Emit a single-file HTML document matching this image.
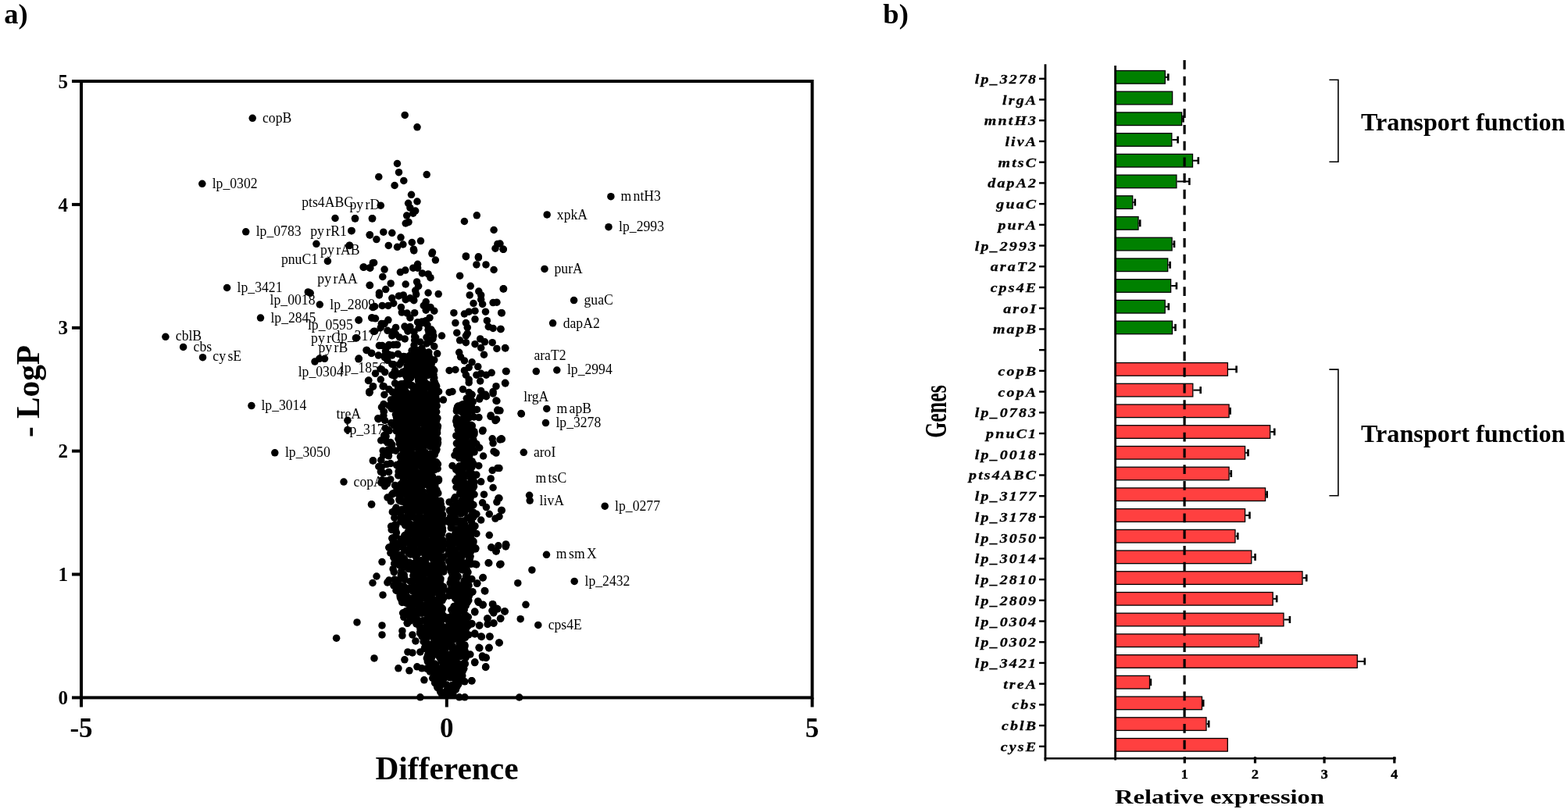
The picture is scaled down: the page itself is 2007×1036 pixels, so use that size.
<!DOCTYPE html>
<html><head><meta charset="utf-8"><title>Volcano plot and relative expression</title>
<style>html,body{margin:0;padding:0;background:#fff;width:2007px;height:1036px;overflow:hidden}svg{display:block}</style>
</head><body>
<svg width="2007" height="1036" viewBox="0 0 2007 1036">
<rect width="2007" height="1036" fill="#fff"/>
<text x="5.3" y="29.6" font-family="'Liberation Serif','Times New Roman',serif" font-weight="bold" font-size="36.6">a)</text>
<text x="1130.3" y="29.6" font-family="'Liberation Serif','Times New Roman',serif" font-weight="bold" font-size="36.6">b)</text>
<rect x="104" y="104" width="935.5999999999999" height="789.4" fill="none" stroke="#000" stroke-width="4"/>
<line x1="92" y1="893.4" x2="104" y2="893.4" stroke="#000" stroke-width="4"/>
<text x="87" y="902.0" text-anchor="end" font-family="'Liberation Serif','Times New Roman',serif" font-weight="bold" font-size="25">0</text>
<line x1="92" y1="735.5" x2="104" y2="735.5" stroke="#000" stroke-width="4"/>
<text x="87" y="744.1" text-anchor="end" font-family="'Liberation Serif','Times New Roman',serif" font-weight="bold" font-size="25">1</text>
<line x1="92" y1="577.6" x2="104" y2="577.6" stroke="#000" stroke-width="4"/>
<text x="87" y="586.2" text-anchor="end" font-family="'Liberation Serif','Times New Roman',serif" font-weight="bold" font-size="25">2</text>
<line x1="92" y1="419.8" x2="104" y2="419.8" stroke="#000" stroke-width="4"/>
<text x="87" y="428.4" text-anchor="end" font-family="'Liberation Serif','Times New Roman',serif" font-weight="bold" font-size="25">3</text>
<line x1="92" y1="261.9" x2="104" y2="261.9" stroke="#000" stroke-width="4"/>
<text x="87" y="270.5" text-anchor="end" font-family="'Liberation Serif','Times New Roman',serif" font-weight="bold" font-size="25">4</text>
<line x1="92" y1="104.0" x2="104" y2="104.0" stroke="#000" stroke-width="4"/>
<text x="87" y="112.6" text-anchor="end" font-family="'Liberation Serif','Times New Roman',serif" font-weight="bold" font-size="25">5</text>
<line x1="104.0" y1="893.4" x2="104.0" y2="905.5" stroke="#000" stroke-width="4"/>
<text x="104.0" y="944" text-anchor="middle" font-family="'Liberation Serif','Times New Roman',serif" font-weight="bold" font-size="35">-5</text>
<line x1="571.8" y1="893.4" x2="571.8" y2="905.5" stroke="#000" stroke-width="4"/>
<text x="571.8" y="944" text-anchor="middle" font-family="'Liberation Serif','Times New Roman',serif" font-weight="bold" font-size="35">0</text>
<line x1="1039.6" y1="893.4" x2="1039.6" y2="905.5" stroke="#000" stroke-width="4"/>
<text x="1039.6" y="944" text-anchor="middle" font-family="'Liberation Serif','Times New Roman',serif" font-weight="bold" font-size="35">5</text>
<text x="572" y="998" text-anchor="middle" font-family="'Liberation Serif','Times New Roman',serif" font-weight="bold" font-size="41.4">Difference</text>
<text transform="translate(50,501) rotate(-90)" text-anchor="middle" font-family="'Liberation Serif','Times New Roman',serif" font-weight="bold" font-size="41.3">- LogP</text>
<rect x="1427.6" y="90.50" width="63.70" height="16.6" fill="#008000" stroke="#000" stroke-width="1.3"/>
<line x1="1491.9" y1="98.8" x2="1495.3" y2="98.8" stroke="#000" stroke-width="2"/>
<line x1="1495.3" y1="94.3" x2="1495.3" y2="103.3" stroke="#000" stroke-width="2.6"/>
<rect x="1427.6" y="117.22" width="73.00" height="16.6" fill="#008000" stroke="#000" stroke-width="1.3"/>
<rect x="1427.6" y="143.94" width="85.00" height="16.6" fill="#008000" stroke="#000" stroke-width="1.3"/>
<line x1="1513.2" y1="152.2" x2="1514.5" y2="152.2" stroke="#000" stroke-width="2"/>
<line x1="1514.5" y1="147.7" x2="1514.5" y2="156.7" stroke="#000" stroke-width="2.6"/>
<rect x="1427.6" y="170.66" width="72.20" height="16.6" fill="#008000" stroke="#000" stroke-width="1.3"/>
<line x1="1500.4" y1="179.0" x2="1507.6" y2="179.0" stroke="#000" stroke-width="2"/>
<line x1="1507.6" y1="174.5" x2="1507.6" y2="183.5" stroke="#000" stroke-width="2.6"/>
<rect x="1427.6" y="197.38" width="98.90" height="16.6" fill="#008000" stroke="#000" stroke-width="1.3"/>
<line x1="1527.1" y1="205.7" x2="1533.8" y2="205.7" stroke="#000" stroke-width="2"/>
<line x1="1533.8" y1="201.2" x2="1533.8" y2="210.2" stroke="#000" stroke-width="2.6"/>
<rect x="1427.6" y="224.10" width="78.30" height="16.6" fill="#008000" stroke="#000" stroke-width="1.3"/>
<line x1="1506.5" y1="232.4" x2="1522.4" y2="232.4" stroke="#000" stroke-width="2"/>
<line x1="1522.4" y1="227.9" x2="1522.4" y2="236.9" stroke="#000" stroke-width="2.6"/>
<rect x="1427.6" y="250.82" width="22.10" height="16.6" fill="#008000" stroke="#000" stroke-width="1.3"/>
<line x1="1450.3" y1="259.1" x2="1452.8" y2="259.1" stroke="#000" stroke-width="2"/>
<line x1="1452.8" y1="254.6" x2="1452.8" y2="263.6" stroke="#000" stroke-width="2.6"/>
<rect x="1427.6" y="277.54" width="29.40" height="16.6" fill="#008000" stroke="#000" stroke-width="1.3"/>
<line x1="1457.6" y1="285.8" x2="1459.2" y2="285.8" stroke="#000" stroke-width="2"/>
<line x1="1459.2" y1="281.3" x2="1459.2" y2="290.3" stroke="#000" stroke-width="2.6"/>
<rect x="1427.6" y="304.26" width="72.50" height="16.6" fill="#008000" stroke="#000" stroke-width="1.3"/>
<line x1="1500.7" y1="312.6" x2="1503.0" y2="312.6" stroke="#000" stroke-width="2"/>
<line x1="1503.0" y1="308.1" x2="1503.0" y2="317.1" stroke="#000" stroke-width="2.6"/>
<rect x="1427.6" y="330.98" width="67.10" height="16.6" fill="#008000" stroke="#000" stroke-width="1.3"/>
<line x1="1495.3" y1="339.3" x2="1497.6" y2="339.3" stroke="#000" stroke-width="2"/>
<line x1="1497.6" y1="334.8" x2="1497.6" y2="343.8" stroke="#000" stroke-width="2.6"/>
<rect x="1427.6" y="357.70" width="71.00" height="16.6" fill="#008000" stroke="#000" stroke-width="1.3"/>
<line x1="1499.2" y1="366.0" x2="1505.9" y2="366.0" stroke="#000" stroke-width="2"/>
<line x1="1505.9" y1="361.5" x2="1505.9" y2="370.5" stroke="#000" stroke-width="2.6"/>
<rect x="1427.6" y="384.42" width="63.60" height="16.6" fill="#008000" stroke="#000" stroke-width="1.3"/>
<line x1="1491.8" y1="392.7" x2="1495.8" y2="392.7" stroke="#000" stroke-width="2"/>
<line x1="1495.8" y1="388.2" x2="1495.8" y2="397.2" stroke="#000" stroke-width="2.6"/>
<rect x="1427.6" y="411.14" width="72.90" height="16.6" fill="#008000" stroke="#000" stroke-width="1.3"/>
<line x1="1501.1" y1="419.4" x2="1504.5" y2="419.4" stroke="#000" stroke-width="2"/>
<line x1="1504.5" y1="414.9" x2="1504.5" y2="423.9" stroke="#000" stroke-width="2.6"/>
<rect x="1427.6" y="464.58" width="143.80" height="16.6" fill="#FF4040" stroke="#000" stroke-width="1.3"/>
<line x1="1572.0" y1="472.9" x2="1582.6" y2="472.9" stroke="#000" stroke-width="2"/>
<line x1="1582.6" y1="468.4" x2="1582.6" y2="477.4" stroke="#000" stroke-width="2.6"/>
<rect x="1427.6" y="491.30" width="99.20" height="16.6" fill="#FF4040" stroke="#000" stroke-width="1.3"/>
<line x1="1527.4" y1="499.6" x2="1536.7" y2="499.6" stroke="#000" stroke-width="2"/>
<line x1="1536.7" y1="495.1" x2="1536.7" y2="504.1" stroke="#000" stroke-width="2.6"/>
<rect x="1427.6" y="518.02" width="145.50" height="16.6" fill="#FF4040" stroke="#000" stroke-width="1.3"/>
<line x1="1573.7" y1="526.3" x2="1574.6" y2="526.3" stroke="#000" stroke-width="2"/>
<line x1="1574.6" y1="521.8" x2="1574.6" y2="530.8" stroke="#000" stroke-width="2.6"/>
<rect x="1427.6" y="544.74" width="198.10" height="16.6" fill="#FF4040" stroke="#000" stroke-width="1.3"/>
<line x1="1626.3" y1="553.0" x2="1631.3" y2="553.0" stroke="#000" stroke-width="2"/>
<line x1="1631.3" y1="548.5" x2="1631.3" y2="557.5" stroke="#000" stroke-width="2.6"/>
<rect x="1427.6" y="571.46" width="166.00" height="16.6" fill="#FF4040" stroke="#000" stroke-width="1.3"/>
<line x1="1594.2" y1="579.8" x2="1597.5" y2="579.8" stroke="#000" stroke-width="2"/>
<line x1="1597.5" y1="575.3" x2="1597.5" y2="584.3" stroke="#000" stroke-width="2.6"/>
<rect x="1427.6" y="598.18" width="145.50" height="16.6" fill="#FF4040" stroke="#000" stroke-width="1.3"/>
<line x1="1573.7" y1="606.5" x2="1575.8" y2="606.5" stroke="#000" stroke-width="2"/>
<line x1="1575.8" y1="602.0" x2="1575.8" y2="611.0" stroke="#000" stroke-width="2.6"/>
<rect x="1427.6" y="624.90" width="192.00" height="16.6" fill="#FF4040" stroke="#000" stroke-width="1.3"/>
<line x1="1620.2" y1="633.2" x2="1621.7" y2="633.2" stroke="#000" stroke-width="2"/>
<line x1="1621.7" y1="628.7" x2="1621.7" y2="637.7" stroke="#000" stroke-width="2.6"/>
<rect x="1427.6" y="651.62" width="166.00" height="16.6" fill="#FF4040" stroke="#000" stroke-width="1.3"/>
<line x1="1594.2" y1="659.9" x2="1599.5" y2="659.9" stroke="#000" stroke-width="2"/>
<line x1="1599.5" y1="655.4" x2="1599.5" y2="664.4" stroke="#000" stroke-width="2.6"/>
<rect x="1427.6" y="678.34" width="153.40" height="16.6" fill="#FF4040" stroke="#000" stroke-width="1.3"/>
<line x1="1581.6" y1="686.6" x2="1584.3" y2="686.6" stroke="#000" stroke-width="2"/>
<line x1="1584.3" y1="682.1" x2="1584.3" y2="691.1" stroke="#000" stroke-width="2.6"/>
<rect x="1427.6" y="705.06" width="174.20" height="16.6" fill="#FF4040" stroke="#000" stroke-width="1.3"/>
<line x1="1602.4" y1="713.4" x2="1606.6" y2="713.4" stroke="#000" stroke-width="2"/>
<line x1="1606.6" y1="708.9" x2="1606.6" y2="717.9" stroke="#000" stroke-width="2.6"/>
<rect x="1427.6" y="731.78" width="239.40" height="16.6" fill="#FF4040" stroke="#000" stroke-width="1.3"/>
<line x1="1667.6" y1="740.1" x2="1672.3" y2="740.1" stroke="#000" stroke-width="2"/>
<line x1="1672.3" y1="735.6" x2="1672.3" y2="744.6" stroke="#000" stroke-width="2.6"/>
<rect x="1427.6" y="758.50" width="201.60" height="16.6" fill="#FF4040" stroke="#000" stroke-width="1.3"/>
<line x1="1629.8" y1="766.8" x2="1634.2" y2="766.8" stroke="#000" stroke-width="2"/>
<line x1="1634.2" y1="762.3" x2="1634.2" y2="771.3" stroke="#000" stroke-width="2.6"/>
<rect x="1427.6" y="785.22" width="215.40" height="16.6" fill="#FF4040" stroke="#000" stroke-width="1.3"/>
<line x1="1643.6" y1="793.5" x2="1650.9" y2="793.5" stroke="#000" stroke-width="2"/>
<line x1="1650.9" y1="789.0" x2="1650.9" y2="798.0" stroke="#000" stroke-width="2.6"/>
<rect x="1427.6" y="811.94" width="184.10" height="16.6" fill="#FF4040" stroke="#000" stroke-width="1.3"/>
<line x1="1612.3" y1="820.2" x2="1614.4" y2="820.2" stroke="#000" stroke-width="2"/>
<line x1="1614.4" y1="815.7" x2="1614.4" y2="824.7" stroke="#000" stroke-width="2.6"/>
<rect x="1427.6" y="838.66" width="309.70" height="16.6" fill="#FF4040" stroke="#000" stroke-width="1.3"/>
<line x1="1737.9" y1="847.0" x2="1746.8" y2="847.0" stroke="#000" stroke-width="2"/>
<line x1="1746.8" y1="842.5" x2="1746.8" y2="851.5" stroke="#000" stroke-width="2.6"/>
<rect x="1427.6" y="865.38" width="43.90" height="16.6" fill="#FF4040" stroke="#000" stroke-width="1.3"/>
<line x1="1472.1" y1="873.7" x2="1472.9" y2="873.7" stroke="#000" stroke-width="2"/>
<line x1="1472.9" y1="869.2" x2="1472.9" y2="878.2" stroke="#000" stroke-width="2.6"/>
<rect x="1427.6" y="892.10" width="110.90" height="16.6" fill="#FF4040" stroke="#000" stroke-width="1.3"/>
<line x1="1539.1" y1="900.4" x2="1540.2" y2="900.4" stroke="#000" stroke-width="2"/>
<line x1="1540.2" y1="895.9" x2="1540.2" y2="904.9" stroke="#000" stroke-width="2.6"/>
<rect x="1427.6" y="918.82" width="116.40" height="16.6" fill="#FF4040" stroke="#000" stroke-width="1.3"/>
<line x1="1544.6" y1="927.1" x2="1547.2" y2="927.1" stroke="#000" stroke-width="2"/>
<line x1="1547.2" y1="922.6" x2="1547.2" y2="931.6" stroke="#000" stroke-width="2.6"/>
<rect x="1427.6" y="945.54" width="143.70" height="16.6" fill="#FF4040" stroke="#000" stroke-width="1.3"/>
<line x1="1516.1" y1="77" x2="1516.1" y2="968" stroke="#000" stroke-width="3.2" stroke-dasharray="11.8 8.93"/>
<line x1="1427.6" y1="84" x2="1427.6" y2="973.6" stroke="#000" stroke-width="2.8"/>
<line x1="1338.0" y1="82.3" x2="1338.0" y2="974.4" stroke="#000" stroke-width="2.8"/>
<line x1="1336.6" y1="971.2" x2="1786.6" y2="971.2" stroke="#000" stroke-width="2.6"/>
<line x1="1516.3" y1="969" x2="1516.3" y2="977.4" stroke="#000" stroke-width="3.2"/>
<text transform="translate(1516.3,996.8) scale(1.12,1)" text-anchor="middle" font-family="'Liberation Serif','Times New Roman',serif" font-weight="bold" font-size="16" stroke="#000" stroke-width="0.45">1</text>
<line x1="1606.5" y1="969" x2="1606.5" y2="977.4" stroke="#000" stroke-width="3.2"/>
<text transform="translate(1606.5,996.8) scale(1.12,1)" text-anchor="middle" font-family="'Liberation Serif','Times New Roman',serif" font-weight="bold" font-size="16" stroke="#000" stroke-width="0.45">2</text>
<line x1="1695.1" y1="969" x2="1695.1" y2="977.4" stroke="#000" stroke-width="3.2"/>
<text transform="translate(1695.1,996.8) scale(1.12,1)" text-anchor="middle" font-family="'Liberation Serif','Times New Roman',serif" font-weight="bold" font-size="16" stroke="#000" stroke-width="0.45">3</text>
<line x1="1784.8" y1="969" x2="1784.8" y2="977.4" stroke="#000" stroke-width="3.2"/>
<text transform="translate(1784.8,996.8) scale(1.12,1)" text-anchor="middle" font-family="'Liberation Serif','Times New Roman',serif" font-weight="bold" font-size="16" stroke="#000" stroke-width="0.45">4</text>
<line x1="1330" y1="100.80" x2="1338.0" y2="100.80" stroke="#000" stroke-width="2.4"/>
<text transform="translate(1328.2,106.80) scale(1.16,1)" text-anchor="end" font-family="'Liberation Serif','Times New Roman',serif" font-weight="bold" font-style="italic" font-size="17.2" letter-spacing="1.85" stroke="#000" stroke-width="0.28">lp_3278</text>
<line x1="1330" y1="127.52" x2="1338.0" y2="127.52" stroke="#000" stroke-width="2.4"/>
<text transform="translate(1328.2,133.52) scale(1.16,1)" text-anchor="end" font-family="'Liberation Serif','Times New Roman',serif" font-weight="bold" font-style="italic" font-size="17.2" letter-spacing="1.85" stroke="#000" stroke-width="0.28">lrgA</text>
<line x1="1330" y1="154.24" x2="1338.0" y2="154.24" stroke="#000" stroke-width="2.4"/>
<text transform="translate(1328.2,160.24) scale(1.16,1)" text-anchor="end" font-family="'Liberation Serif','Times New Roman',serif" font-weight="bold" font-style="italic" font-size="17.2" letter-spacing="1.85" stroke="#000" stroke-width="0.28">mntH3</text>
<line x1="1330" y1="180.96" x2="1338.0" y2="180.96" stroke="#000" stroke-width="2.4"/>
<text transform="translate(1328.2,186.96) scale(1.16,1)" text-anchor="end" font-family="'Liberation Serif','Times New Roman',serif" font-weight="bold" font-style="italic" font-size="17.2" letter-spacing="1.85" stroke="#000" stroke-width="0.28">livA</text>
<line x1="1330" y1="207.68" x2="1338.0" y2="207.68" stroke="#000" stroke-width="2.4"/>
<text transform="translate(1328.2,213.68) scale(1.16,1)" text-anchor="end" font-family="'Liberation Serif','Times New Roman',serif" font-weight="bold" font-style="italic" font-size="17.2" letter-spacing="1.85" stroke="#000" stroke-width="0.28">mtsC</text>
<line x1="1330" y1="234.40" x2="1338.0" y2="234.40" stroke="#000" stroke-width="2.4"/>
<text transform="translate(1328.2,240.40) scale(1.16,1)" text-anchor="end" font-family="'Liberation Serif','Times New Roman',serif" font-weight="bold" font-style="italic" font-size="17.2" letter-spacing="1.85" stroke="#000" stroke-width="0.28">dapA2</text>
<line x1="1330" y1="261.12" x2="1338.0" y2="261.12" stroke="#000" stroke-width="2.4"/>
<text transform="translate(1328.2,267.12) scale(1.16,1)" text-anchor="end" font-family="'Liberation Serif','Times New Roman',serif" font-weight="bold" font-style="italic" font-size="17.2" letter-spacing="1.85" stroke="#000" stroke-width="0.28">guaC</text>
<line x1="1330" y1="287.84" x2="1338.0" y2="287.84" stroke="#000" stroke-width="2.4"/>
<text transform="translate(1328.2,293.84) scale(1.16,1)" text-anchor="end" font-family="'Liberation Serif','Times New Roman',serif" font-weight="bold" font-style="italic" font-size="17.2" letter-spacing="1.85" stroke="#000" stroke-width="0.28">purA</text>
<line x1="1330" y1="314.56" x2="1338.0" y2="314.56" stroke="#000" stroke-width="2.4"/>
<text transform="translate(1328.2,320.56) scale(1.16,1)" text-anchor="end" font-family="'Liberation Serif','Times New Roman',serif" font-weight="bold" font-style="italic" font-size="17.2" letter-spacing="1.85" stroke="#000" stroke-width="0.28">lp_2993</text>
<line x1="1330" y1="341.28" x2="1338.0" y2="341.28" stroke="#000" stroke-width="2.4"/>
<text transform="translate(1328.2,347.28) scale(1.16,1)" text-anchor="end" font-family="'Liberation Serif','Times New Roman',serif" font-weight="bold" font-style="italic" font-size="17.2" letter-spacing="1.85" stroke="#000" stroke-width="0.28">araT2</text>
<line x1="1330" y1="368.00" x2="1338.0" y2="368.00" stroke="#000" stroke-width="2.4"/>
<text transform="translate(1328.2,374.00) scale(1.16,1)" text-anchor="end" font-family="'Liberation Serif','Times New Roman',serif" font-weight="bold" font-style="italic" font-size="17.2" letter-spacing="1.85" stroke="#000" stroke-width="0.28">cps4E</text>
<line x1="1330" y1="394.72" x2="1338.0" y2="394.72" stroke="#000" stroke-width="2.4"/>
<text transform="translate(1328.2,400.72) scale(1.16,1)" text-anchor="end" font-family="'Liberation Serif','Times New Roman',serif" font-weight="bold" font-style="italic" font-size="17.2" letter-spacing="1.85" stroke="#000" stroke-width="0.28">aroI</text>
<line x1="1330" y1="421.44" x2="1338.0" y2="421.44" stroke="#000" stroke-width="2.4"/>
<text transform="translate(1328.2,427.44) scale(1.16,1)" text-anchor="end" font-family="'Liberation Serif','Times New Roman',serif" font-weight="bold" font-style="italic" font-size="17.2" letter-spacing="1.85" stroke="#000" stroke-width="0.28">mapB</text>
<line x1="1330" y1="448.16" x2="1338.0" y2="448.16" stroke="#000" stroke-width="2.4"/>
<line x1="1330" y1="474.88" x2="1338.0" y2="474.88" stroke="#000" stroke-width="2.4"/>
<text transform="translate(1328.2,480.88) scale(1.16,1)" text-anchor="end" font-family="'Liberation Serif','Times New Roman',serif" font-weight="bold" font-style="italic" font-size="17.2" letter-spacing="1.85" stroke="#000" stroke-width="0.28">copB</text>
<line x1="1330" y1="501.60" x2="1338.0" y2="501.60" stroke="#000" stroke-width="2.4"/>
<text transform="translate(1328.2,507.60) scale(1.16,1)" text-anchor="end" font-family="'Liberation Serif','Times New Roman',serif" font-weight="bold" font-style="italic" font-size="17.2" letter-spacing="1.85" stroke="#000" stroke-width="0.28">copA</text>
<line x1="1330" y1="528.32" x2="1338.0" y2="528.32" stroke="#000" stroke-width="2.4"/>
<text transform="translate(1328.2,534.32) scale(1.16,1)" text-anchor="end" font-family="'Liberation Serif','Times New Roman',serif" font-weight="bold" font-style="italic" font-size="17.2" letter-spacing="1.85" stroke="#000" stroke-width="0.28">lp_0783</text>
<line x1="1330" y1="555.04" x2="1338.0" y2="555.04" stroke="#000" stroke-width="2.4"/>
<text transform="translate(1328.2,561.04) scale(1.16,1)" text-anchor="end" font-family="'Liberation Serif','Times New Roman',serif" font-weight="bold" font-style="italic" font-size="17.2" letter-spacing="1.85" stroke="#000" stroke-width="0.28">pnuC1</text>
<line x1="1330" y1="581.76" x2="1338.0" y2="581.76" stroke="#000" stroke-width="2.4"/>
<text transform="translate(1328.2,587.76) scale(1.16,1)" text-anchor="end" font-family="'Liberation Serif','Times New Roman',serif" font-weight="bold" font-style="italic" font-size="17.2" letter-spacing="1.85" stroke="#000" stroke-width="0.28">lp_0018</text>
<line x1="1330" y1="608.48" x2="1338.0" y2="608.48" stroke="#000" stroke-width="2.4"/>
<text transform="translate(1328.2,614.48) scale(1.16,1)" text-anchor="end" font-family="'Liberation Serif','Times New Roman',serif" font-weight="bold" font-style="italic" font-size="17.2" letter-spacing="1.85" stroke="#000" stroke-width="0.28">pts4ABC</text>
<line x1="1330" y1="635.20" x2="1338.0" y2="635.20" stroke="#000" stroke-width="2.4"/>
<text transform="translate(1328.2,641.20) scale(1.16,1)" text-anchor="end" font-family="'Liberation Serif','Times New Roman',serif" font-weight="bold" font-style="italic" font-size="17.2" letter-spacing="1.85" stroke="#000" stroke-width="0.28">lp_3177</text>
<line x1="1330" y1="661.92" x2="1338.0" y2="661.92" stroke="#000" stroke-width="2.4"/>
<text transform="translate(1328.2,667.92) scale(1.16,1)" text-anchor="end" font-family="'Liberation Serif','Times New Roman',serif" font-weight="bold" font-style="italic" font-size="17.2" letter-spacing="1.85" stroke="#000" stroke-width="0.28">lp_3178</text>
<line x1="1330" y1="688.64" x2="1338.0" y2="688.64" stroke="#000" stroke-width="2.4"/>
<text transform="translate(1328.2,694.64) scale(1.16,1)" text-anchor="end" font-family="'Liberation Serif','Times New Roman',serif" font-weight="bold" font-style="italic" font-size="17.2" letter-spacing="1.85" stroke="#000" stroke-width="0.28">lp_3050</text>
<line x1="1330" y1="715.36" x2="1338.0" y2="715.36" stroke="#000" stroke-width="2.4"/>
<text transform="translate(1328.2,721.36) scale(1.16,1)" text-anchor="end" font-family="'Liberation Serif','Times New Roman',serif" font-weight="bold" font-style="italic" font-size="17.2" letter-spacing="1.85" stroke="#000" stroke-width="0.28">lp_3014</text>
<line x1="1330" y1="742.08" x2="1338.0" y2="742.08" stroke="#000" stroke-width="2.4"/>
<text transform="translate(1328.2,748.08) scale(1.16,1)" text-anchor="end" font-family="'Liberation Serif','Times New Roman',serif" font-weight="bold" font-style="italic" font-size="17.2" letter-spacing="1.85" stroke="#000" stroke-width="0.28">lp_2810</text>
<line x1="1330" y1="768.80" x2="1338.0" y2="768.80" stroke="#000" stroke-width="2.4"/>
<text transform="translate(1328.2,774.80) scale(1.16,1)" text-anchor="end" font-family="'Liberation Serif','Times New Roman',serif" font-weight="bold" font-style="italic" font-size="17.2" letter-spacing="1.85" stroke="#000" stroke-width="0.28">lp_2809</text>
<line x1="1330" y1="795.52" x2="1338.0" y2="795.52" stroke="#000" stroke-width="2.4"/>
<text transform="translate(1328.2,801.52) scale(1.16,1)" text-anchor="end" font-family="'Liberation Serif','Times New Roman',serif" font-weight="bold" font-style="italic" font-size="17.2" letter-spacing="1.85" stroke="#000" stroke-width="0.28">lp_0304</text>
<line x1="1330" y1="822.24" x2="1338.0" y2="822.24" stroke="#000" stroke-width="2.4"/>
<text transform="translate(1328.2,828.24) scale(1.16,1)" text-anchor="end" font-family="'Liberation Serif','Times New Roman',serif" font-weight="bold" font-style="italic" font-size="17.2" letter-spacing="1.85" stroke="#000" stroke-width="0.28">lp_0302</text>
<line x1="1330" y1="848.96" x2="1338.0" y2="848.96" stroke="#000" stroke-width="2.4"/>
<text transform="translate(1328.2,854.96) scale(1.16,1)" text-anchor="end" font-family="'Liberation Serif','Times New Roman',serif" font-weight="bold" font-style="italic" font-size="17.2" letter-spacing="1.85" stroke="#000" stroke-width="0.28">lp_3421</text>
<line x1="1330" y1="875.68" x2="1338.0" y2="875.68" stroke="#000" stroke-width="2.4"/>
<text transform="translate(1328.2,881.68) scale(1.16,1)" text-anchor="end" font-family="'Liberation Serif','Times New Roman',serif" font-weight="bold" font-style="italic" font-size="17.2" letter-spacing="1.85" stroke="#000" stroke-width="0.28">treA</text>
<line x1="1330" y1="902.40" x2="1338.0" y2="902.40" stroke="#000" stroke-width="2.4"/>
<text transform="translate(1328.2,908.40) scale(1.16,1)" text-anchor="end" font-family="'Liberation Serif','Times New Roman',serif" font-weight="bold" font-style="italic" font-size="17.2" letter-spacing="1.85" stroke="#000" stroke-width="0.28">cbs</text>
<line x1="1330" y1="929.12" x2="1338.0" y2="929.12" stroke="#000" stroke-width="2.4"/>
<text transform="translate(1328.2,935.12) scale(1.16,1)" text-anchor="end" font-family="'Liberation Serif','Times New Roman',serif" font-weight="bold" font-style="italic" font-size="17.2" letter-spacing="1.85" stroke="#000" stroke-width="0.28">cblB</text>
<line x1="1330" y1="955.84" x2="1338.0" y2="955.84" stroke="#000" stroke-width="2.4"/>
<text transform="translate(1328.2,961.84) scale(1.16,1)" text-anchor="end" font-family="'Liberation Serif','Times New Roman',serif" font-weight="bold" font-style="italic" font-size="17.2" letter-spacing="1.85" stroke="#000" stroke-width="0.28">cysE</text>
<text x="1427" y="1029.3" font-family="'Liberation Serif','Times New Roman',serif" font-weight="bold" font-size="25" textLength="268" lengthAdjust="spacingAndGlyphs">Relative expression</text>
<text transform="translate(1210.5,527) rotate(-90) scale(0.665,1)" text-anchor="middle" font-family="'Liberation Serif','Times New Roman',serif" font-weight="bold" font-size="39">Genes</text>
<path d="M1701.4 102.3 H1712.9 V207.2 H1701.4" fill="none" stroke="#000" stroke-width="1.6"/>
<path d="M1701.4 473.1 H1712.9 V634.7 H1701.4" fill="none" stroke="#000" stroke-width="1.6"/>
<text x="1742" y="167.1" font-family="'Liberation Serif','Times New Roman',serif" font-weight="bold" font-size="32.2">Transport function</text>
<text x="1742" y="566" font-family="'Liberation Serif','Times New Roman',serif" font-weight="bold" font-size="32.2">Transport function</text>
<g fill="#000">
<circle cx="323.2" cy="151.3" r="4.75"/>
<circle cx="258.8" cy="235.3" r="4.75"/>
<circle cx="314.7" cy="296.8" r="4.75"/>
<circle cx="290.6" cy="368.5" r="4.75"/>
<circle cx="394.3" cy="373.9" r="4.75"/>
<circle cx="397.2" cy="375.3" r="4.75"/>
<circle cx="409.3" cy="390.0" r="4.75"/>
<circle cx="333.5" cy="407.1" r="4.75"/>
<circle cx="211.9" cy="431.3" r="4.75"/>
<circle cx="234.6" cy="444.4" r="4.75"/>
<circle cx="259.5" cy="457.7" r="4.75"/>
<circle cx="321.9" cy="519.6" r="4.75"/>
<circle cx="444.9" cy="538.3" r="4.75"/>
<circle cx="444.9" cy="550.5" r="4.75"/>
<circle cx="351.8" cy="579.8" r="4.75"/>
<circle cx="440.0" cy="617.1" r="4.75"/>
<circle cx="781.9" cy="251.7" r="4.75"/>
<circle cx="700.2" cy="274.9" r="4.75"/>
<circle cx="779.0" cy="290.7" r="4.75"/>
<circle cx="697.0" cy="344.4" r="4.75"/>
<circle cx="734.6" cy="384.6" r="4.75"/>
<circle cx="707.6" cy="413.8" r="4.75"/>
<circle cx="686.3" cy="475.6" r="4.75"/>
<circle cx="712.8" cy="474.0" r="4.75"/>
<circle cx="667.4" cy="530.0" r="4.75"/>
<circle cx="699.8" cy="523.4" r="4.75"/>
<circle cx="698.5" cy="541.6" r="4.75"/>
<circle cx="670.3" cy="579.3" r="4.75"/>
<circle cx="677.6" cy="634.3" r="4.75"/>
<circle cx="678.2" cy="641.1" r="4.75"/>
<circle cx="774.2" cy="648.2" r="4.75"/>
<circle cx="699.5" cy="710.3" r="4.75"/>
<circle cx="735.2" cy="744.4" r="4.75"/>
<circle cx="688.8" cy="800.4" r="4.75"/>
<circle cx="404.9" cy="312.3" r="4.75"/>
<circle cx="447.4" cy="314.2" r="4.75"/>
<circle cx="419.4" cy="334.4" r="4.75"/>
<circle cx="465.7" cy="342.1" r="4.75"/>
<circle cx="473.4" cy="342.9" r="4.75"/>
<circle cx="477.3" cy="336.7" r="4.75"/>
<circle cx="473.4" cy="365.3" r="4.75"/>
<circle cx="459.0" cy="410.0" r="4.75"/>
<circle cx="476.3" cy="407.1" r="4.75"/>
<circle cx="478.3" cy="424.5" r="4.75"/>
<circle cx="477.3" cy="393.6" r="4.75"/>
<circle cx="456.1" cy="432.8" r="4.75"/>
<circle cx="469.6" cy="448.6" r="4.75"/>
<circle cx="475.4" cy="452.5" r="4.75"/>
<circle cx="403.0" cy="463.1" r="4.75"/>
<circle cx="408.8" cy="459.3" r="4.75"/>
<circle cx="415.5" cy="459.3" r="4.75"/>
<circle cx="459.0" cy="459.8" r="4.75"/>
<circle cx="471.5" cy="487.5" r="4.75"/>
<circle cx="477.3" cy="495.2" r="4.75"/>
<circle cx="473.1" cy="502.2" r="4.75"/>
<circle cx="477.3" cy="590.0" r="4.75"/>
<circle cx="475.4" cy="646.0" r="4.75"/>
<circle cx="429.0" cy="279.5" r="4.75"/>
<circle cx="454.5" cy="279.8" r="4.75"/>
<circle cx="476.3" cy="279.8" r="4.75"/>
<circle cx="449.9" cy="295.7" r="4.75"/>
<circle cx="473.4" cy="300.9" r="4.75"/>
<circle cx="644.2" cy="319.3" r="4.75"/>
<circle cx="640.0" cy="312.0" r="4.75"/>
<circle cx="644.2" cy="369.9" r="4.75"/>
<circle cx="642.3" cy="400.8" r="4.75"/>
<circle cx="641.0" cy="421.5" r="4.75"/>
<circle cx="646.8" cy="446.0" r="4.75"/>
<circle cx="648.1" cy="475.6" r="4.75"/>
<circle cx="646.8" cy="491.0" r="4.75"/>
<circle cx="640.0" cy="525.8" r="4.75"/>
<circle cx="642.3" cy="562.4" r="4.75"/>
<circle cx="640.0" cy="563.0" r="4.75"/>
<circle cx="639.0" cy="599.6" r="4.75"/>
<circle cx="639.0" cy="638.0" r="4.75"/>
<circle cx="642.3" cy="653.6" r="4.75"/>
<circle cx="639.0" cy="661.4" r="4.75"/>
<circle cx="647.7" cy="698.0" r="4.75"/>
<circle cx="641.0" cy="722.2" r="4.75"/>
<circle cx="680.9" cy="729.9" r="4.75"/>
<circle cx="662.8" cy="746.7" r="4.75"/>
<circle cx="673.0" cy="774.3" r="4.75"/>
<circle cx="666.2" cy="792.7" r="4.75"/>
<circle cx="664.7" cy="893.0" r="4.75"/>
<circle cx="430.6" cy="817.2" r="4.75"/>
<circle cx="498.0" cy="701.3" r="4.75"/>
<circle cx="506.2" cy="711.1" r="4.75"/>
<circle cx="532.0" cy="432.0" r="4.75"/>
<circle cx="538.0" cy="438.0" r="4.75"/>
<circle cx="530.0" cy="442.0" r="4.75"/>
<circle cx="540.0" cy="446.0" r="4.75"/>
<circle cx="546.0" cy="440.0" r="4.75"/>
<circle cx="540.0" cy="412.0" r="4.75"/>
<circle cx="547.0" cy="416.0" r="4.75"/>
<circle cx="552.0" cy="422.0" r="4.75"/>
<circle cx="536.0" cy="420.0" r="4.75"/>
<circle cx="549.0" cy="426.0" r="4.75"/>
<circle cx="554.0" cy="434.0" r="4.75"/>
<circle cx="546.0" cy="432.0" r="4.75"/>
<circle cx="518.0" cy="418.0" r="4.75"/>
<circle cx="524.0" cy="422.0" r="4.75"/>
<circle cx="530.0" cy="425.0" r="4.75"/>
<circle cx="465.1" cy="342.2" r="4.75"/>
<circle cx="473.8" cy="343.2" r="4.75"/>
<circle cx="478.6" cy="336.4" r="4.75"/>
<circle cx="492.1" cy="345.1" r="4.75"/>
<circle cx="489.8" cy="354.4" r="4.75"/>
<circle cx="512.4" cy="348.6" r="4.75"/>
<circle cx="518.8" cy="346.1" r="4.75"/>
<circle cx="528.8" cy="343.2" r="4.75"/>
<circle cx="534.6" cy="338.3" r="4.75"/>
<circle cx="534.6" cy="343.2" r="4.75"/>
<circle cx="540.4" cy="349.9" r="4.75"/>
<circle cx="548.1" cy="350.9" r="4.75"/>
<circle cx="551.0" cy="355.7" r="4.75"/>
<circle cx="529.8" cy="321.0" r="4.75"/>
<circle cx="552.9" cy="324.8" r="4.75"/>
<circle cx="557.4" cy="333.1" r="4.75"/>
<circle cx="596.4" cy="328.7" r="4.75"/>
<circle cx="612.4" cy="330.0" r="4.75"/>
<circle cx="609.9" cy="338.9" r="4.75"/>
<circle cx="622.0" cy="338.9" r="4.75"/>
<circle cx="632.1" cy="345.5" r="4.75"/>
<circle cx="588.6" cy="353.2" r="4.75"/>
<circle cx="644.6" cy="369.8" r="4.75"/>
<circle cx="473.2" cy="365.4" r="4.75"/>
<circle cx="493.7" cy="370.6" r="4.75"/>
<circle cx="500.2" cy="362.9" r="4.75"/>
<circle cx="519.2" cy="364.0" r="4.75"/>
<circle cx="533.6" cy="360.9" r="4.75"/>
<circle cx="535.6" cy="366.3" r="4.75"/>
<circle cx="531.7" cy="372.1" r="4.75"/>
<circle cx="532.7" cy="376.9" r="4.75"/>
<circle cx="485.4" cy="375.0" r="4.75"/>
<circle cx="485.4" cy="377.9" r="4.75"/>
<circle cx="501.8" cy="381.8" r="4.75"/>
<circle cx="510.5" cy="378.9" r="4.75"/>
<circle cx="516.3" cy="377.9" r="4.75"/>
<circle cx="519.2" cy="383.7" r="4.75"/>
<circle cx="524.9" cy="381.8" r="4.75"/>
<circle cx="529.8" cy="384.7" r="4.75"/>
<circle cx="548.1" cy="375.0" r="4.75"/>
<circle cx="561.2" cy="376.6" r="4.75"/>
<circle cx="545.2" cy="386.6" r="4.75"/>
<circle cx="542.3" cy="391.4" r="4.75"/>
<circle cx="547.1" cy="393.4" r="4.75"/>
<circle cx="551.0" cy="393.4" r="4.75"/>
<circle cx="555.8" cy="398.2" r="4.75"/>
<circle cx="545.2" cy="397.2" r="4.75"/>
<circle cx="479.6" cy="392.4" r="4.75"/>
<circle cx="489.2" cy="391.4" r="4.75"/>
<circle cx="496.9" cy="391.4" r="4.75"/>
<circle cx="503.7" cy="388.5" r="4.75"/>
<circle cx="513.4" cy="393.4" r="4.75"/>
<circle cx="514.3" cy="400.1" r="4.75"/>
<circle cx="521.1" cy="401.1" r="4.75"/>
<circle cx="524.9" cy="406.9" r="4.75"/>
<circle cx="530.7" cy="400.7" r="4.75"/>
<circle cx="602.2" cy="366.3" r="4.75"/>
<circle cx="612.8" cy="373.1" r="4.75"/>
<circle cx="615.7" cy="377.9" r="4.75"/>
<circle cx="615.7" cy="383.7" r="4.75"/>
<circle cx="617.6" cy="389.5" r="4.75"/>
<circle cx="606.0" cy="388.5" r="4.75"/>
<circle cx="601.2" cy="377.9" r="4.75"/>
<circle cx="631.1" cy="387.6" r="4.75"/>
<circle cx="635.9" cy="387.2" r="4.75"/>
<circle cx="641.7" cy="400.7" r="4.75"/>
<circle cx="621.5" cy="399.2" r="4.75"/>
<circle cx="608.0" cy="398.2" r="4.75"/>
<circle cx="600.2" cy="399.2" r="4.75"/>
<circle cx="594.4" cy="402.0" r="4.75"/>
<circle cx="580.9" cy="400.7" r="4.75"/>
<circle cx="459.3" cy="409.8" r="4.75"/>
<circle cx="475.7" cy="406.9" r="4.75"/>
<circle cx="480.5" cy="407.8" r="4.75"/>
<circle cx="488.3" cy="414.6" r="4.75"/>
<circle cx="496.9" cy="409.8" r="4.75"/>
<circle cx="492.1" cy="414.6" r="4.75"/>
<circle cx="487.3" cy="419.4" r="4.75"/>
<circle cx="479.6" cy="424.2" r="4.75"/>
<circle cx="496.0" cy="423.3" r="4.75"/>
<circle cx="503.7" cy="424.2" r="4.75"/>
<circle cx="506.6" cy="419.4" r="4.75"/>
<circle cx="519.2" cy="419.4" r="4.75"/>
<circle cx="524.9" cy="418.5" r="4.75"/>
<circle cx="522.0" cy="424.2" r="4.75"/>
<circle cx="534.6" cy="412.7" r="4.75"/>
<circle cx="540.4" cy="413.6" r="4.75"/>
<circle cx="545.2" cy="410.7" r="4.75"/>
<circle cx="550.0" cy="406.9" r="4.75"/>
<circle cx="548.1" cy="422.3" r="4.75"/>
<circle cx="553.9" cy="425.2" r="4.75"/>
<circle cx="554.9" cy="430.0" r="4.75"/>
<circle cx="565.5" cy="430.0" r="4.75"/>
<circle cx="582.9" cy="413.6" r="4.75"/>
<circle cx="596.4" cy="413.6" r="4.75"/>
<circle cx="598.3" cy="419.4" r="4.75"/>
<circle cx="608.0" cy="408.8" r="4.75"/>
<circle cx="623.4" cy="410.7" r="4.75"/>
<circle cx="625.3" cy="418.5" r="4.75"/>
<circle cx="631.1" cy="420.4" r="4.75"/>
<circle cx="640.8" cy="421.4" r="4.75"/>
<circle cx="584.8" cy="426.2" r="4.75"/>
<circle cx="596.4" cy="430.0" r="4.75"/>
<circle cx="598.3" cy="427.1" r="4.75"/>
<circle cx="588.6" cy="435.8" r="4.75"/>
<circle cx="596.4" cy="438.7" r="4.75"/>
<circle cx="608.0" cy="440.7" r="4.75"/>
<circle cx="614.7" cy="433.9" r="4.75"/>
<circle cx="620.5" cy="437.8" r="4.75"/>
<circle cx="615.7" cy="445.5" r="4.75"/>
<circle cx="619.5" cy="454.2" r="4.75"/>
<circle cx="630.2" cy="438.7" r="4.75"/>
<circle cx="635.9" cy="446.4" r="4.75"/>
<circle cx="646.6" cy="445.5" r="4.75"/>
<circle cx="455.4" cy="432.9" r="4.75"/>
<circle cx="501.8" cy="430.0" r="4.75"/>
<circle cx="506.6" cy="428.1" r="4.75"/>
<circle cx="511.4" cy="432.0" r="4.75"/>
<circle cx="518.2" cy="433.9" r="4.75"/>
<circle cx="530.7" cy="431.0" r="4.75"/>
<circle cx="530.7" cy="435.8" r="4.75"/>
<circle cx="550.0" cy="437.8" r="4.75"/>
<circle cx="555.8" cy="443.6" r="4.75"/>
<circle cx="485.4" cy="442.6" r="4.75"/>
<circle cx="489.2" cy="442.6" r="4.75"/>
<circle cx="497.9" cy="441.6" r="4.75"/>
<circle cx="503.7" cy="441.6" r="4.75"/>
<circle cx="508.5" cy="441.6" r="4.75"/>
<circle cx="469.0" cy="448.4" r="4.75"/>
<circle cx="475.7" cy="452.2" r="4.75"/>
<circle cx="484.4" cy="455.1" r="4.75"/>
<circle cx="494.1" cy="457.1" r="4.75"/>
<circle cx="501.8" cy="455.1" r="4.75"/>
<circle cx="509.5" cy="453.2" r="4.75"/>
<circle cx="515.3" cy="457.1" r="4.75"/>
<circle cx="513.4" cy="463.8" r="4.75"/>
<circle cx="559.7" cy="452.8" r="4.75"/>
<circle cx="555.8" cy="460.9" r="4.75"/>
<circle cx="459.3" cy="459.0" r="4.75"/>
<circle cx="487.3" cy="472.5" r="4.75"/>
<circle cx="480.5" cy="478.3" r="4.75"/>
<circle cx="503.7" cy="466.7" r="4.75"/>
<circle cx="505.6" cy="474.4" r="4.75"/>
<circle cx="501.8" cy="480.2" r="4.75"/>
<circle cx="471.9" cy="487.0" r="4.75"/>
<circle cx="487.3" cy="486.0" r="4.75"/>
<circle cx="477.6" cy="494.7" r="4.75"/>
<circle cx="472.8" cy="501.5" r="4.75"/>
<circle cx="491.2" cy="494.7" r="4.75"/>
<circle cx="497.9" cy="498.6" r="4.75"/>
<circle cx="505.6" cy="490.8" r="4.75"/>
<circle cx="555.8" cy="474.4" r="4.75"/>
<circle cx="555.8" cy="484.1" r="4.75"/>
<circle cx="558.7" cy="494.7" r="4.75"/>
<circle cx="561.6" cy="501.5" r="4.75"/>
<circle cx="567.4" cy="512.1" r="4.75"/>
<circle cx="575.1" cy="502.4" r="4.75"/>
<circle cx="579.0" cy="501.5" r="4.75"/>
<circle cx="587.7" cy="451.3" r="4.75"/>
<circle cx="589.6" cy="457.1" r="4.75"/>
<circle cx="594.4" cy="461.9" r="4.75"/>
<circle cx="604.1" cy="463.8" r="4.75"/>
<circle cx="611.8" cy="469.6" r="4.75"/>
<circle cx="575.1" cy="474.4" r="4.75"/>
<circle cx="582.9" cy="473.5" r="4.75"/>
<circle cx="594.4" cy="474.4" r="4.75"/>
<circle cx="596.4" cy="480.2" r="4.75"/>
<circle cx="600.2" cy="470.6" r="4.75"/>
<circle cx="609.9" cy="480.2" r="4.75"/>
<circle cx="615.7" cy="478.3" r="4.75"/>
<circle cx="622.4" cy="480.2" r="4.75"/>
<circle cx="629.2" cy="477.3" r="4.75"/>
<circle cx="647.5" cy="475.4" r="4.75"/>
<circle cx="600.2" cy="486.0" r="4.75"/>
<circle cx="600.2" cy="489.9" r="4.75"/>
<circle cx="614.7" cy="488.0" r="4.75"/>
<circle cx="635.0" cy="494.7" r="4.75"/>
<circle cx="646.6" cy="490.3" r="4.75"/>
<circle cx="592.5" cy="498.6" r="4.75"/>
<circle cx="600.2" cy="502.4" r="4.75"/>
<circle cx="604.1" cy="505.3" r="4.75"/>
<circle cx="615.7" cy="500.5" r="4.75"/>
<circle cx="621.5" cy="505.3" r="4.75"/>
<circle cx="631.1" cy="501.5" r="4.75"/>
<circle cx="635.0" cy="513.1" r="4.75"/>
<circle cx="613.7" cy="511.1" r="4.75"/>
<circle cx="597.3" cy="510.2" r="4.75"/>
<circle cx="590.6" cy="518.8" r="4.75"/>
<circle cx="518.2" cy="147.4" r="4.75"/>
<circle cx="534.0" cy="162.8" r="4.75"/>
<circle cx="508.5" cy="209.5" r="4.75"/>
<circle cx="510.5" cy="220.7" r="4.75"/>
<circle cx="484.8" cy="226.5" r="4.75"/>
<circle cx="546.2" cy="223.6" r="4.75"/>
<circle cx="516.8" cy="231.4" r="4.75"/>
<circle cx="505.1" cy="237.5" r="4.75"/>
<circle cx="526.5" cy="249.3" r="4.75"/>
<circle cx="534.0" cy="258.0" r="4.75"/>
<circle cx="522.6" cy="260.3" r="4.75"/>
<circle cx="524.9" cy="266.1" r="4.75"/>
<circle cx="531.7" cy="270.0" r="4.75"/>
<circle cx="528.8" cy="273.2" r="4.75"/>
<circle cx="520.7" cy="276.1" r="4.75"/>
<circle cx="523.0" cy="284.4" r="4.75"/>
<circle cx="519.2" cy="286.0" r="4.75"/>
<circle cx="487.3" cy="263.2" r="4.75"/>
<circle cx="454.5" cy="279.8" r="4.75"/>
<circle cx="476.7" cy="279.8" r="4.75"/>
<circle cx="450.0" cy="295.4" r="4.75"/>
<circle cx="473.2" cy="300.8" r="4.75"/>
<circle cx="481.9" cy="306.6" r="4.75"/>
<circle cx="490.8" cy="297.2" r="4.75"/>
<circle cx="501.8" cy="298.3" r="4.75"/>
<circle cx="513.0" cy="304.1" r="4.75"/>
<circle cx="497.3" cy="314.4" r="4.75"/>
<circle cx="508.5" cy="316.3" r="4.75"/>
<circle cx="515.9" cy="313.0" r="4.75"/>
<circle cx="527.3" cy="310.5" r="4.75"/>
<circle cx="538.5" cy="308.6" r="4.75"/>
<circle cx="529.4" cy="319.2" r="4.75"/>
<circle cx="553.5" cy="323.1" r="4.75"/>
<circle cx="594.4" cy="283.5" r="4.75"/>
<circle cx="610.3" cy="275.8" r="4.75"/>
<circle cx="632.1" cy="294.5" r="4.75"/>
<circle cx="636.9" cy="312.4" r="4.75"/>
<circle cx="634.0" cy="318.2" r="4.75"/>
<circle cx="644.2" cy="319.2" r="4.75"/>
<circle cx="596.4" cy="327.9" r="4.75"/>
<circle cx="612.4" cy="328.8" r="4.75"/>
<circle cx="447.3" cy="314.4" r="4.75"/>
<circle cx="472.8" cy="502.9" r="4.75"/>
<circle cx="491.2" cy="527.0" r="4.75"/>
<circle cx="484.4" cy="536.7" r="4.75"/>
<circle cx="491.7" cy="557.9" r="4.75"/>
<circle cx="499.8" cy="566.6" r="4.75"/>
<circle cx="490.2" cy="577.2" r="4.75"/>
<circle cx="477.6" cy="589.8" r="4.75"/>
<circle cx="484.8" cy="597.5" r="4.75"/>
<circle cx="495.0" cy="594.6" r="4.75"/>
<circle cx="499.8" cy="593.6" r="4.75"/>
<circle cx="507.6" cy="595.6" r="4.75"/>
<circle cx="496.0" cy="637.1" r="4.75"/>
<circle cx="475.7" cy="645.8" r="4.75"/>
<circle cx="505.6" cy="671.8" r="4.75"/>
<circle cx="505.6" cy="621.6" r="4.75"/>
<circle cx="501.8" cy="633.2" r="4.75"/>
<circle cx="497.9" cy="519.3" r="4.75"/>
<circle cx="501.8" cy="512.5" r="4.75"/>
<circle cx="507.6" cy="530.9" r="4.75"/>
<circle cx="500.8" cy="541.5" r="4.75"/>
<circle cx="503.7" cy="544.4" r="4.75"/>
<circle cx="501.8" cy="569.5" r="4.75"/>
<circle cx="506.6" cy="577.2" r="4.75"/>
<circle cx="512.4" cy="584.9" r="4.75"/>
<circle cx="499.8" cy="613.9" r="4.75"/>
<circle cx="494.1" cy="615.8" r="4.75"/>
<circle cx="635.9" cy="513.5" r="4.75"/>
<circle cx="636.9" cy="525.1" r="4.75"/>
<circle cx="628.2" cy="531.9" r="4.75"/>
<circle cx="634.0" cy="538.6" r="4.75"/>
<circle cx="617.6" cy="552.1" r="4.75"/>
<circle cx="630.2" cy="561.8" r="4.75"/>
<circle cx="641.7" cy="561.8" r="4.75"/>
<circle cx="631.1" cy="567.6" r="4.75"/>
<circle cx="632.1" cy="578.2" r="4.75"/>
<circle cx="635.0" cy="580.1" r="4.75"/>
<circle cx="618.6" cy="584.0" r="4.75"/>
<circle cx="612.8" cy="596.5" r="4.75"/>
<circle cx="630.2" cy="602.3" r="4.75"/>
<circle cx="636.9" cy="599.4" r="4.75"/>
<circle cx="615.7" cy="616.8" r="4.75"/>
<circle cx="628.2" cy="612.9" r="4.75"/>
<circle cx="631.1" cy="624.5" r="4.75"/>
<circle cx="619.5" cy="633.2" r="4.75"/>
<circle cx="637.9" cy="638.0" r="4.75"/>
<circle cx="635.9" cy="642.9" r="4.75"/>
<circle cx="617.6" cy="643.8" r="4.75"/>
<circle cx="622.4" cy="649.6" r="4.75"/>
<circle cx="641.7" cy="653.5" r="4.75"/>
<circle cx="626.3" cy="658.3" r="4.75"/>
<circle cx="634.0" cy="664.1" r="4.75"/>
<circle cx="626.3" cy="685.3" r="4.75"/>
<circle cx="647.5" cy="696.9" r="4.75"/>
<circle cx="637.9" cy="698.8" r="4.75"/>
<circle cx="608.0" cy="673.7" r="4.75"/>
<circle cx="609.9" cy="683.4" r="4.75"/>
<circle cx="606.0" cy="693.1" r="4.75"/>
<circle cx="614.7" cy="508.7" r="4.75"/>
<circle cx="622.4" cy="507.7" r="4.75"/>
<circle cx="631.1" cy="503.9" r="4.75"/>
<circle cx="602.2" cy="508.7" r="4.75"/>
<circle cx="598.3" cy="514.5" r="4.75"/>
<circle cx="584.8" cy="524.1" r="4.75"/>
<circle cx="592.5" cy="519.3" r="4.75"/>
<circle cx="583.8" cy="539.6" r="4.75"/>
<circle cx="583.8" cy="557.9" r="4.75"/>
<circle cx="581.9" cy="583.0" r="4.75"/>
<circle cx="579.0" cy="596.5" r="4.75"/>
<circle cx="582.9" cy="615.8" r="4.75"/>
<circle cx="575.1" cy="642.9" r="4.75"/>
<circle cx="573.2" cy="668.0" r="4.75"/>
<circle cx="579.0" cy="669.9" r="4.75"/>
<circle cx="609.9" cy="568.5" r="4.75"/>
<circle cx="606.0" cy="577.2" r="4.75"/>
<circle cx="613.7" cy="573.4" r="4.75"/>
<circle cx="604.1" cy="590.7" r="4.75"/>
<circle cx="609.9" cy="608.1" r="4.75"/>
<circle cx="605.1" cy="625.5" r="4.75"/>
<circle cx="602.2" cy="642.9" r="4.75"/>
<circle cx="609.9" cy="658.3" r="4.75"/>
<circle cx="615.7" cy="666.0" r="4.75"/>
<circle cx="497.9" cy="701.0" r="4.75"/>
<circle cx="505.9" cy="707.0" r="4.75"/>
<circle cx="507.9" cy="713.0" r="4.75"/>
<circle cx="504.9" cy="722.0" r="4.75"/>
<circle cx="489.0" cy="719.6" r="4.75"/>
<circle cx="482.0" cy="738.0" r="4.75"/>
<circle cx="477.0" cy="746.5" r="4.75"/>
<circle cx="490.0" cy="761.9" r="4.75"/>
<circle cx="497.9" cy="743.0" r="4.75"/>
<circle cx="495.9" cy="745.9" r="4.75"/>
<circle cx="503.9" cy="749.9" r="4.75"/>
<circle cx="513.9" cy="750.9" r="4.75"/>
<circle cx="513.9" cy="734.0" r="4.75"/>
<circle cx="519.9" cy="758.9" r="4.75"/>
<circle cx="518.9" cy="766.9" r="4.75"/>
<circle cx="526.9" cy="774.9" r="4.75"/>
<circle cx="533.9" cy="784.9" r="4.75"/>
<circle cx="532.9" cy="798.9" r="4.75"/>
<circle cx="514.9" cy="807.9" r="4.75"/>
<circle cx="514.9" cy="813.9" r="4.75"/>
<circle cx="527.9" cy="812.9" r="4.75"/>
<circle cx="531.9" cy="820.9" r="4.75"/>
<circle cx="521.9" cy="834.9" r="4.75"/>
<circle cx="527.9" cy="835.9" r="4.75"/>
<circle cx="537.9" cy="834.9" r="4.75"/>
<circle cx="517.9" cy="844.8" r="4.75"/>
<circle cx="509.9" cy="855.8" r="4.75"/>
<circle cx="523.9" cy="858.8" r="4.75"/>
<circle cx="533.9" cy="853.8" r="4.75"/>
<circle cx="539.9" cy="855.8" r="4.75"/>
<circle cx="542.9" cy="870.8" r="4.75"/>
<circle cx="537.9" cy="892.8" r="4.75"/>
<circle cx="489.0" cy="800.9" r="4.75"/>
<circle cx="489.0" cy="812.9" r="4.75"/>
<circle cx="457.0" cy="796.9" r="4.75"/>
<circle cx="479.0" cy="842.9" r="4.75"/>
<circle cx="605.8" cy="695.0" r="4.75"/>
<circle cx="608.8" cy="702.0" r="4.75"/>
<circle cx="628.8" cy="701.0" r="4.75"/>
<circle cx="634.8" cy="706.0" r="4.75"/>
<circle cx="647.8" cy="698.0" r="4.75"/>
<circle cx="625.8" cy="721.0" r="4.75"/>
<circle cx="639.8" cy="723.0" r="4.75"/>
<circle cx="601.8" cy="720.0" r="4.75"/>
<circle cx="609.8" cy="723.0" r="4.75"/>
<circle cx="617.8" cy="740.0" r="4.75"/>
<circle cx="610.8" cy="746.9" r="4.75"/>
<circle cx="604.8" cy="757.9" r="4.75"/>
<circle cx="620.8" cy="756.9" r="4.75"/>
<circle cx="599.8" cy="768.9" r="4.75"/>
<circle cx="611.8" cy="769.9" r="4.75"/>
<circle cx="617.8" cy="774.9" r="4.75"/>
<circle cx="630.8" cy="773.9" r="4.75"/>
<circle cx="636.8" cy="779.9" r="4.75"/>
<circle cx="645.8" cy="782.9" r="4.75"/>
<circle cx="631.8" cy="784.9" r="4.75"/>
<circle cx="640.8" cy="791.9" r="4.75"/>
<circle cx="623.8" cy="791.9" r="4.75"/>
<circle cx="631.8" cy="797.9" r="4.75"/>
<circle cx="613.8" cy="800.9" r="4.75"/>
<circle cx="603.8" cy="798.9" r="4.75"/>
<circle cx="607.8" cy="783.9" r="4.75"/>
<circle cx="599.8" cy="812.9" r="4.75"/>
<circle cx="607.8" cy="811.9" r="4.75"/>
<circle cx="615.8" cy="814.9" r="4.75"/>
<circle cx="626.8" cy="814.9" r="4.75"/>
<circle cx="638.8" cy="822.9" r="4.75"/>
<circle cx="613.8" cy="829.9" r="4.75"/>
<circle cx="625.8" cy="829.9" r="4.75"/>
<circle cx="617.8" cy="841.9" r="4.75"/>
<circle cx="621.8" cy="841.9" r="4.75"/>
<circle cx="607.8" cy="847.8" r="4.75"/>
<circle cx="621.8" cy="853.8" r="4.75"/>
<circle cx="603.8" cy="871.8" r="4.75"/>
<circle cx="594.8" cy="872.8" r="4.75"/>
<circle cx="587.9" cy="892.8" r="4.75"/>
<circle cx="594.8" cy="892.8" r="4.75"/>
<circle cx="491.4" cy="527.0" r="4.75"/>
<circle cx="483.8" cy="535.8" r="4.75"/>
<circle cx="492.6" cy="538.3" r="4.75"/>
<circle cx="501.4" cy="542.1" r="4.75"/>
<circle cx="506.4" cy="530.8" r="4.75"/>
<circle cx="636.9" cy="525.8" r="4.75"/>
<circle cx="628.1" cy="533.3" r="4.75"/>
<circle cx="635.6" cy="537.1" r="4.75"/>
<circle cx="585.4" cy="522.0" r="4.75"/>
<circle cx="610.5" cy="524.5" r="4.75"/>
<circle cx="613.0" cy="534.6" r="4.75"/>
<circle cx="618.1" cy="550.9" r="4.75"/>
<circle cx="585.4" cy="538.3" r="4.75"/>
<circle cx="590.5" cy="545.9" r="4.75"/>
<circle cx="600.5" cy="550.9" r="4.75"/>
<circle cx="667.0" cy="529.6" r="4.75"/>
<circle cx="608.7" cy="702.9" r="4.75"/>
<circle cx="629.0" cy="701.0" r="4.75"/>
<circle cx="635.3" cy="705.8" r="4.75"/>
<circle cx="647.3" cy="700.0" r="4.75"/>
<circle cx="607.7" cy="722.2" r="4.75"/>
<circle cx="625.1" cy="720.8" r="4.75"/>
<circle cx="640.0" cy="722.8" r="4.75"/>
<circle cx="618.3" cy="739.6" r="4.75"/>
<circle cx="603.9" cy="741.5" r="4.75"/>
<circle cx="610.6" cy="747.3" r="4.75"/>
<circle cx="620.3" cy="756.6" r="4.75"/>
<circle cx="604.8" cy="757.9" r="4.75"/>
<circle cx="612.5" cy="771.4" r="4.75"/>
<circle cx="618.3" cy="774.3" r="4.75"/>
<circle cx="630.5" cy="773.7" r="4.75"/>
<circle cx="635.7" cy="779.2" r="4.75"/>
<circle cx="646.3" cy="783.0" r="4.75"/>
<circle cx="629.9" cy="782.0" r="4.75"/>
<circle cx="607.7" cy="783.0" r="4.75"/>
<circle cx="640.5" cy="792.3" r="4.75"/>
<circle cx="624.1" cy="792.3" r="4.75"/>
<circle cx="631.9" cy="798.1" r="4.75"/>
<circle cx="624.1" cy="799.4" r="4.75"/>
<circle cx="613.5" cy="801.0" r="4.75"/>
<circle cx="603.9" cy="798.5" r="4.75"/>
<circle cx="607.7" cy="811.0" r="4.75"/>
<circle cx="616.4" cy="815.4" r="4.75"/>
<circle cx="627.0" cy="815.4" r="4.75"/>
<circle cx="639.2" cy="823.2" r="4.75"/>
<circle cx="613.1" cy="829.3" r="4.75"/>
<circle cx="626.1" cy="829.3" r="4.75"/>
<circle cx="601.9" cy="838.0" r="4.75"/>
<circle cx="617.4" cy="840.0" r="4.75"/>
<circle cx="622.2" cy="842.5" r="4.75"/>
<circle cx="607.7" cy="848.6" r="4.75"/>
<circle cx="621.6" cy="854.4" r="4.75"/>
<circle cx="603.9" cy="871.8" r="4.75"/>
<circle cx="533.8" cy="448.6" r="4.75"/>
<circle cx="559.2" cy="551.0" r="4.75"/>
<circle cx="530.8" cy="513.7" r="4.75"/>
<circle cx="543.1" cy="502.4" r="4.75"/>
<circle cx="515.7" cy="598.7" r="4.75"/>
<circle cx="542.8" cy="506.9" r="4.75"/>
<circle cx="542.3" cy="571.0" r="4.75"/>
<circle cx="539.2" cy="497.6" r="4.75"/>
<circle cx="552.6" cy="512.4" r="4.75"/>
<circle cx="529.2" cy="453.4" r="4.75"/>
<circle cx="562.0" cy="718.6" r="4.75"/>
<circle cx="519.1" cy="480.3" r="4.75"/>
<circle cx="533.7" cy="759.4" r="4.75"/>
<circle cx="543.8" cy="706.5" r="4.75"/>
<circle cx="522.4" cy="630.9" r="4.75"/>
<circle cx="552.0" cy="737.8" r="4.75"/>
<circle cx="558.0" cy="527.5" r="4.75"/>
<circle cx="557.7" cy="642.1" r="4.75"/>
<circle cx="540.1" cy="785.3" r="4.75"/>
<circle cx="510.6" cy="503.3" r="4.75"/>
<circle cx="517.3" cy="526.3" r="4.75"/>
<circle cx="541.4" cy="500.7" r="4.75"/>
<circle cx="528.1" cy="462.5" r="4.75"/>
<circle cx="552.1" cy="472.9" r="4.75"/>
<circle cx="556.9" cy="719.2" r="4.75"/>
<circle cx="530.8" cy="685.9" r="4.75"/>
<circle cx="555.2" cy="615.7" r="4.75"/>
<circle cx="528.2" cy="661.6" r="4.75"/>
<circle cx="534.1" cy="783.1" r="4.75"/>
<circle cx="551.3" cy="642.6" r="4.75"/>
<circle cx="513.0" cy="503.6" r="4.75"/>
<circle cx="518.1" cy="547.3" r="4.75"/>
<circle cx="541.3" cy="629.5" r="4.75"/>
<circle cx="538.8" cy="510.6" r="4.75"/>
<circle cx="545.7" cy="728.5" r="4.75"/>
<circle cx="533.2" cy="725.6" r="4.75"/>
<circle cx="532.5" cy="508.2" r="4.75"/>
<circle cx="550.2" cy="629.0" r="4.75"/>
<circle cx="523.4" cy="591.7" r="4.75"/>
<circle cx="550.9" cy="560.4" r="4.75"/>
<circle cx="520.5" cy="492.9" r="4.75"/>
<circle cx="526.1" cy="636.1" r="4.75"/>
<circle cx="551.0" cy="683.2" r="4.75"/>
<circle cx="557.5" cy="537.3" r="4.75"/>
<circle cx="534.5" cy="574.2" r="4.75"/>
<circle cx="540.0" cy="648.8" r="4.75"/>
<circle cx="547.0" cy="469.1" r="4.75"/>
<circle cx="531.0" cy="696.5" r="4.75"/>
<circle cx="550.5" cy="587.6" r="4.75"/>
<circle cx="535.8" cy="538.8" r="4.75"/>
<circle cx="553.7" cy="615.5" r="4.75"/>
<circle cx="524.4" cy="455.4" r="4.75"/>
<circle cx="549.9" cy="667.1" r="4.75"/>
<circle cx="545.4" cy="511.7" r="4.75"/>
<circle cx="532.6" cy="509.6" r="4.75"/>
<circle cx="553.0" cy="745.4" r="4.75"/>
<circle cx="512.7" cy="551.8" r="4.75"/>
<circle cx="519.8" cy="474.1" r="4.75"/>
<circle cx="558.7" cy="527.4" r="4.75"/>
<circle cx="534.3" cy="449.9" r="4.75"/>
<circle cx="557.1" cy="566.1" r="4.75"/>
<circle cx="527.8" cy="459.5" r="4.75"/>
<circle cx="514.2" cy="497.7" r="4.75"/>
<circle cx="542.1" cy="678.3" r="4.75"/>
<circle cx="533.4" cy="631.0" r="4.75"/>
<circle cx="556.2" cy="498.8" r="4.75"/>
<circle cx="541.0" cy="653.8" r="4.75"/>
<circle cx="556.5" cy="503.1" r="4.75"/>
<circle cx="533.7" cy="453.7" r="4.75"/>
<circle cx="549.1" cy="753.2" r="4.75"/>
<circle cx="529.9" cy="734.8" r="4.75"/>
<circle cx="548.8" cy="451.0" r="4.75"/>
<circle cx="537.2" cy="461.2" r="4.75"/>
<circle cx="527.1" cy="521.9" r="4.75"/>
<circle cx="511.7" cy="523.1" r="4.75"/>
<circle cx="563.8" cy="641.6" r="4.75"/>
<circle cx="565.7" cy="672.2" r="4.75"/>
<circle cx="555.6" cy="644.0" r="4.75"/>
<circle cx="515.6" cy="539.2" r="4.75"/>
<circle cx="522.0" cy="576.4" r="4.75"/>
<circle cx="550.7" cy="680.4" r="4.75"/>
<circle cx="542.9" cy="676.0" r="4.75"/>
<circle cx="561.6" cy="769.5" r="4.75"/>
<circle cx="564.6" cy="768.1" r="4.75"/>
<circle cx="530.8" cy="586.9" r="4.75"/>
<circle cx="550.5" cy="594.6" r="4.75"/>
<circle cx="514.9" cy="533.5" r="4.75"/>
<circle cx="526.8" cy="646.0" r="4.75"/>
<circle cx="543.4" cy="670.9" r="4.75"/>
<circle cx="557.5" cy="668.3" r="4.75"/>
<circle cx="540.0" cy="700.8" r="4.75"/>
<circle cx="563.7" cy="691.3" r="4.75"/>
<circle cx="523.5" cy="477.8" r="4.75"/>
<circle cx="557.2" cy="534.2" r="4.75"/>
<circle cx="542.7" cy="450.9" r="4.75"/>
<circle cx="542.9" cy="725.2" r="4.75"/>
<circle cx="556.7" cy="561.6" r="4.75"/>
<circle cx="527.0" cy="546.5" r="4.75"/>
<circle cx="521.0" cy="584.6" r="4.75"/>
<circle cx="550.3" cy="587.5" r="4.75"/>
<circle cx="548.1" cy="703.4" r="4.75"/>
<circle cx="558.2" cy="647.6" r="4.75"/>
<circle cx="541.3" cy="678.7" r="4.75"/>
<circle cx="534.2" cy="694.7" r="4.75"/>
<circle cx="553.4" cy="739.7" r="4.75"/>
<circle cx="524.5" cy="556.7" r="4.75"/>
<circle cx="533.6" cy="584.3" r="4.75"/>
<circle cx="513.7" cy="583.4" r="4.75"/>
<circle cx="547.8" cy="707.5" r="4.75"/>
<circle cx="554.6" cy="500.2" r="4.75"/>
<circle cx="508.9" cy="501.8" r="4.75"/>
<circle cx="550.1" cy="769.2" r="4.75"/>
<circle cx="532.0" cy="555.8" r="4.75"/>
<circle cx="546.9" cy="557.2" r="4.75"/>
<circle cx="510.4" cy="532.1" r="4.75"/>
<circle cx="545.2" cy="607.5" r="4.75"/>
<circle cx="529.5" cy="584.2" r="4.75"/>
<circle cx="531.2" cy="689.9" r="4.75"/>
<circle cx="543.2" cy="764.5" r="4.75"/>
<circle cx="557.4" cy="492.0" r="4.75"/>
<circle cx="536.0" cy="449.0" r="4.75"/>
<circle cx="554.8" cy="526.9" r="4.75"/>
<circle cx="539.5" cy="619.5" r="4.75"/>
<circle cx="559.3" cy="656.3" r="4.75"/>
<circle cx="514.0" cy="510.9" r="4.75"/>
<circle cx="550.5" cy="712.9" r="4.75"/>
<circle cx="556.4" cy="489.4" r="4.75"/>
<circle cx="544.4" cy="676.6" r="4.75"/>
<circle cx="546.2" cy="782.0" r="4.75"/>
<circle cx="527.5" cy="452.6" r="4.75"/>
<circle cx="515.5" cy="600.6" r="4.75"/>
<circle cx="547.8" cy="528.7" r="4.75"/>
<circle cx="549.7" cy="622.6" r="4.75"/>
<circle cx="516.7" cy="514.9" r="4.75"/>
<circle cx="566.1" cy="769.0" r="4.75"/>
<circle cx="557.2" cy="527.8" r="4.75"/>
<circle cx="568.0" cy="732.1" r="4.75"/>
<circle cx="531.4" cy="650.7" r="4.75"/>
<circle cx="549.7" cy="628.4" r="4.75"/>
<circle cx="538.5" cy="482.2" r="4.75"/>
<circle cx="554.4" cy="708.2" r="4.75"/>
<circle cx="529.2" cy="520.2" r="4.75"/>
<circle cx="520.1" cy="562.7" r="4.75"/>
<circle cx="512.4" cy="502.7" r="4.75"/>
<circle cx="537.3" cy="641.0" r="4.75"/>
<circle cx="542.6" cy="491.9" r="4.75"/>
<circle cx="509.5" cy="497.1" r="4.75"/>
<circle cx="550.4" cy="642.2" r="4.75"/>
<circle cx="545.2" cy="777.6" r="4.75"/>
<circle cx="540.1" cy="575.8" r="4.75"/>
<circle cx="532.9" cy="516.8" r="4.75"/>
<circle cx="547.7" cy="505.3" r="4.75"/>
<circle cx="557.8" cy="510.6" r="4.75"/>
<circle cx="549.1" cy="653.3" r="4.75"/>
<circle cx="557.4" cy="591.4" r="4.75"/>
<circle cx="567.2" cy="700.3" r="4.75"/>
<circle cx="535.8" cy="488.0" r="4.75"/>
<circle cx="524.0" cy="492.0" r="4.75"/>
<circle cx="540.3" cy="731.1" r="4.75"/>
<circle cx="554.0" cy="671.2" r="4.75"/>
<circle cx="534.5" cy="543.9" r="4.75"/>
<circle cx="557.8" cy="683.3" r="4.75"/>
<circle cx="549.1" cy="643.2" r="4.75"/>
<circle cx="557.0" cy="654.1" r="4.75"/>
<circle cx="524.3" cy="577.6" r="4.75"/>
<circle cx="527.2" cy="548.5" r="4.75"/>
<circle cx="563.7" cy="697.6" r="4.75"/>
<circle cx="546.0" cy="605.1" r="4.75"/>
<circle cx="538.1" cy="482.3" r="4.75"/>
<circle cx="537.4" cy="653.7" r="4.75"/>
<circle cx="529.7" cy="625.1" r="4.75"/>
<circle cx="557.3" cy="733.4" r="4.75"/>
<circle cx="557.9" cy="519.1" r="4.75"/>
<circle cx="559.4" cy="551.0" r="4.75"/>
<circle cx="545.7" cy="524.8" r="4.75"/>
<circle cx="547.4" cy="453.9" r="4.75"/>
<circle cx="548.1" cy="480.4" r="4.75"/>
<circle cx="535.5" cy="469.8" r="4.75"/>
<circle cx="531.8" cy="500.4" r="4.75"/>
<circle cx="528.3" cy="611.7" r="4.75"/>
<circle cx="548.9" cy="669.9" r="4.75"/>
<circle cx="540.5" cy="747.7" r="4.75"/>
<circle cx="533.5" cy="496.2" r="4.75"/>
<circle cx="550.5" cy="571.8" r="4.75"/>
<circle cx="559.0" cy="575.6" r="4.75"/>
<circle cx="545.7" cy="472.0" r="4.75"/>
<circle cx="520.6" cy="481.9" r="4.75"/>
<circle cx="533.0" cy="559.8" r="4.75"/>
<circle cx="542.6" cy="675.3" r="4.75"/>
<circle cx="522.9" cy="540.2" r="4.75"/>
<circle cx="531.6" cy="764.2" r="4.75"/>
<circle cx="519.7" cy="589.8" r="4.75"/>
<circle cx="534.1" cy="562.6" r="4.75"/>
<circle cx="532.2" cy="541.8" r="4.75"/>
<circle cx="533.3" cy="510.6" r="4.75"/>
<circle cx="552.2" cy="776.3" r="4.75"/>
<circle cx="536.6" cy="638.6" r="4.75"/>
<circle cx="548.7" cy="733.1" r="4.75"/>
<circle cx="540.1" cy="599.2" r="4.75"/>
<circle cx="518.3" cy="499.9" r="4.75"/>
<circle cx="533.5" cy="741.2" r="4.75"/>
<circle cx="533.6" cy="639.1" r="4.75"/>
<circle cx="524.4" cy="559.7" r="4.75"/>
<circle cx="538.3" cy="704.6" r="4.75"/>
<circle cx="543.5" cy="476.6" r="4.75"/>
<circle cx="524.7" cy="558.7" r="4.75"/>
<circle cx="556.6" cy="568.0" r="4.75"/>
<circle cx="567.9" cy="727.8" r="4.75"/>
<circle cx="550.8" cy="633.7" r="4.75"/>
<circle cx="550.9" cy="565.2" r="4.75"/>
<circle cx="536.5" cy="785.2" r="4.75"/>
<circle cx="553.4" cy="648.9" r="4.75"/>
<circle cx="534.5" cy="688.6" r="4.75"/>
<circle cx="523.0" cy="570.4" r="4.75"/>
<circle cx="550.3" cy="600.4" r="4.75"/>
<circle cx="555.1" cy="788.7" r="4.75"/>
<circle cx="549.3" cy="681.5" r="4.75"/>
<circle cx="546.9" cy="514.3" r="4.75"/>
<circle cx="527.7" cy="566.2" r="4.75"/>
<circle cx="558.4" cy="726.9" r="4.75"/>
<circle cx="565.7" cy="759.1" r="4.75"/>
<circle cx="544.1" cy="527.3" r="4.75"/>
<circle cx="560.8" cy="706.4" r="4.75"/>
<circle cx="554.9" cy="780.1" r="4.75"/>
<circle cx="551.9" cy="787.0" r="4.75"/>
<circle cx="536.9" cy="493.2" r="4.75"/>
<circle cx="540.0" cy="781.8" r="4.75"/>
<circle cx="546.1" cy="559.4" r="4.75"/>
<circle cx="514.1" cy="492.6" r="4.75"/>
<circle cx="528.4" cy="599.3" r="4.75"/>
<circle cx="548.5" cy="568.9" r="4.75"/>
<circle cx="531.9" cy="596.4" r="4.75"/>
<circle cx="535.6" cy="486.5" r="4.75"/>
<circle cx="547.8" cy="642.5" r="4.75"/>
<circle cx="529.1" cy="722.1" r="4.75"/>
<circle cx="539.4" cy="646.1" r="4.75"/>
<circle cx="555.4" cy="711.8" r="4.75"/>
<circle cx="524.5" cy="617.9" r="4.75"/>
<circle cx="558.2" cy="758.4" r="4.75"/>
<circle cx="561.7" cy="728.9" r="4.75"/>
<circle cx="548.8" cy="454.3" r="4.75"/>
<circle cx="530.7" cy="696.7" r="4.75"/>
<circle cx="523.1" cy="467.4" r="4.75"/>
<circle cx="544.8" cy="717.8" r="4.75"/>
<circle cx="535.8" cy="456.4" r="4.75"/>
<circle cx="550.2" cy="761.8" r="4.75"/>
<circle cx="540.1" cy="644.7" r="4.75"/>
<circle cx="513.7" cy="558.9" r="4.75"/>
<circle cx="544.7" cy="730.0" r="4.75"/>
<circle cx="544.5" cy="642.0" r="4.75"/>
<circle cx="516.5" cy="594.3" r="4.75"/>
<circle cx="563.0" cy="753.1" r="4.75"/>
<circle cx="566.9" cy="790.5" r="4.75"/>
<circle cx="530.2" cy="524.8" r="4.75"/>
<circle cx="565.3" cy="698.0" r="4.75"/>
<circle cx="565.4" cy="703.9" r="4.75"/>
<circle cx="558.8" cy="772.6" r="4.75"/>
<circle cx="534.6" cy="771.5" r="4.75"/>
<circle cx="533.7" cy="786.2" r="4.75"/>
<circle cx="541.6" cy="672.5" r="4.75"/>
<circle cx="527.4" cy="536.3" r="4.75"/>
<circle cx="514.7" cy="535.7" r="4.75"/>
<circle cx="551.4" cy="797.1" r="4.75"/>
<circle cx="516.3" cy="510.6" r="4.75"/>
<circle cx="543.2" cy="594.3" r="4.75"/>
<circle cx="549.9" cy="749.8" r="4.75"/>
<circle cx="542.6" cy="775.9" r="4.75"/>
<circle cx="511.5" cy="515.3" r="4.75"/>
<circle cx="539.5" cy="691.7" r="4.75"/>
<circle cx="561.0" cy="704.5" r="4.75"/>
<circle cx="548.6" cy="658.3" r="4.75"/>
<circle cx="548.6" cy="587.0" r="4.75"/>
<circle cx="549.1" cy="741.9" r="4.75"/>
<circle cx="561.1" cy="700.1" r="4.75"/>
<circle cx="549.9" cy="470.7" r="4.75"/>
<circle cx="528.3" cy="606.7" r="4.75"/>
<circle cx="527.0" cy="515.4" r="4.75"/>
<circle cx="531.2" cy="740.9" r="4.75"/>
<circle cx="552.7" cy="713.0" r="4.75"/>
<circle cx="513.9" cy="585.7" r="4.75"/>
<circle cx="525.5" cy="481.4" r="4.75"/>
<circle cx="531.2" cy="599.6" r="4.75"/>
<circle cx="543.9" cy="567.6" r="4.75"/>
<circle cx="512.3" cy="561.8" r="4.75"/>
<circle cx="540.4" cy="451.9" r="4.75"/>
<circle cx="541.1" cy="477.4" r="4.75"/>
<circle cx="541.9" cy="726.5" r="4.75"/>
<circle cx="564.7" cy="725.3" r="4.75"/>
<circle cx="562.0" cy="798.7" r="4.75"/>
<circle cx="552.5" cy="660.2" r="4.75"/>
<circle cx="553.5" cy="475.8" r="4.75"/>
<circle cx="522.8" cy="540.9" r="4.75"/>
<circle cx="550.6" cy="584.7" r="4.75"/>
<circle cx="531.9" cy="623.2" r="4.75"/>
<circle cx="554.7" cy="743.1" r="4.75"/>
<circle cx="560.4" cy="545.6" r="4.75"/>
<circle cx="555.1" cy="677.4" r="4.75"/>
<circle cx="531.7" cy="767.0" r="4.75"/>
<circle cx="536.8" cy="538.3" r="4.75"/>
<circle cx="537.2" cy="736.3" r="4.75"/>
<circle cx="520.8" cy="488.8" r="4.75"/>
<circle cx="535.5" cy="555.4" r="4.75"/>
<circle cx="557.8" cy="535.2" r="4.75"/>
<circle cx="552.9" cy="771.3" r="4.75"/>
<circle cx="533.9" cy="793.2" r="4.75"/>
<circle cx="525.2" cy="541.5" r="4.75"/>
<circle cx="551.3" cy="724.7" r="4.75"/>
<circle cx="547.8" cy="537.8" r="4.75"/>
<circle cx="513.4" cy="536.8" r="4.75"/>
<circle cx="541.1" cy="559.1" r="4.75"/>
<circle cx="525.9" cy="563.8" r="4.75"/>
<circle cx="544.7" cy="505.0" r="4.75"/>
<circle cx="554.8" cy="572.7" r="4.75"/>
<circle cx="523.4" cy="652.5" r="4.75"/>
<circle cx="565.8" cy="724.8" r="4.75"/>
<circle cx="535.5" cy="670.3" r="4.75"/>
<circle cx="530.3" cy="696.8" r="4.75"/>
<circle cx="540.1" cy="454.7" r="4.75"/>
<circle cx="549.8" cy="754.4" r="4.75"/>
<circle cx="538.1" cy="501.8" r="4.75"/>
<circle cx="526.8" cy="513.3" r="4.75"/>
<circle cx="560.1" cy="706.1" r="4.75"/>
<circle cx="526.4" cy="552.4" r="4.75"/>
<circle cx="515.8" cy="601.3" r="4.75"/>
<circle cx="565.4" cy="769.1" r="4.75"/>
<circle cx="561.9" cy="792.2" r="4.75"/>
<circle cx="553.9" cy="627.7" r="4.75"/>
<circle cx="545.1" cy="559.7" r="4.75"/>
<circle cx="551.5" cy="549.9" r="4.75"/>
<circle cx="516.2" cy="554.0" r="4.75"/>
<circle cx="536.6" cy="745.7" r="4.75"/>
<circle cx="537.4" cy="490.7" r="4.75"/>
<circle cx="559.4" cy="684.4" r="4.75"/>
<circle cx="541.9" cy="763.9" r="4.75"/>
<circle cx="533.1" cy="582.4" r="4.75"/>
<circle cx="546.5" cy="781.4" r="4.75"/>
<circle cx="535.1" cy="592.4" r="4.75"/>
<circle cx="527.4" cy="595.7" r="4.75"/>
<circle cx="539.7" cy="539.7" r="4.75"/>
<circle cx="545.8" cy="638.2" r="4.75"/>
<circle cx="549.4" cy="478.9" r="4.75"/>
<circle cx="547.2" cy="680.1" r="4.75"/>
<circle cx="560.7" cy="726.6" r="4.75"/>
<circle cx="556.8" cy="622.5" r="4.75"/>
<circle cx="554.1" cy="791.7" r="4.75"/>
<circle cx="542.7" cy="763.7" r="4.75"/>
<circle cx="524.4" cy="519.6" r="4.75"/>
<circle cx="552.5" cy="727.0" r="4.75"/>
<circle cx="566.4" cy="676.7" r="4.75"/>
<circle cx="525.7" cy="645.0" r="4.75"/>
<circle cx="552.7" cy="792.2" r="4.75"/>
<circle cx="542.2" cy="496.4" r="4.75"/>
<circle cx="539.7" cy="642.0" r="4.75"/>
<circle cx="554.6" cy="512.8" r="4.75"/>
<circle cx="542.2" cy="462.6" r="4.75"/>
<circle cx="541.5" cy="507.0" r="4.75"/>
<circle cx="525.0" cy="587.8" r="4.75"/>
<circle cx="523.7" cy="537.7" r="4.75"/>
<circle cx="527.1" cy="622.2" r="4.75"/>
<circle cx="518.7" cy="460.2" r="4.75"/>
<circle cx="564.8" cy="723.0" r="4.75"/>
<circle cx="535.4" cy="683.4" r="4.75"/>
<circle cx="540.9" cy="705.0" r="4.75"/>
<circle cx="544.7" cy="662.2" r="4.75"/>
<circle cx="544.3" cy="602.2" r="4.75"/>
<circle cx="508.8" cy="503.1" r="4.75"/>
<circle cx="537.8" cy="474.1" r="4.75"/>
<circle cx="544.9" cy="512.5" r="4.75"/>
<circle cx="550.4" cy="588.8" r="4.75"/>
<circle cx="548.8" cy="538.0" r="4.75"/>
<circle cx="559.2" cy="519.9" r="4.75"/>
<circle cx="554.7" cy="717.2" r="4.75"/>
<circle cx="557.0" cy="593.1" r="4.75"/>
<circle cx="567.0" cy="731.7" r="4.75"/>
<circle cx="554.9" cy="778.9" r="4.75"/>
<circle cx="564.3" cy="645.6" r="4.75"/>
<circle cx="538.7" cy="451.0" r="4.75"/>
<circle cx="546.7" cy="775.2" r="4.75"/>
<circle cx="554.9" cy="510.9" r="4.75"/>
<circle cx="552.2" cy="461.7" r="4.75"/>
<circle cx="554.0" cy="481.0" r="4.75"/>
<circle cx="561.5" cy="735.2" r="4.75"/>
<circle cx="539.8" cy="644.9" r="4.75"/>
<circle cx="521.6" cy="574.4" r="4.75"/>
<circle cx="517.2" cy="584.7" r="4.75"/>
<circle cx="538.6" cy="571.2" r="4.75"/>
<circle cx="566.8" cy="792.6" r="4.75"/>
<circle cx="530.5" cy="474.1" r="4.75"/>
<circle cx="529.8" cy="497.2" r="4.75"/>
<circle cx="542.7" cy="591.8" r="4.75"/>
<circle cx="516.6" cy="577.1" r="4.75"/>
<circle cx="556.9" cy="637.8" r="4.75"/>
<circle cx="514.7" cy="598.4" r="4.75"/>
<circle cx="547.8" cy="591.1" r="4.75"/>
<circle cx="560.9" cy="675.5" r="4.75"/>
<circle cx="545.7" cy="705.9" r="4.75"/>
<circle cx="553.6" cy="645.0" r="4.75"/>
<circle cx="531.8" cy="742.3" r="4.75"/>
<circle cx="565.4" cy="782.7" r="4.75"/>
<circle cx="526.8" cy="520.1" r="4.75"/>
<circle cx="535.9" cy="638.5" r="4.75"/>
<circle cx="533.8" cy="639.8" r="4.75"/>
<circle cx="531.0" cy="653.3" r="4.75"/>
<circle cx="517.3" cy="516.8" r="4.75"/>
<circle cx="521.8" cy="644.2" r="4.75"/>
<circle cx="559.0" cy="790.9" r="4.75"/>
<circle cx="526.4" cy="572.2" r="4.75"/>
<circle cx="519.9" cy="522.0" r="4.75"/>
<circle cx="555.7" cy="601.8" r="4.75"/>
<circle cx="527.2" cy="574.4" r="4.75"/>
<circle cx="564.3" cy="798.9" r="4.75"/>
<circle cx="527.8" cy="539.9" r="4.75"/>
<circle cx="514.5" cy="563.1" r="4.75"/>
<circle cx="559.5" cy="745.8" r="4.75"/>
<circle cx="558.0" cy="578.0" r="4.75"/>
<circle cx="518.6" cy="545.0" r="4.75"/>
<circle cx="534.7" cy="624.2" r="4.75"/>
<circle cx="520.4" cy="630.5" r="4.75"/>
<circle cx="561.6" cy="700.1" r="4.75"/>
<circle cx="543.0" cy="704.3" r="4.75"/>
<circle cx="513.3" cy="573.4" r="4.75"/>
<circle cx="562.6" cy="725.9" r="4.75"/>
<circle cx="527.6" cy="581.4" r="4.75"/>
<circle cx="557.7" cy="508.4" r="4.75"/>
<circle cx="536.2" cy="638.2" r="4.75"/>
<circle cx="519.5" cy="544.8" r="4.75"/>
<circle cx="530.8" cy="743.0" r="4.75"/>
<circle cx="521.6" cy="598.6" r="4.75"/>
<circle cx="532.4" cy="627.8" r="4.75"/>
<circle cx="521.3" cy="461.8" r="4.75"/>
<circle cx="544.0" cy="605.5" r="4.75"/>
<circle cx="539.0" cy="469.3" r="4.75"/>
<circle cx="539.1" cy="565.2" r="4.75"/>
<circle cx="520.6" cy="482.9" r="4.75"/>
<circle cx="550.6" cy="641.5" r="4.75"/>
<circle cx="532.2" cy="695.1" r="4.75"/>
<circle cx="540.6" cy="761.3" r="4.75"/>
<circle cx="524.5" cy="605.3" r="4.75"/>
<circle cx="538.2" cy="573.0" r="4.75"/>
<circle cx="542.7" cy="724.6" r="4.75"/>
<circle cx="551.6" cy="542.3" r="4.75"/>
<circle cx="535.5" cy="532.8" r="4.75"/>
<circle cx="540.5" cy="519.0" r="4.75"/>
<circle cx="512.4" cy="538.9" r="4.75"/>
<circle cx="513.4" cy="551.4" r="4.75"/>
<circle cx="528.4" cy="555.3" r="4.75"/>
<circle cx="565.6" cy="716.2" r="4.75"/>
<circle cx="537.9" cy="450.4" r="4.75"/>
<circle cx="537.1" cy="474.8" r="4.75"/>
<circle cx="541.0" cy="794.7" r="4.75"/>
<circle cx="535.4" cy="563.3" r="4.75"/>
<circle cx="522.2" cy="532.9" r="4.75"/>
<circle cx="555.8" cy="654.8" r="4.75"/>
<circle cx="561.4" cy="615.3" r="4.75"/>
<circle cx="562.0" cy="764.7" r="4.75"/>
<circle cx="512.6" cy="570.4" r="4.75"/>
<circle cx="515.7" cy="476.2" r="4.75"/>
<circle cx="553.6" cy="685.8" r="4.75"/>
<circle cx="560.5" cy="767.6" r="4.75"/>
<circle cx="552.2" cy="739.2" r="4.75"/>
<circle cx="525.9" cy="607.5" r="4.75"/>
<circle cx="541.8" cy="586.2" r="4.75"/>
<circle cx="536.7" cy="616.0" r="4.75"/>
<circle cx="540.1" cy="458.7" r="4.75"/>
<circle cx="515.0" cy="528.0" r="4.75"/>
<circle cx="558.5" cy="596.1" r="4.75"/>
<circle cx="511.9" cy="525.1" r="4.75"/>
<circle cx="561.3" cy="725.0" r="4.75"/>
<circle cx="543.6" cy="516.7" r="4.75"/>
<circle cx="537.6" cy="735.7" r="4.75"/>
<circle cx="527.5" cy="640.8" r="4.75"/>
<circle cx="512.0" cy="492.3" r="4.75"/>
<circle cx="527.6" cy="629.2" r="4.75"/>
<circle cx="522.9" cy="489.9" r="4.75"/>
<circle cx="514.9" cy="575.1" r="4.75"/>
<circle cx="527.6" cy="459.0" r="4.75"/>
<circle cx="552.1" cy="509.0" r="4.75"/>
<circle cx="543.4" cy="475.2" r="4.75"/>
<circle cx="536.9" cy="734.9" r="4.75"/>
<circle cx="519.7" cy="610.0" r="4.75"/>
<circle cx="533.5" cy="562.7" r="4.75"/>
<circle cx="519.9" cy="562.0" r="4.75"/>
<circle cx="560.0" cy="648.8" r="4.75"/>
<circle cx="560.3" cy="647.6" r="4.75"/>
<circle cx="550.0" cy="642.0" r="4.75"/>
<circle cx="521.2" cy="619.1" r="4.75"/>
<circle cx="529.4" cy="526.3" r="4.75"/>
<circle cx="567.7" cy="788.6" r="4.75"/>
<circle cx="541.8" cy="542.8" r="4.75"/>
<circle cx="530.6" cy="550.3" r="4.75"/>
<circle cx="567.7" cy="751.6" r="4.75"/>
<circle cx="556.8" cy="629.6" r="4.75"/>
<circle cx="538.1" cy="706.2" r="4.75"/>
<circle cx="563.2" cy="699.4" r="4.75"/>
<circle cx="566.7" cy="659.1" r="4.75"/>
<circle cx="560.0" cy="660.4" r="4.75"/>
<circle cx="542.1" cy="736.6" r="4.75"/>
<circle cx="535.7" cy="744.5" r="4.75"/>
<circle cx="553.4" cy="514.3" r="4.75"/>
<circle cx="550.4" cy="547.5" r="4.75"/>
<circle cx="514.0" cy="491.8" r="4.75"/>
<circle cx="534.9" cy="781.6" r="4.75"/>
<circle cx="522.7" cy="637.8" r="4.75"/>
<circle cx="535.3" cy="505.5" r="4.75"/>
<circle cx="551.1" cy="553.0" r="4.75"/>
<circle cx="536.0" cy="558.2" r="4.75"/>
<circle cx="548.7" cy="556.3" r="4.75"/>
<circle cx="551.4" cy="461.2" r="4.75"/>
<circle cx="564.3" cy="674.6" r="4.75"/>
<circle cx="532.7" cy="735.5" r="4.75"/>
<circle cx="553.9" cy="556.2" r="4.75"/>
<circle cx="534.3" cy="752.9" r="4.75"/>
<circle cx="523.8" cy="663.0" r="4.75"/>
<circle cx="525.6" cy="617.8" r="4.75"/>
<circle cx="541.0" cy="584.4" r="4.75"/>
<circle cx="515.7" cy="545.8" r="4.75"/>
<circle cx="558.3" cy="728.7" r="4.75"/>
<circle cx="562.5" cy="661.8" r="4.75"/>
<circle cx="537.0" cy="587.5" r="4.75"/>
<circle cx="544.2" cy="679.7" r="4.75"/>
<circle cx="550.5" cy="554.4" r="4.75"/>
<circle cx="542.9" cy="467.3" r="4.75"/>
<circle cx="531.1" cy="561.9" r="4.75"/>
<circle cx="551.2" cy="471.0" r="4.75"/>
<circle cx="508.6" cy="506.0" r="4.75"/>
<circle cx="543.2" cy="570.6" r="4.75"/>
<circle cx="512.7" cy="546.5" r="4.75"/>
<circle cx="532.8" cy="595.4" r="4.75"/>
<circle cx="554.0" cy="689.3" r="4.75"/>
<circle cx="556.9" cy="789.0" r="4.75"/>
<circle cx="548.7" cy="679.1" r="4.75"/>
<circle cx="564.4" cy="654.8" r="4.75"/>
<circle cx="556.5" cy="544.7" r="4.75"/>
<circle cx="560.4" cy="562.5" r="4.75"/>
<circle cx="526.9" cy="645.3" r="4.75"/>
<circle cx="545.9" cy="610.4" r="4.75"/>
<circle cx="559.6" cy="712.9" r="4.75"/>
<circle cx="540.6" cy="758.7" r="4.75"/>
<circle cx="532.9" cy="583.2" r="4.75"/>
<circle cx="550.7" cy="558.9" r="4.75"/>
<circle cx="558.0" cy="685.8" r="4.75"/>
<circle cx="536.1" cy="633.1" r="4.75"/>
<circle cx="514.4" cy="600.9" r="4.75"/>
<circle cx="535.1" cy="587.0" r="4.75"/>
<circle cx="555.5" cy="716.8" r="4.75"/>
<circle cx="565.9" cy="651.1" r="4.75"/>
<circle cx="532.9" cy="757.8" r="4.75"/>
<circle cx="525.9" cy="483.7" r="4.75"/>
<circle cx="560.4" cy="675.5" r="4.75"/>
<circle cx="529.8" cy="633.9" r="4.75"/>
<circle cx="535.7" cy="466.2" r="4.75"/>
<circle cx="528.4" cy="457.0" r="4.75"/>
<circle cx="556.4" cy="550.2" r="4.75"/>
<circle cx="512.2" cy="531.6" r="4.75"/>
<circle cx="560.6" cy="648.8" r="4.75"/>
<circle cx="535.2" cy="722.2" r="4.75"/>
<circle cx="564.9" cy="650.0" r="4.75"/>
<circle cx="540.2" cy="688.7" r="4.75"/>
<circle cx="560.5" cy="613.9" r="4.75"/>
<circle cx="547.0" cy="547.5" r="4.75"/>
<circle cx="553.3" cy="650.4" r="4.75"/>
<circle cx="536.0" cy="491.5" r="4.75"/>
<circle cx="518.4" cy="516.5" r="4.75"/>
<circle cx="551.4" cy="561.6" r="4.75"/>
<circle cx="535.1" cy="708.7" r="4.75"/>
<circle cx="526.2" cy="548.7" r="4.75"/>
<circle cx="565.7" cy="724.8" r="4.75"/>
<circle cx="559.5" cy="708.8" r="4.75"/>
<circle cx="567.5" cy="712.9" r="4.75"/>
<circle cx="554.2" cy="548.3" r="4.75"/>
<circle cx="551.7" cy="777.6" r="4.75"/>
<circle cx="543.4" cy="699.9" r="4.75"/>
<circle cx="518.9" cy="610.2" r="4.75"/>
<circle cx="540.8" cy="704.2" r="4.75"/>
<circle cx="540.2" cy="529.0" r="4.75"/>
<circle cx="550.1" cy="698.9" r="4.75"/>
<circle cx="539.3" cy="551.3" r="4.75"/>
<circle cx="522.5" cy="583.7" r="4.75"/>
<circle cx="548.8" cy="492.7" r="4.75"/>
<circle cx="517.3" cy="476.5" r="4.75"/>
<circle cx="560.6" cy="724.0" r="4.75"/>
<circle cx="515.3" cy="544.7" r="4.75"/>
<circle cx="549.1" cy="465.6" r="4.75"/>
<circle cx="511.8" cy="512.0" r="4.75"/>
<circle cx="556.2" cy="533.2" r="4.75"/>
<circle cx="554.3" cy="503.0" r="4.75"/>
<circle cx="547.3" cy="684.4" r="4.75"/>
<circle cx="547.6" cy="506.9" r="4.75"/>
<circle cx="536.9" cy="534.7" r="4.75"/>
<circle cx="528.0" cy="562.9" r="4.75"/>
<circle cx="532.5" cy="722.6" r="4.75"/>
<circle cx="564.1" cy="665.0" r="4.75"/>
<circle cx="556.3" cy="798.6" r="4.75"/>
<circle cx="538.7" cy="605.9" r="4.75"/>
<circle cx="567.1" cy="692.0" r="4.75"/>
<circle cx="539.3" cy="585.6" r="4.75"/>
<circle cx="552.5" cy="790.2" r="4.75"/>
<circle cx="539.2" cy="609.7" r="4.75"/>
<circle cx="539.5" cy="459.5" r="4.75"/>
<circle cx="559.1" cy="702.0" r="4.75"/>
<circle cx="546.9" cy="692.6" r="4.75"/>
<circle cx="558.1" cy="598.9" r="4.75"/>
<circle cx="543.5" cy="530.5" r="4.75"/>
<circle cx="542.5" cy="676.0" r="4.75"/>
<circle cx="542.9" cy="514.4" r="4.75"/>
<circle cx="525.2" cy="459.1" r="4.75"/>
<circle cx="534.1" cy="650.2" r="4.75"/>
<circle cx="529.9" cy="682.6" r="4.75"/>
<circle cx="531.8" cy="611.9" r="4.75"/>
<circle cx="520.5" cy="634.0" r="4.75"/>
<circle cx="521.4" cy="523.4" r="4.75"/>
<circle cx="534.6" cy="671.1" r="4.75"/>
<circle cx="539.9" cy="525.9" r="4.75"/>
<circle cx="543.4" cy="694.4" r="4.75"/>
<circle cx="521.2" cy="487.9" r="4.75"/>
<circle cx="542.8" cy="618.4" r="4.75"/>
<circle cx="539.7" cy="556.6" r="4.75"/>
<circle cx="550.1" cy="777.4" r="4.75"/>
<circle cx="538.9" cy="746.9" r="4.75"/>
<circle cx="539.2" cy="795.7" r="4.75"/>
<circle cx="518.4" cy="551.5" r="4.75"/>
<circle cx="555.7" cy="594.8" r="4.75"/>
<circle cx="542.9" cy="759.7" r="4.75"/>
<circle cx="521.2" cy="468.3" r="4.75"/>
<circle cx="539.3" cy="596.9" r="4.75"/>
<circle cx="538.6" cy="737.2" r="4.75"/>
<circle cx="562.9" cy="652.5" r="4.75"/>
<circle cx="537.3" cy="767.1" r="4.75"/>
<circle cx="535.5" cy="552.7" r="4.75"/>
<circle cx="537.7" cy="679.8" r="4.75"/>
<circle cx="531.2" cy="466.3" r="4.75"/>
<circle cx="551.3" cy="759.2" r="4.75"/>
<circle cx="564.4" cy="793.6" r="4.75"/>
<circle cx="563.8" cy="761.2" r="4.75"/>
<circle cx="525.1" cy="465.3" r="4.75"/>
<circle cx="544.4" cy="690.8" r="4.75"/>
<circle cx="541.1" cy="591.1" r="4.75"/>
<circle cx="544.1" cy="532.4" r="4.75"/>
<circle cx="554.8" cy="535.9" r="4.75"/>
<circle cx="550.6" cy="605.2" r="4.75"/>
<circle cx="527.8" cy="478.0" r="4.75"/>
<circle cx="545.9" cy="463.3" r="4.75"/>
<circle cx="537.0" cy="589.2" r="4.75"/>
<circle cx="526.1" cy="534.3" r="4.75"/>
<circle cx="538.2" cy="757.8" r="4.75"/>
<circle cx="557.2" cy="554.1" r="4.75"/>
<circle cx="544.9" cy="668.8" r="4.75"/>
<circle cx="552.8" cy="666.9" r="4.75"/>
<circle cx="511.9" cy="495.9" r="4.75"/>
<circle cx="556.9" cy="538.1" r="4.75"/>
<circle cx="543.2" cy="463.9" r="4.75"/>
<circle cx="544.0" cy="547.2" r="4.75"/>
<circle cx="522.8" cy="628.2" r="4.75"/>
<circle cx="539.5" cy="564.0" r="4.75"/>
<circle cx="545.6" cy="694.0" r="4.75"/>
<circle cx="513.2" cy="532.8" r="4.75"/>
<circle cx="561.9" cy="680.6" r="4.75"/>
<circle cx="530.5" cy="499.8" r="4.75"/>
<circle cx="533.2" cy="633.3" r="4.75"/>
<circle cx="548.7" cy="758.5" r="4.75"/>
<circle cx="530.8" cy="674.9" r="4.75"/>
<circle cx="532.5" cy="604.4" r="4.75"/>
<circle cx="550.6" cy="708.3" r="4.75"/>
<circle cx="529.5" cy="557.7" r="4.75"/>
<circle cx="535.6" cy="780.5" r="4.75"/>
<circle cx="526.7" cy="525.7" r="4.75"/>
<circle cx="534.7" cy="563.2" r="4.75"/>
<circle cx="533.5" cy="631.6" r="4.75"/>
<circle cx="547.3" cy="712.5" r="4.75"/>
<circle cx="535.3" cy="507.3" r="4.75"/>
<circle cx="554.0" cy="754.7" r="4.75"/>
<circle cx="563.3" cy="701.3" r="4.75"/>
<circle cx="515.8" cy="549.0" r="4.75"/>
<circle cx="550.8" cy="459.2" r="4.75"/>
<circle cx="525.6" cy="582.3" r="4.75"/>
<circle cx="525.0" cy="671.2" r="4.75"/>
<circle cx="553.6" cy="610.1" r="4.75"/>
<circle cx="554.0" cy="532.1" r="4.75"/>
<circle cx="552.2" cy="500.7" r="4.75"/>
<circle cx="547.0" cy="725.3" r="4.75"/>
<circle cx="511.9" cy="544.7" r="4.75"/>
<circle cx="541.7" cy="604.5" r="4.75"/>
<circle cx="550.4" cy="546.4" r="4.75"/>
<circle cx="537.2" cy="752.7" r="4.75"/>
<circle cx="513.9" cy="506.9" r="4.75"/>
<circle cx="521.9" cy="636.0" r="4.75"/>
<circle cx="527.2" cy="612.0" r="4.75"/>
<circle cx="511.7" cy="552.0" r="4.75"/>
<circle cx="548.8" cy="642.8" r="4.75"/>
<circle cx="536.7" cy="454.0" r="4.75"/>
<circle cx="555.0" cy="479.8" r="4.75"/>
<circle cx="551.3" cy="589.4" r="4.75"/>
<circle cx="529.8" cy="459.9" r="4.75"/>
<circle cx="566.1" cy="663.5" r="4.75"/>
<circle cx="529.0" cy="502.2" r="4.75"/>
<circle cx="515.8" cy="611.4" r="4.75"/>
<circle cx="530.5" cy="735.6" r="4.75"/>
<circle cx="550.1" cy="702.7" r="4.75"/>
<circle cx="555.0" cy="753.2" r="4.75"/>
<circle cx="537.0" cy="674.7" r="4.75"/>
<circle cx="544.4" cy="601.6" r="4.75"/>
<circle cx="540.7" cy="567.7" r="4.75"/>
<circle cx="553.2" cy="759.9" r="4.75"/>
<circle cx="539.6" cy="579.4" r="4.75"/>
<circle cx="539.6" cy="706.8" r="4.75"/>
<circle cx="549.0" cy="694.5" r="4.75"/>
<circle cx="544.9" cy="468.9" r="4.75"/>
<circle cx="548.1" cy="752.7" r="4.75"/>
<circle cx="549.4" cy="743.9" r="4.75"/>
<circle cx="517.0" cy="606.5" r="4.75"/>
<circle cx="552.5" cy="781.1" r="4.75"/>
<circle cx="513.2" cy="517.7" r="4.75"/>
<circle cx="522.8" cy="535.2" r="4.75"/>
<circle cx="548.2" cy="590.7" r="4.75"/>
<circle cx="565.2" cy="684.7" r="4.75"/>
<circle cx="551.1" cy="766.7" r="4.75"/>
<circle cx="534.3" cy="675.7" r="4.75"/>
<circle cx="552.9" cy="765.9" r="4.75"/>
<circle cx="520.7" cy="620.9" r="4.75"/>
<circle cx="518.8" cy="457.0" r="4.75"/>
<circle cx="532.4" cy="670.5" r="4.75"/>
<circle cx="548.0" cy="749.0" r="4.75"/>
<circle cx="525.5" cy="543.1" r="4.75"/>
<circle cx="544.9" cy="493.5" r="4.75"/>
<circle cx="555.0" cy="486.3" r="4.75"/>
<circle cx="559.9" cy="548.5" r="4.75"/>
<circle cx="565.7" cy="669.2" r="4.75"/>
<circle cx="555.8" cy="517.1" r="4.75"/>
<circle cx="549.7" cy="678.1" r="4.75"/>
<circle cx="532.8" cy="642.0" r="4.75"/>
<circle cx="541.3" cy="743.8" r="4.75"/>
<circle cx="538.9" cy="480.8" r="4.75"/>
<circle cx="547.2" cy="790.3" r="4.75"/>
<circle cx="521.3" cy="492.9" r="4.75"/>
<circle cx="519.8" cy="476.8" r="4.75"/>
<circle cx="539.8" cy="516.5" r="4.75"/>
<circle cx="562.9" cy="761.4" r="4.75"/>
<circle cx="535.8" cy="681.6" r="4.75"/>
<circle cx="533.2" cy="645.2" r="4.75"/>
<circle cx="542.7" cy="522.1" r="4.75"/>
<circle cx="519.2" cy="600.3" r="4.75"/>
<circle cx="563.8" cy="797.5" r="4.75"/>
<circle cx="552.0" cy="561.6" r="4.75"/>
<circle cx="524.5" cy="657.3" r="4.75"/>
<circle cx="552.8" cy="545.0" r="4.75"/>
<circle cx="540.7" cy="649.9" r="4.75"/>
<circle cx="563.3" cy="749.4" r="4.75"/>
<circle cx="510.7" cy="558.0" r="4.75"/>
<circle cx="551.7" cy="583.2" r="4.75"/>
<circle cx="542.9" cy="503.0" r="4.75"/>
<circle cx="520.7" cy="562.8" r="4.75"/>
<circle cx="556.4" cy="554.6" r="4.75"/>
<circle cx="559.9" cy="569.5" r="4.75"/>
<circle cx="559.6" cy="694.1" r="4.75"/>
<circle cx="539.0" cy="717.8" r="4.75"/>
<circle cx="556.9" cy="523.3" r="4.75"/>
<circle cx="556.4" cy="690.4" r="4.75"/>
<circle cx="560.2" cy="785.7" r="4.75"/>
<circle cx="546.9" cy="733.5" r="4.75"/>
<circle cx="530.7" cy="589.3" r="4.75"/>
<circle cx="546.2" cy="554.3" r="4.75"/>
<circle cx="548.6" cy="758.4" r="4.75"/>
<circle cx="535.8" cy="761.0" r="4.75"/>
<circle cx="555.3" cy="537.6" r="4.75"/>
<circle cx="512.2" cy="557.2" r="4.75"/>
<circle cx="544.9" cy="651.4" r="4.75"/>
<circle cx="527.7" cy="581.2" r="4.75"/>
<circle cx="523.5" cy="517.0" r="4.75"/>
<circle cx="539.2" cy="674.2" r="4.75"/>
<circle cx="551.7" cy="609.8" r="4.75"/>
<circle cx="533.2" cy="680.7" r="4.75"/>
<circle cx="529.8" cy="675.6" r="4.75"/>
<circle cx="533.9" cy="503.2" r="4.75"/>
<circle cx="537.6" cy="466.9" r="4.75"/>
<circle cx="513.0" cy="597.7" r="4.75"/>
<circle cx="529.2" cy="729.9" r="4.75"/>
<circle cx="511.3" cy="568.0" r="4.75"/>
<circle cx="545.4" cy="647.4" r="4.75"/>
<circle cx="546.4" cy="649.8" r="4.75"/>
<circle cx="539.4" cy="471.7" r="4.75"/>
<circle cx="555.4" cy="639.7" r="4.75"/>
<circle cx="541.4" cy="540.2" r="4.75"/>
<circle cx="534.0" cy="774.4" r="4.75"/>
<circle cx="522.2" cy="492.1" r="4.75"/>
<circle cx="533.0" cy="541.3" r="4.75"/>
<circle cx="555.7" cy="698.1" r="4.75"/>
<circle cx="522.6" cy="467.5" r="4.75"/>
<circle cx="555.9" cy="699.6" r="4.75"/>
<circle cx="518.0" cy="584.4" r="4.75"/>
<circle cx="558.8" cy="670.1" r="4.75"/>
<circle cx="555.6" cy="499.1" r="4.75"/>
<circle cx="557.7" cy="505.8" r="4.75"/>
<circle cx="548.1" cy="670.0" r="4.75"/>
<circle cx="538.1" cy="509.7" r="4.75"/>
<circle cx="543.2" cy="613.3" r="4.75"/>
<circle cx="531.8" cy="705.0" r="4.75"/>
<circle cx="568.3" cy="792.1" r="4.75"/>
<circle cx="543.2" cy="570.3" r="4.75"/>
<circle cx="561.2" cy="728.9" r="4.75"/>
<circle cx="548.0" cy="528.2" r="4.75"/>
<circle cx="550.8" cy="773.8" r="4.75"/>
<circle cx="557.8" cy="520.7" r="4.75"/>
<circle cx="521.2" cy="529.9" r="4.75"/>
<circle cx="537.5" cy="508.7" r="4.75"/>
<circle cx="564.0" cy="741.0" r="4.75"/>
<circle cx="529.2" cy="536.0" r="4.75"/>
<circle cx="516.4" cy="518.4" r="4.75"/>
<circle cx="524.9" cy="556.5" r="4.75"/>
<circle cx="551.6" cy="466.3" r="4.75"/>
<circle cx="542.6" cy="732.3" r="4.75"/>
<circle cx="539.0" cy="575.2" r="4.75"/>
<circle cx="531.8" cy="511.4" r="4.75"/>
<circle cx="514.8" cy="556.1" r="4.75"/>
<circle cx="563.6" cy="743.5" r="4.75"/>
<circle cx="537.9" cy="570.4" r="4.75"/>
<circle cx="525.8" cy="493.7" r="4.75"/>
<circle cx="525.8" cy="554.9" r="4.75"/>
<circle cx="539.2" cy="512.5" r="4.75"/>
<circle cx="540.5" cy="621.8" r="4.75"/>
<circle cx="564.2" cy="713.0" r="4.75"/>
<circle cx="541.6" cy="532.7" r="4.75"/>
<circle cx="552.4" cy="529.8" r="4.75"/>
<circle cx="521.1" cy="544.2" r="4.75"/>
<circle cx="551.2" cy="581.0" r="4.75"/>
<circle cx="532.4" cy="769.8" r="4.75"/>
<circle cx="561.8" cy="797.1" r="4.75"/>
<circle cx="542.6" cy="579.2" r="4.75"/>
<circle cx="544.6" cy="590.2" r="4.75"/>
<circle cx="559.2" cy="724.4" r="4.75"/>
<circle cx="550.9" cy="727.9" r="4.75"/>
<circle cx="540.0" cy="495.6" r="4.75"/>
<circle cx="537.9" cy="784.0" r="4.75"/>
<circle cx="548.2" cy="455.2" r="4.75"/>
<circle cx="552.7" cy="651.8" r="4.75"/>
<circle cx="532.1" cy="541.3" r="4.75"/>
<circle cx="513.2" cy="529.7" r="4.75"/>
<circle cx="534.6" cy="595.7" r="4.75"/>
<circle cx="508.6" cy="508.4" r="4.75"/>
<circle cx="525.6" cy="507.7" r="4.75"/>
<circle cx="558.4" cy="782.8" r="4.75"/>
<circle cx="537.2" cy="564.0" r="4.75"/>
<circle cx="560.3" cy="713.8" r="4.75"/>
<circle cx="548.3" cy="772.8" r="4.75"/>
<circle cx="550.6" cy="539.1" r="4.75"/>
<circle cx="531.1" cy="663.1" r="4.75"/>
<circle cx="555.7" cy="620.8" r="4.75"/>
<circle cx="565.7" cy="677.3" r="4.75"/>
<circle cx="510.2" cy="530.7" r="4.75"/>
<circle cx="541.2" cy="590.1" r="4.75"/>
<circle cx="550.5" cy="589.8" r="4.75"/>
<circle cx="558.2" cy="641.3" r="4.75"/>
<circle cx="544.8" cy="663.2" r="4.75"/>
<circle cx="539.1" cy="634.1" r="4.75"/>
<circle cx="527.4" cy="526.0" r="4.75"/>
<circle cx="535.4" cy="502.3" r="4.75"/>
<circle cx="548.6" cy="507.6" r="4.75"/>
<circle cx="526.6" cy="516.2" r="4.75"/>
<circle cx="550.0" cy="623.9" r="4.75"/>
<circle cx="519.1" cy="537.8" r="4.75"/>
<circle cx="542.5" cy="534.2" r="4.75"/>
<circle cx="539.8" cy="610.2" r="4.75"/>
<circle cx="545.6" cy="613.1" r="4.75"/>
<circle cx="534.8" cy="460.5" r="4.75"/>
<circle cx="557.5" cy="640.4" r="4.75"/>
<circle cx="552.2" cy="465.8" r="4.75"/>
<circle cx="537.3" cy="566.6" r="4.75"/>
<circle cx="540.6" cy="691.7" r="4.75"/>
<circle cx="551.1" cy="470.2" r="4.75"/>
<circle cx="561.2" cy="667.0" r="4.75"/>
<circle cx="560.9" cy="702.3" r="4.75"/>
<circle cx="559.2" cy="513.1" r="4.75"/>
<circle cx="548.1" cy="797.0" r="4.75"/>
<circle cx="538.9" cy="745.3" r="4.75"/>
<circle cx="550.3" cy="745.1" r="4.75"/>
<circle cx="548.3" cy="702.5" r="4.75"/>
<circle cx="540.5" cy="665.8" r="4.75"/>
<circle cx="532.7" cy="770.9" r="4.75"/>
<circle cx="539.3" cy="471.2" r="4.75"/>
<circle cx="547.8" cy="709.5" r="4.75"/>
<circle cx="551.3" cy="618.6" r="4.75"/>
<circle cx="537.0" cy="748.2" r="4.75"/>
<circle cx="551.5" cy="695.3" r="4.75"/>
<circle cx="551.4" cy="748.6" r="4.75"/>
<circle cx="553.5" cy="780.2" r="4.75"/>
<circle cx="532.5" cy="713.3" r="4.75"/>
<circle cx="555.4" cy="710.2" r="4.75"/>
<circle cx="539.9" cy="616.1" r="4.75"/>
<circle cx="527.7" cy="504.9" r="4.75"/>
<circle cx="560.4" cy="741.7" r="4.75"/>
<circle cx="530.1" cy="587.0" r="4.75"/>
<circle cx="556.9" cy="672.2" r="4.75"/>
<circle cx="534.7" cy="782.6" r="4.75"/>
<circle cx="540.9" cy="478.3" r="4.75"/>
<circle cx="530.8" cy="570.4" r="4.75"/>
<circle cx="542.3" cy="694.7" r="4.75"/>
<circle cx="525.2" cy="671.5" r="4.75"/>
<circle cx="553.8" cy="689.8" r="4.75"/>
<circle cx="523.0" cy="470.9" r="4.75"/>
<circle cx="553.2" cy="785.2" r="4.75"/>
<circle cx="534.9" cy="543.2" r="4.75"/>
<circle cx="534.5" cy="729.7" r="4.75"/>
<circle cx="536.9" cy="775.6" r="4.75"/>
<circle cx="566.1" cy="659.8" r="4.75"/>
<circle cx="515.5" cy="491.8" r="4.75"/>
<circle cx="541.4" cy="738.9" r="4.75"/>
<circle cx="544.7" cy="490.3" r="4.75"/>
<circle cx="551.5" cy="778.0" r="4.75"/>
<circle cx="525.0" cy="648.8" r="4.75"/>
<circle cx="547.0" cy="659.7" r="4.75"/>
<circle cx="528.9" cy="640.0" r="4.75"/>
<circle cx="554.2" cy="472.5" r="4.75"/>
<circle cx="561.5" cy="613.8" r="4.75"/>
<circle cx="521.3" cy="524.1" r="4.75"/>
<circle cx="558.8" cy="592.1" r="4.75"/>
<circle cx="555.2" cy="509.5" r="4.75"/>
<circle cx="527.8" cy="473.5" r="4.75"/>
<circle cx="542.5" cy="633.8" r="4.75"/>
<circle cx="547.2" cy="744.1" r="4.75"/>
<circle cx="560.5" cy="566.9" r="4.75"/>
<circle cx="534.0" cy="499.0" r="4.75"/>
<circle cx="544.2" cy="582.6" r="4.75"/>
<circle cx="551.1" cy="552.9" r="4.75"/>
<circle cx="530.3" cy="675.9" r="4.75"/>
<circle cx="517.3" cy="529.0" r="4.75"/>
<circle cx="542.6" cy="681.0" r="4.75"/>
<circle cx="515.6" cy="590.7" r="4.75"/>
<circle cx="536.1" cy="589.1" r="4.75"/>
<circle cx="551.3" cy="532.5" r="4.75"/>
<circle cx="541.2" cy="738.8" r="4.75"/>
<circle cx="527.7" cy="523.6" r="4.75"/>
<circle cx="561.9" cy="693.2" r="4.75"/>
<circle cx="554.2" cy="495.3" r="4.75"/>
<circle cx="519.4" cy="609.8" r="4.75"/>
<circle cx="545.7" cy="535.2" r="4.75"/>
<circle cx="561.4" cy="704.3" r="4.75"/>
<circle cx="537.2" cy="575.2" r="4.75"/>
<circle cx="532.6" cy="480.5" r="4.75"/>
<circle cx="557.1" cy="753.6" r="4.75"/>
<circle cx="528.1" cy="512.6" r="4.75"/>
<circle cx="525.4" cy="598.2" r="4.75"/>
<circle cx="546.0" cy="539.5" r="4.75"/>
<circle cx="553.9" cy="705.9" r="4.75"/>
<circle cx="565.6" cy="778.5" r="4.75"/>
<circle cx="554.2" cy="779.2" r="4.75"/>
<circle cx="556.3" cy="582.3" r="4.75"/>
<circle cx="509.5" cy="521.6" r="4.75"/>
<circle cx="566.6" cy="679.8" r="4.75"/>
<circle cx="556.7" cy="544.5" r="4.75"/>
<circle cx="526.3" cy="599.9" r="4.75"/>
<circle cx="559.7" cy="696.4" r="4.75"/>
<circle cx="535.1" cy="664.7" r="4.75"/>
<circle cx="535.8" cy="583.2" r="4.75"/>
<circle cx="517.4" cy="582.6" r="4.75"/>
<circle cx="532.6" cy="546.5" r="4.75"/>
<circle cx="551.3" cy="790.3" r="4.75"/>
<circle cx="550.7" cy="622.1" r="4.75"/>
<circle cx="565.1" cy="663.1" r="4.75"/>
<circle cx="562.9" cy="760.4" r="4.75"/>
<circle cx="538.0" cy="520.3" r="4.75"/>
<circle cx="533.9" cy="585.0" r="4.75"/>
<circle cx="518.0" cy="520.9" r="4.75"/>
<circle cx="525.1" cy="596.5" r="4.75"/>
<circle cx="544.1" cy="711.0" r="4.75"/>
<circle cx="537.9" cy="684.5" r="4.75"/>
<circle cx="544.2" cy="471.6" r="4.75"/>
<circle cx="537.8" cy="519.5" r="4.75"/>
<circle cx="540.3" cy="746.5" r="4.75"/>
<circle cx="551.2" cy="475.6" r="4.75"/>
<circle cx="561.8" cy="686.9" r="4.75"/>
<circle cx="547.3" cy="458.4" r="4.75"/>
<circle cx="525.6" cy="529.2" r="4.75"/>
<circle cx="528.0" cy="451.0" r="4.75"/>
<circle cx="534.8" cy="642.7" r="4.75"/>
<circle cx="565.6" cy="763.7" r="4.75"/>
<circle cx="535.8" cy="755.7" r="4.75"/>
<circle cx="558.6" cy="554.0" r="4.75"/>
<circle cx="520.2" cy="511.5" r="4.75"/>
<circle cx="531.8" cy="589.2" r="4.75"/>
<circle cx="554.2" cy="692.0" r="4.75"/>
<circle cx="557.9" cy="721.2" r="4.75"/>
<circle cx="532.8" cy="568.9" r="4.75"/>
<circle cx="531.6" cy="631.1" r="4.75"/>
<circle cx="537.9" cy="646.8" r="4.75"/>
<circle cx="542.8" cy="513.0" r="4.75"/>
<circle cx="543.3" cy="651.6" r="4.75"/>
<circle cx="549.9" cy="604.8" r="4.75"/>
<circle cx="516.5" cy="569.5" r="4.75"/>
<circle cx="525.0" cy="511.5" r="4.75"/>
<circle cx="565.4" cy="694.3" r="4.75"/>
<circle cx="566.4" cy="779.7" r="4.75"/>
<circle cx="524.9" cy="552.8" r="4.75"/>
<circle cx="538.8" cy="589.6" r="4.75"/>
<circle cx="534.0" cy="474.9" r="4.75"/>
<circle cx="565.3" cy="750.2" r="4.75"/>
<circle cx="544.2" cy="579.4" r="4.75"/>
<circle cx="545.0" cy="636.5" r="4.75"/>
<circle cx="531.5" cy="703.6" r="4.75"/>
<circle cx="523.9" cy="574.4" r="4.75"/>
<circle cx="559.4" cy="699.5" r="4.75"/>
<circle cx="520.4" cy="563.6" r="4.75"/>
<circle cx="540.2" cy="501.6" r="4.75"/>
<circle cx="553.9" cy="665.3" r="4.75"/>
<circle cx="530.6" cy="562.3" r="4.75"/>
<circle cx="519.6" cy="513.8" r="4.75"/>
<circle cx="543.5" cy="638.0" r="4.75"/>
<circle cx="560.1" cy="729.1" r="4.75"/>
<circle cx="553.3" cy="650.7" r="4.75"/>
<circle cx="522.6" cy="601.6" r="4.75"/>
<circle cx="563.5" cy="722.9" r="4.75"/>
<circle cx="554.2" cy="759.0" r="4.75"/>
<circle cx="559.9" cy="535.4" r="4.75"/>
<circle cx="564.3" cy="790.2" r="4.75"/>
<circle cx="544.6" cy="650.3" r="4.75"/>
<circle cx="559.6" cy="730.9" r="4.75"/>
<circle cx="535.6" cy="620.5" r="4.75"/>
<circle cx="545.0" cy="454.9" r="4.75"/>
<circle cx="563.0" cy="765.8" r="4.75"/>
<circle cx="531.8" cy="720.4" r="4.75"/>
<circle cx="520.9" cy="585.5" r="4.75"/>
<circle cx="518.8" cy="554.2" r="4.75"/>
<circle cx="528.2" cy="479.0" r="4.75"/>
<circle cx="561.0" cy="776.1" r="4.75"/>
<circle cx="557.1" cy="553.2" r="4.75"/>
<circle cx="520.1" cy="619.7" r="4.75"/>
<circle cx="517.4" cy="574.5" r="4.75"/>
<circle cx="538.6" cy="617.9" r="4.75"/>
<circle cx="563.8" cy="654.5" r="4.75"/>
<circle cx="539.7" cy="750.8" r="4.75"/>
<circle cx="544.4" cy="764.4" r="4.75"/>
<circle cx="548.0" cy="702.3" r="4.75"/>
<circle cx="540.8" cy="485.3" r="4.75"/>
<circle cx="544.2" cy="756.5" r="4.75"/>
<circle cx="554.7" cy="784.9" r="4.75"/>
<circle cx="510.4" cy="518.5" r="4.75"/>
<circle cx="539.6" cy="755.3" r="4.75"/>
<circle cx="530.4" cy="498.2" r="4.75"/>
<circle cx="525.8" cy="513.2" r="4.75"/>
<circle cx="555.6" cy="778.2" r="4.75"/>
<circle cx="541.8" cy="641.1" r="4.75"/>
<circle cx="542.9" cy="692.7" r="4.75"/>
<circle cx="559.6" cy="737.9" r="4.75"/>
<circle cx="535.6" cy="623.2" r="4.75"/>
<circle cx="536.8" cy="503.0" r="4.75"/>
<circle cx="535.4" cy="506.3" r="4.75"/>
<circle cx="534.7" cy="647.9" r="4.75"/>
<circle cx="564.9" cy="714.3" r="4.75"/>
<circle cx="533.0" cy="653.0" r="4.75"/>
<circle cx="509.3" cy="502.3" r="4.75"/>
<circle cx="535.2" cy="654.6" r="4.75"/>
<circle cx="550.1" cy="771.6" r="4.75"/>
<circle cx="530.3" cy="584.9" r="4.75"/>
<circle cx="516.7" cy="544.5" r="4.75"/>
<circle cx="546.6" cy="724.8" r="4.75"/>
<circle cx="548.5" cy="523.5" r="4.75"/>
<circle cx="541.1" cy="459.4" r="4.75"/>
<circle cx="548.1" cy="658.6" r="4.75"/>
<circle cx="548.0" cy="459.5" r="4.75"/>
<circle cx="541.8" cy="573.9" r="4.75"/>
<circle cx="540.5" cy="696.0" r="4.75"/>
<circle cx="538.6" cy="761.3" r="4.75"/>
<circle cx="518.2" cy="617.3" r="4.75"/>
<circle cx="551.5" cy="506.3" r="4.75"/>
<circle cx="516.9" cy="618.6" r="4.75"/>
<circle cx="541.3" cy="754.8" r="4.75"/>
<circle cx="547.9" cy="528.5" r="4.75"/>
<circle cx="518.1" cy="555.9" r="4.75"/>
<circle cx="527.9" cy="658.4" r="4.75"/>
<circle cx="552.4" cy="499.8" r="4.75"/>
<circle cx="534.9" cy="750.6" r="4.75"/>
<circle cx="548.7" cy="750.7" r="4.75"/>
<circle cx="560.8" cy="631.7" r="4.75"/>
<circle cx="525.1" cy="557.6" r="4.75"/>
<circle cx="540.7" cy="766.2" r="4.75"/>
<circle cx="524.0" cy="529.5" r="4.75"/>
<circle cx="558.2" cy="592.9" r="4.75"/>
<circle cx="546.5" cy="476.1" r="4.75"/>
<circle cx="527.4" cy="630.5" r="4.75"/>
<circle cx="556.8" cy="670.8" r="4.75"/>
<circle cx="522.3" cy="508.3" r="4.75"/>
<circle cx="549.5" cy="646.2" r="4.75"/>
<circle cx="529.4" cy="731.4" r="4.75"/>
<circle cx="541.8" cy="774.9" r="4.75"/>
<circle cx="529.3" cy="602.6" r="4.75"/>
<circle cx="559.6" cy="554.4" r="4.75"/>
<circle cx="555.4" cy="722.3" r="4.75"/>
<circle cx="548.7" cy="658.7" r="4.75"/>
<circle cx="567.4" cy="752.9" r="4.75"/>
<circle cx="547.7" cy="790.8" r="4.75"/>
<circle cx="517.7" cy="553.6" r="4.75"/>
<circle cx="532.5" cy="503.9" r="4.75"/>
<circle cx="539.7" cy="589.9" r="4.75"/>
<circle cx="533.4" cy="693.8" r="4.75"/>
<circle cx="551.5" cy="586.9" r="4.75"/>
<circle cx="514.4" cy="560.0" r="4.75"/>
<circle cx="526.7" cy="508.6" r="4.75"/>
<circle cx="544.4" cy="784.3" r="4.75"/>
<circle cx="543.9" cy="463.5" r="4.75"/>
<circle cx="536.1" cy="540.1" r="4.75"/>
<circle cx="550.2" cy="767.2" r="4.75"/>
<circle cx="544.3" cy="696.0" r="4.75"/>
<circle cx="542.2" cy="459.6" r="4.75"/>
<circle cx="528.8" cy="707.0" r="4.75"/>
<circle cx="546.0" cy="673.5" r="4.75"/>
<circle cx="563.3" cy="768.1" r="4.75"/>
<circle cx="527.6" cy="493.8" r="4.75"/>
<circle cx="551.1" cy="710.5" r="4.75"/>
<circle cx="525.0" cy="589.8" r="4.75"/>
<circle cx="508.7" cy="520.0" r="4.75"/>
<circle cx="551.1" cy="523.5" r="4.75"/>
<circle cx="534.6" cy="539.0" r="4.75"/>
<circle cx="558.6" cy="539.0" r="4.75"/>
<circle cx="542.7" cy="459.0" r="4.75"/>
<circle cx="548.9" cy="797.5" r="4.75"/>
<circle cx="549.0" cy="696.5" r="4.75"/>
<circle cx="544.9" cy="535.8" r="4.75"/>
<circle cx="554.8" cy="646.2" r="4.75"/>
<circle cx="548.0" cy="533.4" r="4.75"/>
<circle cx="529.6" cy="682.2" r="4.75"/>
<circle cx="547.7" cy="598.4" r="4.75"/>
<circle cx="549.3" cy="466.7" r="4.75"/>
<circle cx="522.2" cy="479.1" r="4.75"/>
<circle cx="550.6" cy="701.0" r="4.75"/>
<circle cx="551.8" cy="668.4" r="4.75"/>
<circle cx="528.8" cy="624.8" r="4.75"/>
<circle cx="534.4" cy="496.1" r="4.75"/>
<circle cx="555.6" cy="530.5" r="4.75"/>
<circle cx="528.8" cy="502.6" r="4.75"/>
<circle cx="542.2" cy="617.9" r="4.75"/>
<circle cx="542.8" cy="483.9" r="4.75"/>
<circle cx="543.1" cy="697.7" r="4.75"/>
<circle cx="524.4" cy="662.0" r="4.75"/>
<circle cx="532.4" cy="463.2" r="4.75"/>
<circle cx="536.8" cy="573.1" r="4.75"/>
<circle cx="558.2" cy="573.2" r="4.75"/>
<circle cx="528.8" cy="605.2" r="4.75"/>
<circle cx="568.4" cy="764.8" r="4.75"/>
<circle cx="545.1" cy="496.3" r="4.75"/>
<circle cx="528.3" cy="684.2" r="4.75"/>
<circle cx="566.0" cy="722.4" r="4.75"/>
<circle cx="529.2" cy="617.2" r="4.75"/>
<circle cx="555.8" cy="654.8" r="4.75"/>
<circle cx="541.2" cy="466.0" r="4.75"/>
<circle cx="518.5" cy="492.3" r="4.75"/>
<circle cx="542.0" cy="615.0" r="4.75"/>
<circle cx="542.5" cy="503.1" r="4.75"/>
<circle cx="541.0" cy="517.1" r="4.75"/>
<circle cx="556.3" cy="731.9" r="4.75"/>
<circle cx="548.5" cy="469.8" r="4.75"/>
<circle cx="537.6" cy="697.4" r="4.75"/>
<circle cx="567.5" cy="698.1" r="4.75"/>
<circle cx="553.8" cy="530.1" r="4.75"/>
<circle cx="510.6" cy="559.7" r="4.75"/>
<circle cx="534.4" cy="533.4" r="4.75"/>
<circle cx="531.6" cy="607.7" r="4.75"/>
<circle cx="547.8" cy="783.3" r="4.75"/>
<circle cx="546.4" cy="512.0" r="4.75"/>
<circle cx="512.2" cy="548.6" r="4.75"/>
<circle cx="542.1" cy="753.6" r="4.75"/>
<circle cx="558.7" cy="772.2" r="4.75"/>
<circle cx="555.2" cy="627.5" r="4.75"/>
<circle cx="530.2" cy="499.4" r="4.75"/>
<circle cx="546.0" cy="539.6" r="4.75"/>
<circle cx="536.5" cy="531.4" r="4.75"/>
<circle cx="538.2" cy="609.3" r="4.75"/>
<circle cx="549.3" cy="516.0" r="4.75"/>
<circle cx="544.5" cy="532.8" r="4.75"/>
<circle cx="532.8" cy="524.8" r="4.75"/>
<circle cx="559.0" cy="627.7" r="4.75"/>
<circle cx="560.2" cy="682.7" r="4.75"/>
<circle cx="554.3" cy="707.0" r="4.75"/>
<circle cx="559.7" cy="693.3" r="4.75"/>
<circle cx="554.9" cy="664.3" r="4.75"/>
<circle cx="531.6" cy="741.1" r="4.75"/>
<circle cx="559.5" cy="616.5" r="4.75"/>
<circle cx="544.7" cy="699.2" r="4.75"/>
<circle cx="509.2" cy="501.5" r="4.75"/>
<circle cx="557.8" cy="547.0" r="4.75"/>
<circle cx="533.3" cy="718.4" r="4.75"/>
<circle cx="550.5" cy="465.0" r="4.75"/>
<circle cx="532.6" cy="525.6" r="4.75"/>
<circle cx="535.7" cy="584.0" r="4.75"/>
<circle cx="530.6" cy="721.9" r="4.75"/>
<circle cx="537.5" cy="669.0" r="4.75"/>
<circle cx="520.8" cy="554.3" r="4.75"/>
<circle cx="537.0" cy="658.9" r="4.75"/>
<circle cx="534.4" cy="721.6" r="4.75"/>
<circle cx="530.6" cy="529.2" r="4.75"/>
<circle cx="526.8" cy="613.7" r="4.75"/>
<circle cx="560.7" cy="708.5" r="4.75"/>
<circle cx="563.1" cy="672.3" r="4.75"/>
<circle cx="540.0" cy="753.9" r="4.75"/>
<circle cx="549.8" cy="661.5" r="4.75"/>
<circle cx="560.4" cy="594.4" r="4.75"/>
<circle cx="534.3" cy="729.2" r="4.75"/>
<circle cx="534.9" cy="515.0" r="4.75"/>
<circle cx="546.5" cy="477.5" r="4.75"/>
<circle cx="541.1" cy="487.2" r="4.75"/>
<circle cx="533.6" cy="450.8" r="4.75"/>
<circle cx="561.0" cy="746.8" r="4.75"/>
<circle cx="513.1" cy="571.2" r="4.75"/>
<circle cx="539.8" cy="642.9" r="4.75"/>
<circle cx="561.4" cy="648.7" r="4.75"/>
<circle cx="543.5" cy="703.9" r="4.75"/>
<circle cx="565.6" cy="663.2" r="4.75"/>
<circle cx="527.6" cy="646.9" r="4.75"/>
<circle cx="528.9" cy="451.0" r="4.75"/>
<circle cx="529.4" cy="565.9" r="4.75"/>
<circle cx="546.5" cy="617.1" r="4.75"/>
<circle cx="550.6" cy="571.6" r="4.75"/>
<circle cx="552.2" cy="672.4" r="4.75"/>
<circle cx="555.9" cy="551.4" r="4.75"/>
<circle cx="538.4" cy="470.9" r="4.75"/>
<circle cx="527.8" cy="623.4" r="4.75"/>
<circle cx="559.3" cy="774.2" r="4.75"/>
<circle cx="553.8" cy="545.1" r="4.75"/>
<circle cx="532.9" cy="711.9" r="4.75"/>
<circle cx="563.5" cy="776.9" r="4.75"/>
<circle cx="531.1" cy="563.1" r="4.75"/>
<circle cx="554.2" cy="623.0" r="4.75"/>
<circle cx="560.1" cy="600.2" r="4.75"/>
<circle cx="517.3" cy="583.3" r="4.75"/>
<circle cx="542.0" cy="698.7" r="4.75"/>
<circle cx="517.0" cy="585.1" r="4.75"/>
<circle cx="520.5" cy="503.2" r="4.75"/>
<circle cx="561.3" cy="769.7" r="4.75"/>
<circle cx="531.5" cy="460.0" r="4.75"/>
<circle cx="556.6" cy="703.5" r="4.75"/>
<circle cx="544.1" cy="640.5" r="4.75"/>
<circle cx="551.4" cy="506.6" r="4.75"/>
<circle cx="529.3" cy="584.8" r="4.75"/>
<circle cx="542.2" cy="499.1" r="4.75"/>
<circle cx="531.3" cy="515.5" r="4.75"/>
<circle cx="555.3" cy="510.5" r="4.75"/>
<circle cx="530.7" cy="710.3" r="4.75"/>
<circle cx="552.3" cy="753.9" r="4.75"/>
<circle cx="529.5" cy="729.8" r="4.75"/>
<circle cx="540.3" cy="736.5" r="4.75"/>
<circle cx="525.2" cy="484.4" r="4.75"/>
<circle cx="547.6" cy="770.5" r="4.75"/>
<circle cx="527.1" cy="643.0" r="4.75"/>
<circle cx="543.9" cy="473.9" r="4.75"/>
<circle cx="546.3" cy="723.8" r="4.75"/>
<circle cx="527.1" cy="449.1" r="4.75"/>
<circle cx="529.1" cy="592.4" r="4.75"/>
<circle cx="545.3" cy="508.3" r="4.75"/>
<circle cx="542.3" cy="597.4" r="4.75"/>
<circle cx="550.4" cy="742.1" r="4.75"/>
<circle cx="532.5" cy="587.8" r="4.75"/>
<circle cx="547.4" cy="621.1" r="4.75"/>
<circle cx="539.0" cy="671.9" r="4.75"/>
<circle cx="518.8" cy="685.3" r="4.75"/>
<circle cx="507.0" cy="715.9" r="4.75"/>
<circle cx="503.8" cy="714.0" r="4.75"/>
<circle cx="526.4" cy="787.1" r="4.75"/>
<circle cx="520.5" cy="782.4" r="4.75"/>
<circle cx="515.1" cy="770.4" r="4.75"/>
<circle cx="505.1" cy="694.1" r="4.75"/>
<circle cx="509.2" cy="701.5" r="4.75"/>
<circle cx="517.0" cy="696.7" r="4.75"/>
<circle cx="516.1" cy="739.5" r="4.75"/>
<circle cx="519.2" cy="652.0" r="4.75"/>
<circle cx="528.0" cy="749.9" r="4.75"/>
<circle cx="521.3" cy="797.5" r="4.75"/>
<circle cx="521.0" cy="755.3" r="4.75"/>
<circle cx="517.1" cy="736.1" r="4.75"/>
<circle cx="510.9" cy="598.7" r="4.75"/>
<circle cx="522.5" cy="769.0" r="4.75"/>
<circle cx="528.6" cy="757.3" r="4.75"/>
<circle cx="521.3" cy="770.3" r="4.75"/>
<circle cx="515.1" cy="740.1" r="4.75"/>
<circle cx="522.9" cy="753.7" r="4.75"/>
<circle cx="526.9" cy="729.3" r="4.75"/>
<circle cx="521.4" cy="798.3" r="4.75"/>
<circle cx="525.9" cy="696.3" r="4.75"/>
<circle cx="513.7" cy="642.1" r="4.75"/>
<circle cx="510.1" cy="746.9" r="4.75"/>
<circle cx="513.6" cy="710.6" r="4.75"/>
<circle cx="503.1" cy="699.2" r="4.75"/>
<circle cx="515.6" cy="785.0" r="4.75"/>
<circle cx="513.3" cy="584.6" r="4.75"/>
<circle cx="509.4" cy="626.7" r="4.75"/>
<circle cx="504.8" cy="477.5" r="4.75"/>
<circle cx="524.3" cy="789.2" r="4.75"/>
<circle cx="507.5" cy="534.3" r="4.75"/>
<circle cx="505.7" cy="514.3" r="4.75"/>
<circle cx="512.1" cy="620.8" r="4.75"/>
<circle cx="525.1" cy="744.6" r="4.75"/>
<circle cx="524.9" cy="795.1" r="4.75"/>
<circle cx="515.7" cy="618.0" r="4.75"/>
<circle cx="514.5" cy="652.4" r="4.75"/>
<circle cx="512.6" cy="740.7" r="4.75"/>
<circle cx="516.6" cy="641.8" r="4.75"/>
<circle cx="513.9" cy="730.9" r="4.75"/>
<circle cx="501.8" cy="689.3" r="4.75"/>
<circle cx="518.0" cy="719.6" r="4.75"/>
<circle cx="523.5" cy="682.8" r="4.75"/>
<circle cx="518.8" cy="653.3" r="4.75"/>
<circle cx="515.5" cy="617.4" r="4.75"/>
<circle cx="510.1" cy="603.9" r="4.75"/>
<circle cx="519.6" cy="692.9" r="4.75"/>
<circle cx="514.7" cy="771.4" r="4.75"/>
<circle cx="507.7" cy="749.4" r="4.75"/>
<circle cx="522.8" cy="690.8" r="4.75"/>
<circle cx="515.2" cy="763.3" r="4.75"/>
<circle cx="506.5" cy="720.7" r="4.75"/>
<circle cx="519.1" cy="757.6" r="4.75"/>
<circle cx="520.6" cy="724.9" r="4.75"/>
<circle cx="518.5" cy="723.6" r="4.75"/>
<circle cx="507.1" cy="650.0" r="4.75"/>
<circle cx="501.2" cy="702.0" r="4.75"/>
<circle cx="522.7" cy="765.5" r="4.75"/>
<circle cx="506.6" cy="680.2" r="4.75"/>
<circle cx="502.1" cy="703.4" r="4.75"/>
<circle cx="506.9" cy="686.3" r="4.75"/>
<circle cx="516.8" cy="736.7" r="4.75"/>
<circle cx="510.8" cy="717.9" r="4.75"/>
<circle cx="528.9" cy="737.2" r="4.75"/>
<circle cx="512.0" cy="762.8" r="4.75"/>
<circle cx="510.2" cy="711.0" r="4.75"/>
<circle cx="521.8" cy="784.9" r="4.75"/>
<circle cx="528.5" cy="782.2" r="4.75"/>
<circle cx="517.2" cy="764.9" r="4.75"/>
<circle cx="509.5" cy="546.6" r="4.75"/>
<circle cx="525.6" cy="710.1" r="4.75"/>
<circle cx="522.6" cy="773.2" r="4.75"/>
<circle cx="503.1" cy="728.7" r="4.75"/>
<circle cx="517.5" cy="739.8" r="4.75"/>
<circle cx="500.4" cy="511.9" r="4.75"/>
<circle cx="503.1" cy="695.7" r="4.75"/>
<circle cx="507.0" cy="672.6" r="4.75"/>
<circle cx="506.0" cy="676.4" r="4.75"/>
<circle cx="522.8" cy="685.9" r="4.75"/>
<circle cx="513.3" cy="736.0" r="4.75"/>
<circle cx="508.2" cy="743.6" r="4.75"/>
<circle cx="531.1" cy="788.2" r="4.75"/>
<circle cx="509.4" cy="655.1" r="4.75"/>
<circle cx="513.7" cy="625.5" r="4.75"/>
<circle cx="502.3" cy="655.7" r="4.75"/>
<circle cx="504.9" cy="481.4" r="4.75"/>
<circle cx="511.0" cy="639.4" r="4.75"/>
<circle cx="509.9" cy="562.1" r="4.75"/>
<circle cx="517.3" cy="762.1" r="4.75"/>
<circle cx="513.0" cy="663.2" r="4.75"/>
<circle cx="517.8" cy="643.4" r="4.75"/>
<circle cx="508.5" cy="756.1" r="4.75"/>
<circle cx="503.3" cy="688.8" r="4.75"/>
<circle cx="524.8" cy="678.6" r="4.75"/>
<circle cx="512.4" cy="765.4" r="4.75"/>
<circle cx="505.0" cy="742.1" r="4.75"/>
<circle cx="520.8" cy="722.1" r="4.75"/>
<circle cx="512.5" cy="629.4" r="4.75"/>
<circle cx="517.2" cy="751.2" r="4.75"/>
<circle cx="508.5" cy="743.9" r="4.75"/>
<circle cx="511.4" cy="723.9" r="4.75"/>
<circle cx="515.6" cy="770.0" r="4.75"/>
<circle cx="507.9" cy="537.6" r="4.75"/>
<circle cx="512.3" cy="760.3" r="4.75"/>
<circle cx="516.8" cy="790.3" r="4.75"/>
<circle cx="503.4" cy="511.6" r="4.75"/>
<circle cx="515.5" cy="667.4" r="4.75"/>
<circle cx="501.2" cy="678.5" r="4.75"/>
<circle cx="509.8" cy="630.8" r="4.75"/>
<circle cx="506.6" cy="510.9" r="4.75"/>
<circle cx="519.7" cy="672.9" r="4.75"/>
<circle cx="513.1" cy="695.3" r="4.75"/>
<circle cx="517.0" cy="715.5" r="4.75"/>
<circle cx="505.7" cy="696.7" r="4.75"/>
<circle cx="508.8" cy="526.2" r="4.75"/>
<circle cx="505.7" cy="652.9" r="4.75"/>
<circle cx="515.2" cy="668.7" r="4.75"/>
<circle cx="517.6" cy="715.9" r="4.75"/>
<circle cx="504.7" cy="706.3" r="4.75"/>
<circle cx="521.5" cy="660.9" r="4.75"/>
<circle cx="520.2" cy="782.5" r="4.75"/>
<circle cx="500.3" cy="642.0" r="4.75"/>
<circle cx="512.7" cy="717.6" r="4.75"/>
<circle cx="509.8" cy="608.9" r="4.75"/>
<circle cx="516.7" cy="456.5" r="4.75"/>
<circle cx="507.0" cy="756.2" r="4.75"/>
<circle cx="506.1" cy="513.7" r="4.75"/>
<circle cx="505.1" cy="517.8" r="4.75"/>
<circle cx="511.9" cy="751.6" r="4.75"/>
<circle cx="514.0" cy="692.5" r="4.75"/>
<circle cx="504.8" cy="721.6" r="4.75"/>
<circle cx="517.8" cy="685.8" r="4.75"/>
<circle cx="512.2" cy="698.1" r="4.75"/>
<circle cx="522.4" cy="683.8" r="4.75"/>
<circle cx="526.6" cy="791.0" r="4.75"/>
<circle cx="517.0" cy="456.8" r="4.75"/>
<circle cx="506.1" cy="506.6" r="4.75"/>
<circle cx="521.3" cy="726.1" r="4.75"/>
<circle cx="517.0" cy="784.5" r="4.75"/>
<circle cx="527.3" cy="776.9" r="4.75"/>
<circle cx="515.4" cy="751.0" r="4.75"/>
<circle cx="507.7" cy="655.7" r="4.75"/>
<circle cx="522.6" cy="728.5" r="4.75"/>
<circle cx="511.6" cy="606.6" r="4.75"/>
<circle cx="511.5" cy="478.8" r="4.75"/>
<circle cx="504.3" cy="478.3" r="4.75"/>
<circle cx="512.9" cy="667.5" r="4.75"/>
<circle cx="512.1" cy="755.6" r="4.75"/>
<circle cx="527.8" cy="766.6" r="4.75"/>
<circle cx="518.3" cy="742.5" r="4.75"/>
<circle cx="517.6" cy="704.0" r="4.75"/>
<circle cx="507.4" cy="721.7" r="4.75"/>
<circle cx="522.9" cy="708.3" r="4.75"/>
<circle cx="505.4" cy="541.5" r="4.75"/>
<circle cx="515.4" cy="662.6" r="4.75"/>
<circle cx="521.3" cy="771.9" r="4.75"/>
<circle cx="512.3" cy="657.4" r="4.75"/>
<circle cx="525.4" cy="698.9" r="4.75"/>
<circle cx="512.2" cy="640.3" r="4.75"/>
<circle cx="513.4" cy="690.5" r="4.75"/>
<circle cx="504.3" cy="732.7" r="4.75"/>
<circle cx="504.8" cy="663.0" r="4.75"/>
<circle cx="518.5" cy="672.6" r="4.75"/>
<circle cx="499.9" cy="708.2" r="4.75"/>
<circle cx="501.3" cy="523.4" r="4.75"/>
<circle cx="508.3" cy="631.9" r="4.75"/>
<circle cx="507.3" cy="682.2" r="4.75"/>
<circle cx="511.3" cy="466.9" r="4.75"/>
<circle cx="524.7" cy="703.1" r="4.75"/>
<circle cx="527.1" cy="792.7" r="4.75"/>
<circle cx="518.3" cy="628.2" r="4.75"/>
<circle cx="511.2" cy="641.0" r="4.75"/>
<circle cx="520.2" cy="772.5" r="4.75"/>
<circle cx="523.9" cy="720.2" r="4.75"/>
<circle cx="516.1" cy="665.0" r="4.75"/>
<circle cx="508.7" cy="532.1" r="4.75"/>
<circle cx="523.1" cy="691.4" r="4.75"/>
<circle cx="518.2" cy="703.7" r="4.75"/>
<circle cx="502.2" cy="502.1" r="4.75"/>
<circle cx="502.5" cy="690.5" r="4.75"/>
<circle cx="507.2" cy="629.1" r="4.75"/>
<circle cx="503.3" cy="631.7" r="4.75"/>
<circle cx="520.5" cy="769.4" r="4.75"/>
<circle cx="508.9" cy="712.4" r="4.75"/>
<circle cx="522.2" cy="681.3" r="4.75"/>
<circle cx="521.8" cy="672.9" r="4.75"/>
<circle cx="515.8" cy="771.0" r="4.75"/>
<circle cx="513.6" cy="767.8" r="4.75"/>
<circle cx="513.3" cy="633.8" r="4.75"/>
<circle cx="524.6" cy="775.6" r="4.75"/>
<circle cx="520.2" cy="645.4" r="4.75"/>
<circle cx="521.3" cy="669.1" r="4.75"/>
<circle cx="521.6" cy="650.4" r="4.75"/>
<circle cx="512.1" cy="593.2" r="4.75"/>
<circle cx="503.5" cy="520.2" r="4.75"/>
<circle cx="507.1" cy="551.8" r="4.75"/>
<circle cx="500.6" cy="674.1" r="4.75"/>
<circle cx="592.5" cy="754.5" r="4.75"/>
<circle cx="575.3" cy="694.4" r="4.75"/>
<circle cx="578.6" cy="793.5" r="4.75"/>
<circle cx="602.2" cy="515.7" r="4.75"/>
<circle cx="591.8" cy="781.1" r="4.75"/>
<circle cx="590.5" cy="672.9" r="4.75"/>
<circle cx="605.9" cy="593.9" r="4.75"/>
<circle cx="586.0" cy="711.0" r="4.75"/>
<circle cx="586.8" cy="603.4" r="4.75"/>
<circle cx="592.7" cy="569.3" r="4.75"/>
<circle cx="585.7" cy="795.1" r="4.75"/>
<circle cx="595.3" cy="594.8" r="4.75"/>
<circle cx="591.2" cy="711.9" r="4.75"/>
<circle cx="581.6" cy="718.6" r="4.75"/>
<circle cx="594.8" cy="798.3" r="4.75"/>
<circle cx="585.7" cy="655.5" r="4.75"/>
<circle cx="580.2" cy="790.4" r="4.75"/>
<circle cx="597.8" cy="698.6" r="4.75"/>
<circle cx="580.4" cy="745.2" r="4.75"/>
<circle cx="602.5" cy="550.3" r="4.75"/>
<circle cx="578.6" cy="761.8" r="4.75"/>
<circle cx="592.3" cy="730.0" r="4.75"/>
<circle cx="598.1" cy="693.4" r="4.75"/>
<circle cx="584.6" cy="688.1" r="4.75"/>
<circle cx="594.8" cy="788.1" r="4.75"/>
<circle cx="589.4" cy="701.4" r="4.75"/>
<circle cx="591.4" cy="640.3" r="4.75"/>
<circle cx="592.4" cy="630.3" r="4.75"/>
<circle cx="591.5" cy="724.1" r="4.75"/>
<circle cx="600.7" cy="600.4" r="4.75"/>
<circle cx="586.0" cy="771.8" r="4.75"/>
<circle cx="580.0" cy="794.6" r="4.75"/>
<circle cx="591.3" cy="676.2" r="4.75"/>
<circle cx="594.6" cy="721.8" r="4.75"/>
<circle cx="600.9" cy="761.5" r="4.75"/>
<circle cx="594.6" cy="531.5" r="4.75"/>
<circle cx="598.3" cy="632.4" r="4.75"/>
<circle cx="591.5" cy="729.3" r="4.75"/>
<circle cx="595.2" cy="799.3" r="4.75"/>
<circle cx="574.6" cy="718.6" r="4.75"/>
<circle cx="577.4" cy="671.9" r="4.75"/>
<circle cx="602.3" cy="605.6" r="4.75"/>
<circle cx="604.7" cy="692.9" r="4.75"/>
<circle cx="604.7" cy="693.9" r="4.75"/>
<circle cx="594.7" cy="671.2" r="4.75"/>
<circle cx="605.2" cy="514.7" r="4.75"/>
<circle cx="590.0" cy="577.7" r="4.75"/>
<circle cx="601.4" cy="552.1" r="4.75"/>
<circle cx="594.4" cy="759.0" r="4.75"/>
<circle cx="588.7" cy="689.9" r="4.75"/>
<circle cx="581.0" cy="776.6" r="4.75"/>
<circle cx="593.5" cy="799.6" r="4.75"/>
<circle cx="590.7" cy="681.6" r="4.75"/>
<circle cx="596.9" cy="696.5" r="4.75"/>
<circle cx="593.7" cy="689.1" r="4.75"/>
<circle cx="582.8" cy="721.5" r="4.75"/>
<circle cx="599.5" cy="686.1" r="4.75"/>
<circle cx="585.8" cy="615.3" r="4.75"/>
<circle cx="592.6" cy="762.9" r="4.75"/>
<circle cx="592.6" cy="794.4" r="4.75"/>
<circle cx="593.7" cy="521.8" r="4.75"/>
<circle cx="594.6" cy="519.1" r="4.75"/>
<circle cx="586.0" cy="797.3" r="4.75"/>
<circle cx="603.2" cy="624.2" r="4.75"/>
<circle cx="602.9" cy="610.9" r="4.75"/>
<circle cx="600.0" cy="706.9" r="4.75"/>
<circle cx="579.2" cy="736.9" r="4.75"/>
<circle cx="595.2" cy="542.8" r="4.75"/>
<circle cx="588.3" cy="597.2" r="4.75"/>
<circle cx="590.4" cy="578.0" r="4.75"/>
<circle cx="596.3" cy="597.1" r="4.75"/>
<circle cx="584.5" cy="695.3" r="4.75"/>
<circle cx="598.6" cy="630.8" r="4.75"/>
<circle cx="607.0" cy="555.9" r="4.75"/>
<circle cx="581.9" cy="739.0" r="4.75"/>
<circle cx="588.0" cy="555.1" r="4.75"/>
<circle cx="600.8" cy="534.6" r="4.75"/>
<circle cx="603.7" cy="606.2" r="4.75"/>
<circle cx="599.8" cy="623.0" r="4.75"/>
<circle cx="592.3" cy="595.9" r="4.75"/>
<circle cx="602.7" cy="617.1" r="4.75"/>
<circle cx="577.8" cy="781.0" r="4.75"/>
<circle cx="600.9" cy="603.4" r="4.75"/>
<circle cx="588.7" cy="631.4" r="4.75"/>
<circle cx="580.0" cy="740.4" r="4.75"/>
<circle cx="599.7" cy="741.3" r="4.75"/>
<circle cx="597.1" cy="540.5" r="4.75"/>
<circle cx="599.8" cy="609.8" r="4.75"/>
<circle cx="605.0" cy="616.5" r="4.75"/>
<circle cx="584.8" cy="544.3" r="4.75"/>
<circle cx="587.0" cy="539.7" r="4.75"/>
<circle cx="574.4" cy="697.5" r="4.75"/>
<circle cx="601.1" cy="626.4" r="4.75"/>
<circle cx="605.9" cy="656.1" r="4.75"/>
<circle cx="590.4" cy="651.1" r="4.75"/>
<circle cx="604.2" cy="659.7" r="4.75"/>
<circle cx="587.8" cy="597.0" r="4.75"/>
<circle cx="591.1" cy="684.0" r="4.75"/>
<circle cx="589.0" cy="771.4" r="4.75"/>
<circle cx="585.4" cy="693.5" r="4.75"/>
<circle cx="574.9" cy="686.7" r="4.75"/>
<circle cx="593.5" cy="749.1" r="4.75"/>
<circle cx="599.5" cy="568.5" r="4.75"/>
<circle cx="576.4" cy="726.4" r="4.75"/>
<circle cx="582.1" cy="742.9" r="4.75"/>
<circle cx="592.8" cy="748.5" r="4.75"/>
<circle cx="604.3" cy="545.0" r="4.75"/>
<circle cx="591.2" cy="634.2" r="4.75"/>
<circle cx="605.9" cy="566.6" r="4.75"/>
<circle cx="596.1" cy="558.8" r="4.75"/>
<circle cx="589.4" cy="615.0" r="4.75"/>
<circle cx="580.2" cy="725.6" r="4.75"/>
<circle cx="588.9" cy="721.2" r="4.75"/>
<circle cx="603.8" cy="546.1" r="4.75"/>
<circle cx="589.4" cy="521.7" r="4.75"/>
<circle cx="592.9" cy="539.7" r="4.75"/>
<circle cx="606.0" cy="646.6" r="4.75"/>
<circle cx="594.0" cy="743.9" r="4.75"/>
<circle cx="603.1" cy="690.4" r="4.75"/>
<circle cx="592.5" cy="517.7" r="4.75"/>
<circle cx="587.4" cy="796.8" r="4.75"/>
<circle cx="580.0" cy="750.3" r="4.75"/>
<circle cx="595.8" cy="706.6" r="4.75"/>
<circle cx="590.2" cy="627.5" r="4.75"/>
<circle cx="600.4" cy="720.6" r="4.75"/>
<circle cx="588.9" cy="585.1" r="4.75"/>
<circle cx="576.8" cy="660.9" r="4.75"/>
<circle cx="587.2" cy="797.8" r="4.75"/>
<circle cx="584.0" cy="761.1" r="4.75"/>
<circle cx="579.1" cy="669.4" r="4.75"/>
<circle cx="586.1" cy="520.3" r="4.75"/>
<circle cx="577.3" cy="676.1" r="4.75"/>
<circle cx="603.5" cy="520.6" r="4.75"/>
<circle cx="580.6" cy="747.1" r="4.75"/>
<circle cx="595.9" cy="709.7" r="4.75"/>
<circle cx="592.3" cy="582.1" r="4.75"/>
<circle cx="590.8" cy="525.0" r="4.75"/>
<circle cx="603.1" cy="514.0" r="4.75"/>
<circle cx="575.4" cy="666.8" r="4.75"/>
<circle cx="599.8" cy="632.8" r="4.75"/>
<circle cx="597.0" cy="586.6" r="4.75"/>
<circle cx="606.6" cy="533.9" r="4.75"/>
<circle cx="595.0" cy="571.7" r="4.75"/>
<circle cx="587.9" cy="598.1" r="4.75"/>
<circle cx="574.1" cy="790.8" r="4.75"/>
<circle cx="597.6" cy="742.2" r="4.75"/>
<circle cx="574.0" cy="709.6" r="4.75"/>
<circle cx="596.4" cy="566.1" r="4.75"/>
<circle cx="576.6" cy="710.8" r="4.75"/>
<circle cx="588.1" cy="614.9" r="4.75"/>
<circle cx="580.8" cy="727.9" r="4.75"/>
<circle cx="574.2" cy="705.2" r="4.75"/>
<circle cx="580.5" cy="655.9" r="4.75"/>
<circle cx="584.3" cy="577.3" r="4.75"/>
<circle cx="599.6" cy="580.7" r="4.75"/>
<circle cx="595.4" cy="682.0" r="4.75"/>
<circle cx="605.1" cy="565.2" r="4.75"/>
<circle cx="578.0" cy="725.3" r="4.75"/>
<circle cx="586.3" cy="738.4" r="4.75"/>
<circle cx="584.2" cy="538.2" r="4.75"/>
<circle cx="600.7" cy="711.7" r="4.75"/>
<circle cx="581.6" cy="708.8" r="4.75"/>
<circle cx="586.7" cy="784.8" r="4.75"/>
<circle cx="602.7" cy="544.3" r="4.75"/>
<circle cx="592.8" cy="559.7" r="4.75"/>
<circle cx="599.0" cy="732.8" r="4.75"/>
<circle cx="601.6" cy="651.9" r="4.75"/>
<circle cx="586.3" cy="550.4" r="4.75"/>
<circle cx="600.0" cy="763.9" r="4.75"/>
<circle cx="588.3" cy="620.0" r="4.75"/>
<circle cx="596.1" cy="788.3" r="4.75"/>
<circle cx="578.2" cy="745.8" r="4.75"/>
<circle cx="601.0" cy="714.1" r="4.75"/>
<circle cx="601.1" cy="679.0" r="4.75"/>
<circle cx="602.1" cy="681.2" r="4.75"/>
<circle cx="575.7" cy="690.0" r="4.75"/>
<circle cx="607.2" cy="617.6" r="4.75"/>
<circle cx="593.9" cy="585.8" r="4.75"/>
<circle cx="604.7" cy="514.1" r="4.75"/>
<circle cx="584.1" cy="745.6" r="4.75"/>
<circle cx="584.4" cy="567.8" r="4.75"/>
<circle cx="599.0" cy="760.7" r="4.75"/>
<circle cx="581.8" cy="758.6" r="4.75"/>
<circle cx="603.1" cy="627.1" r="4.75"/>
<circle cx="587.5" cy="765.6" r="4.75"/>
<circle cx="583.4" cy="708.9" r="4.75"/>
<circle cx="606.2" cy="675.9" r="4.75"/>
<circle cx="582.5" cy="669.1" r="4.75"/>
<circle cx="593.4" cy="650.5" r="4.75"/>
<circle cx="602.4" cy="512.9" r="4.75"/>
<circle cx="597.3" cy="594.5" r="4.75"/>
<circle cx="584.4" cy="526.3" r="4.75"/>
<circle cx="593.3" cy="569.0" r="4.75"/>
<circle cx="578.9" cy="666.1" r="4.75"/>
<circle cx="586.9" cy="604.4" r="4.75"/>
<circle cx="582.5" cy="636.8" r="4.75"/>
<circle cx="599.3" cy="790.2" r="4.75"/>
<circle cx="591.4" cy="606.0" r="4.75"/>
<circle cx="580.3" cy="724.8" r="4.75"/>
<circle cx="594.0" cy="654.0" r="4.75"/>
<circle cx="584.0" cy="781.9" r="4.75"/>
<circle cx="588.6" cy="680.9" r="4.75"/>
<circle cx="599.4" cy="544.7" r="4.75"/>
<circle cx="580.3" cy="757.1" r="4.75"/>
<circle cx="582.8" cy="726.3" r="4.75"/>
<circle cx="589.3" cy="605.1" r="4.75"/>
<circle cx="582.0" cy="783.9" r="4.75"/>
<circle cx="595.7" cy="573.7" r="4.75"/>
<circle cx="588.0" cy="547.6" r="4.75"/>
<circle cx="574.2" cy="665.5" r="4.75"/>
<circle cx="587.8" cy="612.6" r="4.75"/>
<circle cx="603.1" cy="705.7" r="4.75"/>
<circle cx="588.0" cy="721.4" r="4.75"/>
<circle cx="597.9" cy="521.8" r="4.75"/>
<circle cx="597.2" cy="623.1" r="4.75"/>
<circle cx="575.3" cy="653.8" r="4.75"/>
<circle cx="599.5" cy="557.3" r="4.75"/>
<circle cx="598.2" cy="771.6" r="4.75"/>
<circle cx="581.6" cy="777.4" r="4.75"/>
<circle cx="597.1" cy="561.1" r="4.75"/>
<circle cx="588.5" cy="700.4" r="4.75"/>
<circle cx="584.5" cy="535.5" r="4.75"/>
<circle cx="600.0" cy="717.7" r="4.75"/>
<circle cx="581.1" cy="664.2" r="4.75"/>
<circle cx="603.1" cy="703.7" r="4.75"/>
<circle cx="600.3" cy="696.0" r="4.75"/>
<circle cx="587.6" cy="586.7" r="4.75"/>
<circle cx="577.2" cy="711.9" r="4.75"/>
<circle cx="585.6" cy="521.4" r="4.75"/>
<circle cx="586.2" cy="769.2" r="4.75"/>
<circle cx="595.6" cy="634.2" r="4.75"/>
<circle cx="575.9" cy="727.6" r="4.75"/>
<circle cx="593.1" cy="558.3" r="4.75"/>
<circle cx="596.3" cy="738.5" r="4.75"/>
<circle cx="580.9" cy="782.6" r="4.75"/>
<circle cx="593.2" cy="798.4" r="4.75"/>
<circle cx="582.5" cy="694.3" r="4.75"/>
<circle cx="591.8" cy="558.3" r="4.75"/>
<circle cx="594.3" cy="673.2" r="4.75"/>
<circle cx="594.1" cy="704.2" r="4.75"/>
<circle cx="598.2" cy="797.8" r="4.75"/>
<circle cx="583.7" cy="731.3" r="4.75"/>
<circle cx="596.7" cy="526.5" r="4.75"/>
<circle cx="589.5" cy="575.0" r="4.75"/>
<circle cx="598.8" cy="586.4" r="4.75"/>
<circle cx="592.8" cy="674.8" r="4.75"/>
<circle cx="593.6" cy="773.3" r="4.75"/>
<circle cx="577.6" cy="714.0" r="4.75"/>
<circle cx="590.4" cy="544.7" r="4.75"/>
<circle cx="605.7" cy="612.2" r="4.75"/>
<circle cx="595.0" cy="590.8" r="4.75"/>
<circle cx="578.0" cy="751.8" r="4.75"/>
<circle cx="577.3" cy="719.6" r="4.75"/>
<circle cx="607.1" cy="578.9" r="4.75"/>
<circle cx="577.5" cy="798.9" r="4.75"/>
<circle cx="575.4" cy="799.7" r="4.75"/>
<circle cx="594.4" cy="535.1" r="4.75"/>
<circle cx="583.2" cy="752.8" r="4.75"/>
<circle cx="600.8" cy="582.9" r="4.75"/>
<circle cx="581.5" cy="704.3" r="4.75"/>
<circle cx="588.7" cy="772.2" r="4.75"/>
<circle cx="601.7" cy="649.9" r="4.75"/>
<circle cx="590.1" cy="657.9" r="4.75"/>
<circle cx="607.1" cy="633.1" r="4.75"/>
<circle cx="588.7" cy="557.8" r="4.75"/>
<circle cx="597.0" cy="737.3" r="4.75"/>
<circle cx="586.9" cy="750.0" r="4.75"/>
<circle cx="596.9" cy="727.9" r="4.75"/>
<circle cx="593.5" cy="666.9" r="4.75"/>
<circle cx="592.6" cy="522.9" r="4.75"/>
<circle cx="593.1" cy="760.7" r="4.75"/>
<circle cx="591.6" cy="626.4" r="4.75"/>
<circle cx="597.3" cy="556.5" r="4.75"/>
<circle cx="594.8" cy="656.1" r="4.75"/>
<circle cx="600.6" cy="695.2" r="4.75"/>
<circle cx="597.3" cy="594.5" r="4.75"/>
<circle cx="605.1" cy="615.4" r="4.75"/>
<circle cx="595.0" cy="608.1" r="4.75"/>
<circle cx="602.9" cy="722.3" r="4.75"/>
<circle cx="593.6" cy="780.3" r="4.75"/>
<circle cx="605.0" cy="617.6" r="4.75"/>
<circle cx="577.6" cy="732.1" r="4.75"/>
<circle cx="586.7" cy="759.0" r="4.75"/>
<circle cx="604.2" cy="697.6" r="4.75"/>
<circle cx="606.8" cy="553.8" r="4.75"/>
<circle cx="589.6" cy="676.3" r="4.75"/>
<circle cx="600.6" cy="680.8" r="4.75"/>
<circle cx="580.8" cy="762.7" r="4.75"/>
<circle cx="591.3" cy="697.2" r="4.75"/>
<circle cx="574.4" cy="795.8" r="4.75"/>
<circle cx="574.9" cy="796.1" r="4.75"/>
<circle cx="595.3" cy="646.9" r="4.75"/>
<circle cx="595.9" cy="648.8" r="4.75"/>
<circle cx="584.9" cy="736.4" r="4.75"/>
<circle cx="584.9" cy="612.7" r="4.75"/>
<circle cx="606.1" cy="672.9" r="4.75"/>
<circle cx="585.3" cy="580.7" r="4.75"/>
<circle cx="580.8" cy="726.8" r="4.75"/>
<circle cx="606.6" cy="623.0" r="4.75"/>
<circle cx="591.2" cy="605.2" r="4.75"/>
<circle cx="585.9" cy="652.3" r="4.75"/>
<circle cx="606.2" cy="661.8" r="4.75"/>
<circle cx="591.6" cy="651.6" r="4.75"/>
<circle cx="591.2" cy="769.1" r="4.75"/>
<circle cx="596.1" cy="724.1" r="4.75"/>
<circle cx="598.0" cy="753.5" r="4.75"/>
<circle cx="588.1" cy="688.2" r="4.75"/>
<circle cx="583.0" cy="763.4" r="4.75"/>
<circle cx="601.9" cy="648.8" r="4.75"/>
<circle cx="596.0" cy="787.9" r="4.75"/>
<circle cx="584.8" cy="678.0" r="4.75"/>
<circle cx="603.8" cy="659.9" r="4.75"/>
<circle cx="576.1" cy="724.6" r="4.75"/>
<circle cx="602.1" cy="522.9" r="4.75"/>
<circle cx="586.7" cy="754.6" r="4.75"/>
<circle cx="602.2" cy="592.2" r="4.75"/>
<circle cx="574.5" cy="756.9" r="4.75"/>
<circle cx="596.2" cy="775.7" r="4.75"/>
<circle cx="597.5" cy="730.0" r="4.75"/>
<circle cx="595.0" cy="706.8" r="4.75"/>
<circle cx="595.1" cy="546.1" r="4.75"/>
<circle cx="582.4" cy="720.9" r="4.75"/>
<circle cx="605.8" cy="557.8" r="4.75"/>
<circle cx="593.1" cy="766.0" r="4.75"/>
<circle cx="579.4" cy="786.4" r="4.75"/>
<circle cx="590.4" cy="527.2" r="4.75"/>
<circle cx="591.6" cy="614.0" r="4.75"/>
<circle cx="587.6" cy="770.9" r="4.75"/>
<circle cx="592.6" cy="613.8" r="4.75"/>
<circle cx="590.8" cy="709.4" r="4.75"/>
<circle cx="589.7" cy="538.0" r="4.75"/>
<circle cx="592.8" cy="528.6" r="4.75"/>
<circle cx="585.8" cy="728.7" r="4.75"/>
<circle cx="593.6" cy="564.5" r="4.75"/>
<circle cx="598.9" cy="531.8" r="4.75"/>
<circle cx="578.1" cy="692.3" r="4.75"/>
<circle cx="594.9" cy="593.8" r="4.75"/>
<circle cx="579.1" cy="755.5" r="4.75"/>
<circle cx="595.0" cy="648.9" r="4.75"/>
<circle cx="595.0" cy="554.2" r="4.75"/>
<circle cx="593.0" cy="761.0" r="4.75"/>
<circle cx="587.8" cy="667.0" r="4.75"/>
<circle cx="588.0" cy="547.1" r="4.75"/>
<circle cx="592.6" cy="535.9" r="4.75"/>
<circle cx="582.4" cy="685.5" r="4.75"/>
<circle cx="599.4" cy="637.0" r="4.75"/>
<circle cx="597.7" cy="694.5" r="4.75"/>
<circle cx="598.5" cy="663.2" r="4.75"/>
<circle cx="599.6" cy="707.7" r="4.75"/>
<circle cx="585.3" cy="643.9" r="4.75"/>
<circle cx="583.9" cy="742.6" r="4.75"/>
<circle cx="601.3" cy="602.4" r="4.75"/>
<circle cx="600.6" cy="587.2" r="4.75"/>
<circle cx="585.9" cy="567.9" r="4.75"/>
<circle cx="592.1" cy="601.0" r="4.75"/>
<circle cx="604.2" cy="549.7" r="4.75"/>
<circle cx="604.5" cy="574.8" r="4.75"/>
<circle cx="581.4" cy="710.2" r="4.75"/>
<circle cx="597.1" cy="554.0" r="4.75"/>
<circle cx="594.4" cy="617.9" r="4.75"/>
<circle cx="594.7" cy="633.7" r="4.75"/>
<circle cx="590.6" cy="540.8" r="4.75"/>
<circle cx="577.0" cy="756.8" r="4.75"/>
<circle cx="578.8" cy="752.8" r="4.75"/>
<circle cx="584.4" cy="708.7" r="4.75"/>
<circle cx="588.0" cy="653.0" r="4.75"/>
<circle cx="579.3" cy="739.6" r="4.75"/>
<circle cx="574.5" cy="763.0" r="4.75"/>
<circle cx="600.7" cy="584.0" r="4.75"/>
<circle cx="580.8" cy="749.0" r="4.75"/>
<circle cx="588.7" cy="574.6" r="4.75"/>
<circle cx="592.4" cy="779.2" r="4.75"/>
<circle cx="603.5" cy="668.1" r="4.75"/>
<circle cx="592.7" cy="722.9" r="4.75"/>
<circle cx="585.5" cy="523.2" r="4.75"/>
<circle cx="591.6" cy="543.9" r="4.75"/>
<circle cx="583.7" cy="601.4" r="4.75"/>
<circle cx="592.2" cy="524.7" r="4.75"/>
<circle cx="598.1" cy="517.6" r="4.75"/>
<circle cx="578.2" cy="730.5" r="4.75"/>
<circle cx="590.2" cy="716.1" r="4.75"/>
<circle cx="586.0" cy="777.5" r="4.75"/>
<circle cx="584.2" cy="682.3" r="4.75"/>
<circle cx="593.3" cy="589.3" r="4.75"/>
<circle cx="583.7" cy="787.8" r="4.75"/>
<circle cx="598.7" cy="676.1" r="4.75"/>
<circle cx="584.9" cy="542.0" r="4.75"/>
<circle cx="582.8" cy="766.3" r="4.75"/>
<circle cx="593.8" cy="538.5" r="4.75"/>
<circle cx="584.9" cy="580.3" r="4.75"/>
<circle cx="600.1" cy="749.7" r="4.75"/>
<circle cx="595.3" cy="637.8" r="4.75"/>
<circle cx="603.0" cy="628.9" r="4.75"/>
<circle cx="578.9" cy="699.7" r="4.75"/>
<circle cx="602.1" cy="638.0" r="4.75"/>
<circle cx="590.4" cy="695.8" r="4.75"/>
<circle cx="592.2" cy="776.7" r="4.75"/>
<circle cx="597.1" cy="755.8" r="4.75"/>
<circle cx="594.8" cy="530.4" r="4.75"/>
<circle cx="594.1" cy="767.1" r="4.75"/>
<circle cx="604.4" cy="683.3" r="4.75"/>
<circle cx="583.1" cy="682.2" r="4.75"/>
<circle cx="582.3" cy="662.0" r="4.75"/>
<circle cx="590.8" cy="781.3" r="4.75"/>
<circle cx="604.7" cy="526.2" r="4.75"/>
<circle cx="601.9" cy="685.4" r="4.75"/>
<circle cx="594.4" cy="641.0" r="4.75"/>
<circle cx="581.0" cy="705.2" r="4.75"/>
<circle cx="586.5" cy="583.5" r="4.75"/>
<circle cx="585.1" cy="755.2" r="4.75"/>
<circle cx="579.0" cy="762.6" r="4.75"/>
<circle cx="594.4" cy="649.7" r="4.75"/>
<circle cx="579.6" cy="799.3" r="4.75"/>
<circle cx="602.2" cy="690.8" r="4.75"/>
<circle cx="592.1" cy="688.4" r="4.75"/>
<circle cx="587.3" cy="520.0" r="4.75"/>
<circle cx="577.5" cy="730.6" r="4.75"/>
<circle cx="592.8" cy="753.9" r="4.75"/>
<circle cx="604.1" cy="680.2" r="4.75"/>
<circle cx="596.4" cy="575.3" r="4.75"/>
<circle cx="577.5" cy="723.5" r="4.75"/>
<circle cx="603.7" cy="574.1" r="4.75"/>
<circle cx="602.8" cy="633.3" r="4.75"/>
<circle cx="593.9" cy="766.2" r="4.75"/>
<circle cx="602.1" cy="712.6" r="4.75"/>
<circle cx="583.0" cy="678.2" r="4.75"/>
<circle cx="605.9" cy="563.3" r="4.75"/>
<circle cx="587.8" cy="570.9" r="4.75"/>
<circle cx="577.2" cy="725.5" r="4.75"/>
<circle cx="589.6" cy="648.5" r="4.75"/>
<circle cx="587.7" cy="791.1" r="4.75"/>
<circle cx="593.5" cy="549.9" r="4.75"/>
<circle cx="597.3" cy="582.3" r="4.75"/>
<circle cx="592.7" cy="554.8" r="4.75"/>
<circle cx="597.1" cy="574.2" r="4.75"/>
<circle cx="593.1" cy="543.8" r="4.75"/>
<circle cx="581.1" cy="639.5" r="4.75"/>
<circle cx="598.2" cy="647.5" r="4.75"/>
<circle cx="604.3" cy="672.4" r="4.75"/>
<circle cx="576.2" cy="746.6" r="4.75"/>
<circle cx="590.8" cy="625.8" r="4.75"/>
<circle cx="594.2" cy="780.9" r="4.75"/>
<circle cx="580.7" cy="786.6" r="4.75"/>
<circle cx="598.4" cy="551.4" r="4.75"/>
<circle cx="604.0" cy="598.2" r="4.75"/>
<circle cx="601.3" cy="715.2" r="4.75"/>
<circle cx="585.4" cy="713.3" r="4.75"/>
<circle cx="591.1" cy="668.0" r="4.75"/>
<circle cx="589.8" cy="695.3" r="4.75"/>
<circle cx="593.1" cy="554.9" r="4.75"/>
<circle cx="598.0" cy="742.1" r="4.75"/>
<circle cx="591.8" cy="759.7" r="4.75"/>
<circle cx="596.5" cy="746.1" r="4.75"/>
<circle cx="595.4" cy="766.5" r="4.75"/>
<circle cx="584.7" cy="582.9" r="4.75"/>
<circle cx="595.5" cy="696.1" r="4.75"/>
<circle cx="592.7" cy="582.8" r="4.75"/>
<circle cx="599.5" cy="700.4" r="4.75"/>
<circle cx="589.7" cy="672.1" r="4.75"/>
<circle cx="584.0" cy="624.0" r="4.75"/>
<circle cx="606.9" cy="552.7" r="4.75"/>
<circle cx="590.7" cy="687.3" r="4.75"/>
<circle cx="591.0" cy="643.8" r="4.75"/>
<circle cx="577.4" cy="741.8" r="4.75"/>
<circle cx="587.5" cy="561.0" r="4.75"/>
<circle cx="579.9" cy="648.1" r="4.75"/>
<circle cx="592.9" cy="637.3" r="4.75"/>
<circle cx="584.7" cy="654.3" r="4.75"/>
<circle cx="590.4" cy="524.1" r="4.75"/>
<circle cx="598.0" cy="745.2" r="4.75"/>
<circle cx="560.9" cy="801.5" r="4.75"/>
<circle cx="591.9" cy="802.7" r="4.75"/>
<circle cx="552.0" cy="853.6" r="4.75"/>
<circle cx="566.4" cy="824.0" r="4.75"/>
<circle cx="575.0" cy="815.3" r="4.75"/>
<circle cx="585.0" cy="803.1" r="4.75"/>
<circle cx="595.5" cy="837.2" r="4.75"/>
<circle cx="595.4" cy="834.7" r="4.75"/>
<circle cx="568.5" cy="818.0" r="4.75"/>
<circle cx="576.3" cy="823.9" r="4.75"/>
<circle cx="592.8" cy="829.3" r="4.75"/>
<circle cx="595.2" cy="850.5" r="4.75"/>
<circle cx="559.4" cy="859.3" r="4.75"/>
<circle cx="549.6" cy="844.6" r="4.75"/>
<circle cx="564.0" cy="822.6" r="4.75"/>
<circle cx="587.7" cy="801.6" r="4.75"/>
<circle cx="556.4" cy="818.8" r="4.75"/>
<circle cx="593.0" cy="839.6" r="4.75"/>
<circle cx="588.0" cy="801.8" r="4.75"/>
<circle cx="566.4" cy="873.2" r="4.75"/>
<circle cx="576.3" cy="867.8" r="4.75"/>
<circle cx="572.7" cy="846.9" r="4.75"/>
<circle cx="589.1" cy="871.4" r="4.75"/>
<circle cx="552.0" cy="852.7" r="4.75"/>
<circle cx="568.0" cy="861.1" r="4.75"/>
<circle cx="552.7" cy="839.8" r="4.75"/>
<circle cx="590.0" cy="809.8" r="4.75"/>
<circle cx="590.3" cy="816.2" r="4.75"/>
<circle cx="577.9" cy="805.7" r="4.75"/>
<circle cx="552.9" cy="852.3" r="4.75"/>
<circle cx="546.3" cy="804.4" r="4.75"/>
<circle cx="588.1" cy="823.7" r="4.75"/>
<circle cx="564.5" cy="864.5" r="4.75"/>
<circle cx="580.5" cy="817.4" r="4.75"/>
<circle cx="568.2" cy="888.7" r="4.75"/>
<circle cx="556.1" cy="853.6" r="4.75"/>
<circle cx="562.3" cy="802.4" r="4.75"/>
<circle cx="570.0" cy="827.1" r="4.75"/>
<circle cx="576.4" cy="882.7" r="4.75"/>
<circle cx="556.8" cy="830.8" r="4.75"/>
<circle cx="578.8" cy="846.8" r="4.75"/>
<circle cx="588.3" cy="823.1" r="4.75"/>
<circle cx="553.4" cy="853.5" r="4.75"/>
<circle cx="571.6" cy="822.7" r="4.75"/>
<circle cx="538.0" cy="805.6" r="4.75"/>
<circle cx="558.0" cy="832.2" r="4.75"/>
<circle cx="562.9" cy="841.9" r="4.75"/>
<circle cx="556.4" cy="817.9" r="4.75"/>
<circle cx="549.5" cy="845.3" r="4.75"/>
<circle cx="595.0" cy="827.0" r="4.75"/>
<circle cx="555.5" cy="821.9" r="4.75"/>
<circle cx="591.8" cy="865.4" r="4.75"/>
<circle cx="597.3" cy="812.8" r="4.75"/>
<circle cx="573.9" cy="890.1" r="4.75"/>
<circle cx="564.1" cy="867.5" r="4.75"/>
<circle cx="584.0" cy="861.8" r="4.75"/>
<circle cx="570.8" cy="859.0" r="4.75"/>
<circle cx="590.6" cy="819.0" r="4.75"/>
<circle cx="578.1" cy="829.3" r="4.75"/>
<circle cx="543.9" cy="803.9" r="4.75"/>
<circle cx="583.5" cy="848.1" r="4.75"/>
<circle cx="572.9" cy="853.1" r="4.75"/>
<circle cx="593.6" cy="827.7" r="4.75"/>
<circle cx="578.7" cy="829.3" r="4.75"/>
<circle cx="547.6" cy="839.2" r="4.75"/>
<circle cx="572.5" cy="883.9" r="4.75"/>
<circle cx="572.5" cy="813.3" r="4.75"/>
<circle cx="539.5" cy="805.0" r="4.75"/>
<circle cx="586.1" cy="849.6" r="4.75"/>
<circle cx="561.6" cy="858.4" r="4.75"/>
<circle cx="590.9" cy="801.9" r="4.75"/>
<circle cx="575.5" cy="855.3" r="4.75"/>
<circle cx="590.1" cy="854.9" r="4.75"/>
<circle cx="591.0" cy="831.8" r="4.75"/>
<circle cx="546.3" cy="856.1" r="4.75"/>
<circle cx="591.1" cy="855.2" r="4.75"/>
<circle cx="588.8" cy="865.5" r="4.75"/>
<circle cx="574.2" cy="864.3" r="4.75"/>
<circle cx="543.3" cy="830.5" r="4.75"/>
<circle cx="572.9" cy="820.3" r="4.75"/>
<circle cx="552.8" cy="804.3" r="4.75"/>
<circle cx="537.7" cy="810.9" r="4.75"/>
<circle cx="578.4" cy="851.1" r="4.75"/>
<circle cx="576.7" cy="807.9" r="4.75"/>
<circle cx="584.7" cy="816.9" r="4.75"/>
<circle cx="563.7" cy="811.3" r="4.75"/>
<circle cx="579.9" cy="819.3" r="4.75"/>
<circle cx="569.7" cy="809.2" r="4.75"/>
<circle cx="580.4" cy="857.9" r="4.75"/>
<circle cx="556.1" cy="807.6" r="4.75"/>
<circle cx="579.0" cy="827.2" r="4.75"/>
<circle cx="538.8" cy="805.9" r="4.75"/>
<circle cx="536.6" cy="801.1" r="4.75"/>
<circle cx="553.7" cy="868.5" r="4.75"/>
<circle cx="576.4" cy="864.4" r="4.75"/>
<circle cx="555.7" cy="829.2" r="4.75"/>
<circle cx="547.7" cy="802.8" r="4.75"/>
<circle cx="570.8" cy="813.4" r="4.75"/>
<circle cx="576.0" cy="818.9" r="4.75"/>
<circle cx="547.3" cy="825.8" r="4.75"/>
<circle cx="588.2" cy="808.3" r="4.75"/>
<circle cx="578.9" cy="803.4" r="4.75"/>
<circle cx="550.3" cy="825.7" r="4.75"/>
<circle cx="557.7" cy="870.2" r="4.75"/>
<circle cx="559.7" cy="825.1" r="4.75"/>
<circle cx="544.5" cy="820.4" r="4.75"/>
<circle cx="572.0" cy="877.5" r="4.75"/>
<circle cx="594.7" cy="834.0" r="4.75"/>
<circle cx="581.9" cy="832.8" r="4.75"/>
<circle cx="561.5" cy="818.1" r="4.75"/>
<circle cx="592.1" cy="859.6" r="4.75"/>
<circle cx="564.0" cy="843.7" r="4.75"/>
<circle cx="593.1" cy="854.6" r="4.75"/>
<circle cx="579.2" cy="831.0" r="4.75"/>
<circle cx="564.2" cy="861.3" r="4.75"/>
<circle cx="566.5" cy="824.5" r="4.75"/>
<circle cx="544.2" cy="828.9" r="4.75"/>
<circle cx="558.9" cy="855.6" r="4.75"/>
<circle cx="548.2" cy="855.6" r="4.75"/>
<circle cx="578.0" cy="866.6" r="4.75"/>
<circle cx="588.0" cy="863.0" r="4.75"/>
<circle cx="554.2" cy="852.8" r="4.75"/>
<circle cx="592.0" cy="859.3" r="4.75"/>
<circle cx="596.2" cy="842.0" r="4.75"/>
<circle cx="590.5" cy="854.9" r="4.75"/>
<circle cx="556.4" cy="836.3" r="4.75"/>
<circle cx="581.0" cy="810.2" r="4.75"/>
<circle cx="577.9" cy="847.0" r="4.75"/>
<circle cx="561.9" cy="808.3" r="4.75"/>
<circle cx="577.5" cy="804.2" r="4.75"/>
<circle cx="567.2" cy="831.1" r="4.75"/>
<circle cx="566.3" cy="813.7" r="4.75"/>
<circle cx="543.1" cy="816.5" r="4.75"/>
<circle cx="551.5" cy="846.9" r="4.75"/>
<circle cx="553.7" cy="802.4" r="4.75"/>
<circle cx="538.9" cy="808.1" r="4.75"/>
<circle cx="558.4" cy="855.6" r="4.75"/>
<circle cx="549.9" cy="857.1" r="4.75"/>
<circle cx="579.0" cy="866.6" r="4.75"/>
<circle cx="556.3" cy="850.1" r="4.75"/>
<circle cx="584.9" cy="879.3" r="4.75"/>
<circle cx="567.5" cy="833.0" r="4.75"/>
<circle cx="563.4" cy="867.1" r="4.75"/>
<circle cx="562.8" cy="808.7" r="4.75"/>
<circle cx="592.6" cy="811.6" r="4.75"/>
<circle cx="565.7" cy="889.4" r="4.75"/>
<circle cx="544.4" cy="827.5" r="4.75"/>
<circle cx="540.2" cy="815.2" r="4.75"/>
<circle cx="563.1" cy="806.0" r="4.75"/>
<circle cx="581.6" cy="840.4" r="4.75"/>
<circle cx="561.2" cy="838.0" r="4.75"/>
<circle cx="558.1" cy="814.3" r="4.75"/>
<circle cx="586.8" cy="807.1" r="4.75"/>
<circle cx="586.5" cy="831.8" r="4.75"/>
<circle cx="547.9" cy="807.1" r="4.75"/>
<circle cx="592.8" cy="806.2" r="4.75"/>
<circle cx="590.7" cy="820.7" r="4.75"/>
<circle cx="574.2" cy="848.5" r="4.75"/>
<circle cx="579.1" cy="836.5" r="4.75"/>
<circle cx="564.4" cy="836.4" r="4.75"/>
<circle cx="574.7" cy="863.4" r="4.75"/>
<circle cx="578.6" cy="877.6" r="4.75"/>
<circle cx="583.3" cy="871.7" r="4.75"/>
<circle cx="593.8" cy="856.3" r="4.75"/>
<circle cx="583.1" cy="810.8" r="4.75"/>
<circle cx="540.6" cy="811.8" r="4.75"/>
<circle cx="550.4" cy="860.1" r="4.75"/>
<circle cx="581.0" cy="811.6" r="4.75"/>
<circle cx="593.6" cy="849.5" r="4.75"/>
<circle cx="572.1" cy="814.7" r="4.75"/>
<circle cx="560.5" cy="859.9" r="4.75"/>
<circle cx="595.6" cy="816.3" r="4.75"/>
<circle cx="586.1" cy="801.8" r="4.75"/>
<circle cx="589.4" cy="817.7" r="4.75"/>
<circle cx="548.4" cy="836.9" r="4.75"/>
<circle cx="576.8" cy="864.1" r="4.75"/>
<circle cx="567.2" cy="839.2" r="4.75"/>
<circle cx="554.3" cy="807.3" r="4.75"/>
<circle cx="562.8" cy="815.0" r="4.75"/>
<circle cx="568.2" cy="887.7" r="4.75"/>
<circle cx="568.2" cy="867.1" r="4.75"/>
<circle cx="563.2" cy="822.1" r="4.75"/>
<circle cx="586.1" cy="831.1" r="4.75"/>
<circle cx="594.8" cy="806.7" r="4.75"/>
<circle cx="583.6" cy="851.0" r="4.75"/>
<circle cx="589.9" cy="824.2" r="4.75"/>
<circle cx="583.3" cy="883.2" r="4.75"/>
<circle cx="560.0" cy="873.6" r="4.75"/>
<circle cx="548.4" cy="857.5" r="4.75"/>
<circle cx="572.7" cy="818.0" r="4.75"/>
<circle cx="579.0" cy="845.8" r="4.75"/>
<circle cx="576.4" cy="816.9" r="4.75"/>
<circle cx="570.6" cy="841.4" r="4.75"/>
<circle cx="594.6" cy="828.8" r="4.75"/>
<circle cx="560.1" cy="822.6" r="4.75"/>
<circle cx="594.3" cy="837.9" r="4.75"/>
<circle cx="596.4" cy="805.6" r="4.75"/>
<circle cx="590.3" cy="860.4" r="4.75"/>
<circle cx="556.2" cy="851.2" r="4.75"/>
<circle cx="553.5" cy="858.3" r="4.75"/>
<circle cx="588.0" cy="853.8" r="4.75"/>
<circle cx="579.7" cy="840.2" r="4.75"/>
<circle cx="555.7" cy="805.0" r="4.75"/>
<circle cx="565.9" cy="887.0" r="4.75"/>
<circle cx="565.0" cy="805.3" r="4.75"/>
<circle cx="559.6" cy="855.8" r="4.75"/>
<circle cx="542.1" cy="821.7" r="4.75"/>
<circle cx="576.7" cy="801.6" r="4.75"/>
<circle cx="559.7" cy="827.8" r="4.75"/>
<circle cx="593.5" cy="830.2" r="4.75"/>
<circle cx="550.6" cy="813.9" r="4.75"/>
<circle cx="547.3" cy="847.1" r="4.75"/>
<circle cx="542.9" cy="815.1" r="4.75"/>
<circle cx="560.0" cy="806.8" r="4.75"/>
<circle cx="541.8" cy="806.0" r="4.75"/>
<circle cx="561.3" cy="856.0" r="4.75"/>
<circle cx="557.7" cy="851.3" r="4.75"/>
<circle cx="569.2" cy="868.0" r="4.75"/>
<circle cx="584.2" cy="815.0" r="4.75"/>
<circle cx="586.7" cy="876.4" r="4.75"/>
<circle cx="581.0" cy="843.4" r="4.75"/>
<circle cx="569.2" cy="839.4" r="4.75"/>
<circle cx="552.0" cy="854.9" r="4.75"/>
<circle cx="560.2" cy="817.0" r="4.75"/>
<circle cx="550.5" cy="800.3" r="4.75"/>
<circle cx="571.8" cy="884.3" r="4.75"/>
<circle cx="578.7" cy="804.2" r="4.75"/>
<circle cx="588.9" cy="807.3" r="4.75"/>
<circle cx="559.6" cy="879.8" r="4.75"/>
<circle cx="550.9" cy="843.4" r="4.75"/>
<circle cx="569.3" cy="862.1" r="4.75"/>
<circle cx="563.9" cy="877.9" r="4.75"/>
<circle cx="561.7" cy="861.2" r="4.75"/>
<circle cx="582.5" cy="810.6" r="4.75"/>
<circle cx="585.9" cy="875.0" r="4.75"/>
<circle cx="583.9" cy="806.6" r="4.75"/>
<circle cx="550.1" cy="826.1" r="4.75"/>
<circle cx="583.0" cy="866.5" r="4.75"/>
<circle cx="546.8" cy="800.1" r="4.75"/>
<circle cx="582.5" cy="853.3" r="4.75"/>
<circle cx="588.3" cy="818.4" r="4.75"/>
<circle cx="554.6" cy="861.3" r="4.75"/>
<circle cx="571.8" cy="877.1" r="4.75"/>
<circle cx="561.7" cy="866.8" r="4.75"/>
<circle cx="567.1" cy="821.0" r="4.75"/>
<circle cx="582.3" cy="807.5" r="4.75"/>
<circle cx="540.7" cy="808.7" r="4.75"/>
<circle cx="579.1" cy="811.3" r="4.75"/>
<circle cx="555.3" cy="817.3" r="4.75"/>
<circle cx="596.7" cy="811.7" r="4.75"/>
<circle cx="556.5" cy="824.7" r="4.75"/>
<circle cx="588.6" cy="836.4" r="4.75"/>
<circle cx="586.5" cy="874.3" r="4.75"/>
<circle cx="556.6" cy="865.2" r="4.75"/>
<circle cx="567.7" cy="839.9" r="4.75"/>
<circle cx="547.9" cy="830.3" r="4.75"/>
<circle cx="595.1" cy="849.6" r="4.75"/>
<circle cx="561.3" cy="839.7" r="4.75"/>
<circle cx="580.1" cy="890.2" r="4.75"/>
<circle cx="571.5" cy="843.9" r="4.75"/>
<circle cx="549.4" cy="809.4" r="4.75"/>
<circle cx="539.5" cy="804.2" r="4.75"/>
<circle cx="575.0" cy="847.3" r="4.75"/>
<circle cx="575.4" cy="812.4" r="4.75"/>
<circle cx="593.2" cy="854.8" r="4.75"/>
<circle cx="562.4" cy="862.3" r="4.75"/>
<circle cx="591.1" cy="805.6" r="4.75"/>
<circle cx="537.7" cy="809.8" r="4.75"/>
<circle cx="574.8" cy="853.7" r="4.75"/>
<circle cx="561.1" cy="822.5" r="4.75"/>
<circle cx="539.8" cy="811.8" r="4.75"/>
<circle cx="589.3" cy="840.7" r="4.75"/>
<circle cx="555.3" cy="868.1" r="4.75"/>
<circle cx="569.6" cy="832.7" r="4.75"/>
<circle cx="565.7" cy="855.7" r="4.75"/>
<circle cx="552.3" cy="842.8" r="4.75"/>
<circle cx="587.7" cy="827.5" r="4.75"/>
<circle cx="577.6" cy="880.1" r="4.75"/>
<circle cx="593.4" cy="802.9" r="4.75"/>
<circle cx="554.6" cy="835.7" r="4.75"/>
<circle cx="580.0" cy="856.7" r="4.75"/>
<circle cx="581.5" cy="868.0" r="4.75"/>
<circle cx="572.6" cy="827.0" r="4.75"/>
<circle cx="583.6" cy="846.2" r="4.75"/>
<circle cx="553.9" cy="833.7" r="4.75"/>
<circle cx="560.4" cy="836.1" r="4.75"/>
<circle cx="583.1" cy="869.8" r="4.75"/>
<circle cx="568.0" cy="836.9" r="4.75"/>
<circle cx="561.0" cy="881.5" r="4.75"/>
<circle cx="586.6" cy="805.9" r="4.75"/>
<circle cx="594.8" cy="825.9" r="4.75"/>
<circle cx="589.4" cy="854.3" r="4.75"/>
<circle cx="565.6" cy="826.3" r="4.75"/>
<circle cx="551.6" cy="840.4" r="4.75"/>
<circle cx="586.7" cy="830.7" r="4.75"/>
<circle cx="572.0" cy="843.7" r="4.75"/>
<circle cx="579.6" cy="884.7" r="4.75"/>
<circle cx="563.7" cy="885.9" r="4.75"/>
<circle cx="547.2" cy="814.9" r="4.75"/>
<circle cx="569.7" cy="803.2" r="4.75"/>
<circle cx="567.3" cy="850.9" r="4.75"/>
<circle cx="545.6" cy="819.5" r="4.75"/>
<circle cx="556.6" cy="874.6" r="4.75"/>
<circle cx="592.1" cy="802.9" r="4.75"/>
<circle cx="578.4" cy="848.9" r="4.75"/>
<circle cx="569.9" cy="811.8" r="4.75"/>
<circle cx="555.1" cy="838.4" r="4.75"/>
<circle cx="588.6" cy="834.6" r="4.75"/>
<circle cx="582.8" cy="880.9" r="4.75"/>
<circle cx="558.9" cy="810.8" r="4.75"/>
<circle cx="552.4" cy="855.8" r="4.75"/>
<circle cx="590.3" cy="818.1" r="4.75"/>
<circle cx="599.0" cy="801.7" r="4.75"/>
<circle cx="592.7" cy="852.8" r="4.75"/>
<circle cx="587.9" cy="820.0" r="4.75"/>
<circle cx="564.9" cy="846.6" r="4.75"/>
<circle cx="554.1" cy="812.8" r="4.75"/>
<circle cx="551.5" cy="810.4" r="4.75"/>
<circle cx="553.7" cy="809.0" r="4.75"/>
<circle cx="562.3" cy="822.8" r="4.75"/>
<circle cx="576.4" cy="824.4" r="4.75"/>
<circle cx="545.6" cy="805.7" r="4.75"/>
<circle cx="546.3" cy="842.9" r="4.75"/>
<circle cx="583.4" cy="838.3" r="4.75"/>
<circle cx="576.4" cy="814.6" r="4.75"/>
<circle cx="573.3" cy="821.3" r="4.75"/>
<circle cx="555.0" cy="867.5" r="4.75"/>
<circle cx="574.3" cy="814.1" r="4.75"/>
<circle cx="576.5" cy="838.1" r="4.75"/>
<circle cx="556.2" cy="814.1" r="4.75"/>
<circle cx="498.1" cy="576.1" r="4.75"/>
<circle cx="498.2" cy="551.6" r="4.75"/>
<circle cx="492.2" cy="557.4" r="4.75"/>
<circle cx="497.6" cy="604.4" r="4.75"/>
<circle cx="490.9" cy="532.2" r="4.75"/>
<circle cx="492.7" cy="476.6" r="4.75"/>
<circle cx="492.7" cy="618.8" r="4.75"/>
<circle cx="490.4" cy="494.6" r="4.75"/>
<circle cx="491.9" cy="505.4" r="4.75"/>
<circle cx="490.2" cy="494.7" r="4.75"/>
<circle cx="501.8" cy="466.4" r="4.75"/>
<circle cx="495.7" cy="619.3" r="4.75"/>
<circle cx="497.2" cy="581.4" r="4.75"/>
<circle cx="495.9" cy="461.5" r="4.75"/>
<circle cx="493.5" cy="449.6" r="4.75"/>
<circle cx="489.2" cy="614.7" r="4.75"/>
<circle cx="496.7" cy="443.3" r="4.75"/>
<circle cx="497.4" cy="578.3" r="4.75"/>
<circle cx="497.5" cy="583.8" r="4.75"/>
<circle cx="493.9" cy="564.6" r="4.75"/>
<circle cx="500.4" cy="575.0" r="4.75"/>
<circle cx="492.3" cy="457.6" r="4.75"/>
<circle cx="493.4" cy="548.6" r="4.75"/>
<circle cx="490.4" cy="605.8" r="4.75"/>
<circle cx="487.7" cy="564.0" r="4.75"/>
<circle cx="487.8" cy="617.8" r="4.75"/>
<circle cx="491.0" cy="517.6" r="4.75"/>
<circle cx="497.8" cy="454.1" r="4.75"/>
<circle cx="488.5" cy="521.4" r="4.75"/>
<circle cx="487.4" cy="604.1" r="4.75"/>
<circle cx="488.2" cy="598.2" r="4.75"/>
<circle cx="487.8" cy="589.2" r="4.75"/>
<circle cx="496.0" cy="566.8" r="4.75"/>
<circle cx="496.8" cy="576.2" r="4.75"/>
<circle cx="502.8" cy="576.2" r="4.75"/>
<circle cx="494.1" cy="558.8" r="4.75"/>
<circle cx="490.6" cy="582.9" r="4.75"/>
<circle cx="492.5" cy="622.6" r="4.75"/>
<circle cx="492.5" cy="455.2" r="4.75"/>
<circle cx="507.5" cy="441.3" r="4.75"/>
</g>
<g font-family="'Liberation Serif','Times New Roman',serif" font-size="18.5">
<text transform="translate(336,156.7) scale(0.955,1)">copB</text>
<text transform="translate(271.7,240.7) scale(0.955,1)">lp_0302</text>
<text transform="translate(327.7,302.4) scale(0.955,1)">lp_0783</text>
<text transform="translate(386.2,264.8) scale(0.955,1)">pts4ABC</text>
<text transform="translate(447.4,267.7) scale(0.955,1)">py<tspan dx="2.6">rD</tspan></text>
<text transform="translate(397.2,302.4) scale(0.955,1)">py<tspan dx="2.6">rR1</tspan></text>
<text transform="translate(410.1,326.1) scale(0.955,1)">py<tspan dx="2.6">rAB</tspan></text>
<text transform="translate(359.9,337.6) scale(0.955,1)">pnuC1</text>
<text transform="translate(406.3,362.7) scale(0.955,1)">py<tspan dx="2.6">rAA</tspan></text>
<text transform="translate(303.6,374.3) scale(0.955,1)">lp_3421</text>
<text transform="translate(345.6,389.8) scale(0.955,1)">lp_0018</text>
<text transform="translate(422.3,395.6) scale(0.955,1)">lp_2809</text>
<text transform="translate(346.4,412.9) scale(0.955,1)">lp_2845</text>
<text transform="translate(393.9,421.6) scale(0.955,1)">lp_0595</text>
<text transform="translate(398.1,439) scale(0.955,1)">py<tspan dx="2.6">rC</tspan></text>
<text transform="translate(431,436.1) scale(0.955,1)">lp_3177</text>
<text transform="translate(407.4,450.6) scale(0.955,1)">py<tspan dx="2.6">rB</tspan></text>
<text transform="translate(381.7,482.4) scale(0.955,1)">lp_0304</text>
<text transform="translate(435.8,476.6) scale(0.955,1)">lp_1856</text>
<text transform="translate(224.8,436.1) scale(0.955,1)">cblB</text>
<text transform="translate(247.6,449.6) scale(0.955,1)">cbs</text>
<text transform="translate(272.3,462.2) scale(0.955,1)">cy<tspan dx="2.6">sE</tspan></text>
<text transform="translate(334.4,525.4) scale(0.955,1)">lp_3014</text>
<text transform="translate(430.6,536) scale(0.955,1)">treA</text>
<text transform="translate(442.5,556.3) scale(0.955,1)">lp_3178</text>
<text transform="translate(364.9,585.2) scale(0.955,1)">lp_3050</text>
<text transform="translate(452.6,622.9) scale(0.955,1)">copA</text>
<text transform="translate(794.4,257.3) scale(0.955,1)">m<tspan dx="2.6">ntH3</tspan></text>
<text transform="translate(712.8,280.5) scale(0.955,1)">xpkA</text>
<text transform="translate(792.1,296) scale(0.955,1)">lp_2993</text>
<text transform="translate(709.5,350) scale(0.955,1)">purA</text>
<text transform="translate(747.5,390.2) scale(0.955,1)">guaC</text>
<text transform="translate(720.7,419.6) scale(0.955,1)">dapA2</text>
<text transform="translate(683.4,461.1) scale(0.955,1)">araT2</text>
<text transform="translate(725.9,479.4) scale(0.955,1)">lp_2994</text>
<text transform="translate(670.3,514.2) scale(0.955,1)">lrgA</text>
<text transform="translate(712.4,528.6) scale(0.955,1)">m<tspan dx="2.6">apB</tspan></text>
<text transform="translate(711.4,547) scale(0.955,1)">lp_3278</text>
<text transform="translate(682.9,585.1) scale(0.955,1)">aroI</text>
<text transform="translate(685.4,618.3) scale(0.955,1)">m<tspan dx="2.6">tsC</tspan></text>
<text transform="translate(690.6,646.9) scale(0.955,1)">livA</text>
<text transform="translate(787.1,654) scale(0.955,1)">lp_0277</text>
<text transform="translate(711.8,715.4) scale(0.955,1)">m<tspan dx="2.6">sm</tspan><tspan dx="2.6">X</tspan></text>
<text transform="translate(748.5,750.2) scale(0.955,1)">lp_2432</text>
<text transform="translate(701.7,805.8) scale(0.955,1)">cps4E</text>
</g>
</svg>
</body></html>
